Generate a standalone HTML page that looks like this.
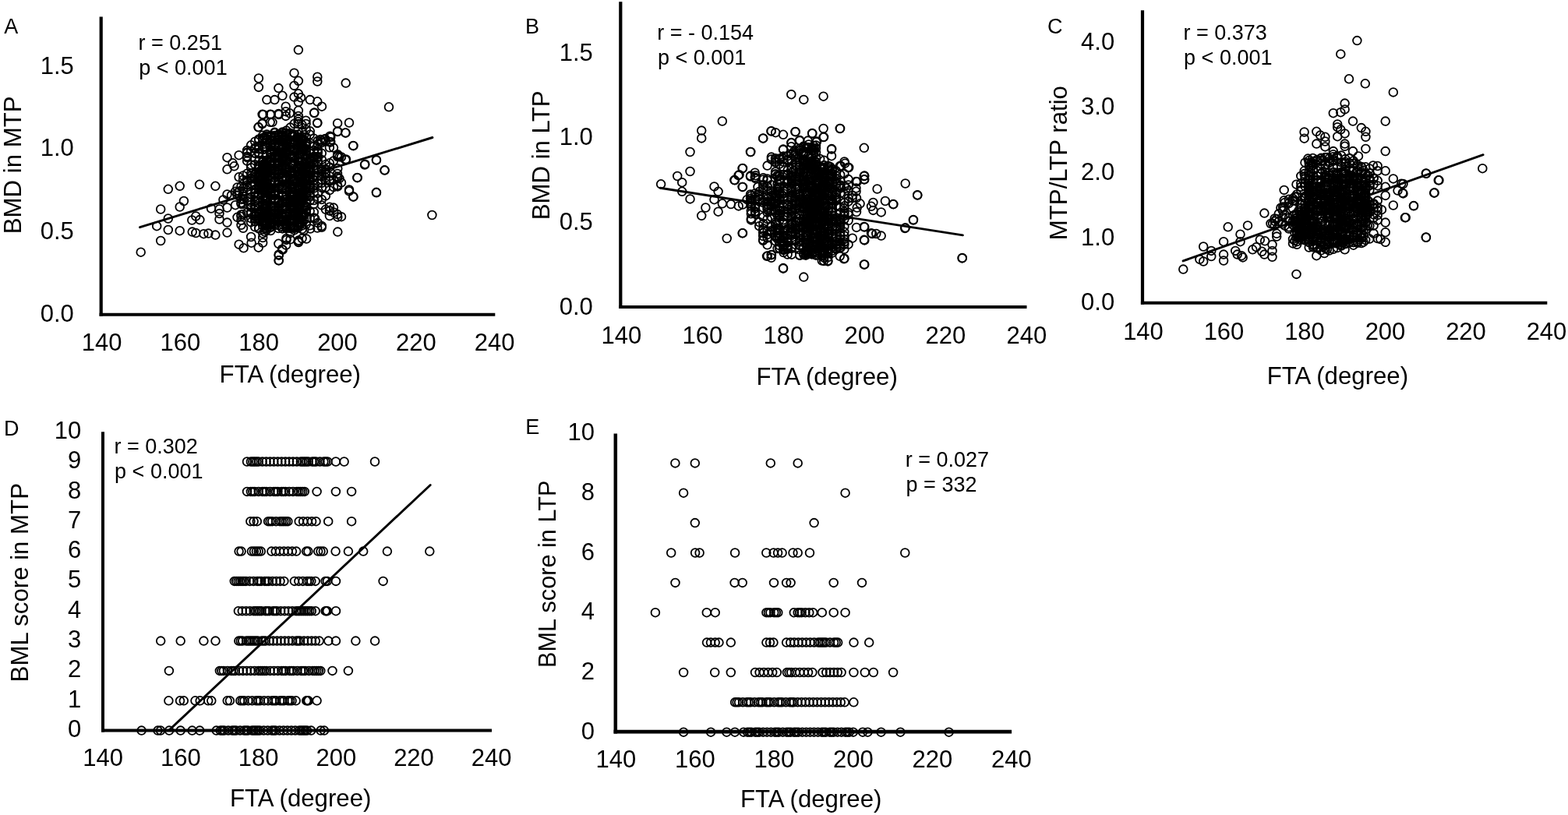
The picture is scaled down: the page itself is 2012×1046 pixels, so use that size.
<!DOCTYPE html>
<html><head><meta charset="utf-8"><title>Scatter plots: FTA vs BMD and BML scores</title>
<style>html,body{margin:0;padding:0;background:#fff}svg{display:block}</style></head>
<body><svg width="2012" height="1046" viewBox="0 0 2012 1046">
<rect width="2012" height="1046" fill="#fff"/>
<g fill="#000" font-family="Liberation Sans, Arial, Helvetica, sans-serif" font-size="31">
<text x="5.3" y="42.9" font-size="27">A</text>
<text x="94.8" y="412.8" text-anchor="end">0.0</text>
<text x="94.8" y="306.5" text-anchor="end">0.5</text>
<text x="94.8" y="200.3" text-anchor="end">1.0</text>
<text x="94.8" y="95.2" text-anchor="end">1.5</text>
<text x="130.6" y="449.8" text-anchor="middle">140</text>
<text x="231.4" y="449.8" text-anchor="middle">160</text>
<text x="332.2" y="449.8" text-anchor="middle">180</text>
<text x="433.0" y="449.8" text-anchor="middle">200</text>
<text x="533.8" y="449.8" text-anchor="middle">220</text>
<text x="634.6" y="449.8" text-anchor="middle">240</text>
<text x="281.6" y="490.8" font-size="31.2">FTA (degree)</text>
<text x="26.6" y="300.2" font-size="31.2" transform="rotate(-90 26.6 300.2)">BMD in MTP</text>
<text x="177.6" y="64.2" font-size="27">r = 0.251</text>
<text x="178.3" y="95.8" font-size="27">p &lt; 0.001</text>
<text x="673.9" y="42.9" font-size="27">B</text>
<text x="760.8" y="403.5" text-anchor="end">0.0</text>
<text x="760.8" y="295.0" text-anchor="end">0.5</text>
<text x="760.8" y="186.2" text-anchor="end">1.0</text>
<text x="760.8" y="78.2" text-anchor="end">1.5</text>
<text x="797.4" y="440.9" text-anchor="middle">140</text>
<text x="901.4" y="440.9" text-anchor="middle">160</text>
<text x="1005.4" y="440.9" text-anchor="middle">180</text>
<text x="1109.4" y="440.9" text-anchor="middle">200</text>
<text x="1213.4" y="440.9" text-anchor="middle">220</text>
<text x="1317.4" y="440.9" text-anchor="middle">240</text>
<text x="970.4" y="493.9" font-size="31.2">FTA (degree)</text>
<text x="705.1" y="282.3" font-size="31.2" transform="rotate(-90 705.1 282.3)">BMD in LTP</text>
<text x="843.2" y="51.2" font-size="27">r = - 0.154</text>
<text x="843.9" y="83.0" font-size="27">p &lt; 0.001</text>
<text x="1344.1" y="42.8" font-size="27">C</text>
<text x="1430.2" y="398.3" text-anchor="end">0.0</text>
<text x="1430.2" y="314.8" text-anchor="end">1.0</text>
<text x="1430.2" y="231.1" text-anchor="end">2.0</text>
<text x="1430.2" y="147.0" text-anchor="end">3.0</text>
<text x="1430.2" y="64.0" text-anchor="end">4.0</text>
<text x="1467.0" y="435.8" text-anchor="middle">140</text>
<text x="1570.5" y="435.8" text-anchor="middle">160</text>
<text x="1674.0" y="435.8" text-anchor="middle">180</text>
<text x="1777.5" y="435.8" text-anchor="middle">200</text>
<text x="1881.0" y="435.8" text-anchor="middle">220</text>
<text x="1984.5" y="435.8" text-anchor="middle">240</text>
<text x="1625.7" y="493.2" font-size="31.2">FTA (degree)</text>
<text x="1368.8" y="308.2" font-size="31.2" transform="rotate(-90 1368.8 308.2)">MTP/LTP ratio</text>
<text x="1518.4" y="51.2" font-size="27">r = 0.373</text>
<text x="1519.1" y="83.0" font-size="27">p &lt; 0.001</text>
<text x="4.9" y="559.4" font-size="27">D</text>
<text x="104.3" y="945.8" text-anchor="end">0</text>
<text x="104.3" y="907.5" text-anchor="end">1</text>
<text x="104.3" y="869.2" text-anchor="end">2</text>
<text x="104.3" y="830.9" text-anchor="end">3</text>
<text x="104.3" y="792.6" text-anchor="end">4</text>
<text x="104.3" y="754.3" text-anchor="end">5</text>
<text x="104.3" y="716.1" text-anchor="end">6</text>
<text x="104.3" y="677.8" text-anchor="end">7</text>
<text x="104.3" y="639.5" text-anchor="end">8</text>
<text x="104.3" y="601.2" text-anchor="end">9</text>
<text x="104.3" y="562.9" text-anchor="end">10</text>
<text x="132.2" y="983.3" text-anchor="middle">140</text>
<text x="231.9" y="983.3" text-anchor="middle">160</text>
<text x="331.6" y="983.3" text-anchor="middle">180</text>
<text x="431.3" y="983.3" text-anchor="middle">200</text>
<text x="531.0" y="983.3" text-anchor="middle">220</text>
<text x="630.7" y="983.3" text-anchor="middle">240</text>
<text x="295.0" y="1034.6" font-size="31.2">FTA (degree)</text>
<text x="35.8" y="875.4" font-size="31.2" transform="rotate(-90 35.8 875.4)">BML score in MTP</text>
<text x="146.4" y="582.4" font-size="27">r = 0.302</text>
<text x="147.1" y="614.4" font-size="27">p &lt; 0.001</text>
<text x="674.2" y="557.0" font-size="27">E</text>
<text x="763.0" y="948.6" text-anchor="end">0</text>
<text x="763.0" y="871.9" text-anchor="end">2</text>
<text x="763.0" y="795.3" text-anchor="end">4</text>
<text x="763.0" y="718.6" text-anchor="end">6</text>
<text x="763.0" y="642.0" text-anchor="end">8</text>
<text x="763.0" y="565.3" text-anchor="end">10</text>
<text x="790.3" y="985.2" text-anchor="middle">140</text>
<text x="891.8" y="985.2" text-anchor="middle">160</text>
<text x="993.3" y="985.2" text-anchor="middle">180</text>
<text x="1094.8" y="985.2" text-anchor="middle">200</text>
<text x="1196.3" y="985.2" text-anchor="middle">220</text>
<text x="1297.8" y="985.2" text-anchor="middle">240</text>
<text x="950.0" y="1036.2" font-size="31.2">FTA (degree)</text>
<text x="712.7" y="857.0" font-size="30.7" transform="rotate(-90 712.7 857.0)">BML score in LTP</text>
<text x="1161.8" y="598.6" font-size="27">r = 0.027</text>
<text x="1162.6" y="630.6" font-size="27">p = 332</text>
</g>
<g stroke="#000" fill="none" stroke-linecap="butt">
<path d="M129.7 21.6 V405.8" stroke-width="4.2"/>
<path d="M127.6 403.8 H635.3" stroke-width="4.0"/>
<path d="M796.3 2.3 V396.1" stroke-width="4.2"/>
<path d="M794.1999999999999 394.1 H1317.5" stroke-width="4.0"/>
<path d="M1466.0 13.2 V390.7" stroke-width="4.2"/>
<path d="M1463.9 388.7 H1985.3" stroke-width="4.0"/>
<path d="M132.0 554.3 V939.6" stroke-width="4.0"/>
<path d="M130.0 937.5 H631.0" stroke-width="4.2"/>
<path d="M789.8 556.4 V941.4" stroke-width="4.5"/>
<path d="M787.55 939.1 H1298.1" stroke-width="4.6"/>
</g>
<g stroke="#000" fill="none" stroke-width="1.8">
<circle cx="322.1" cy="259.5" r="5.35"/>
<circle cx="327.2" cy="222.8" r="5.35"/>
<circle cx="327.2" cy="224.3" r="5.35"/>
<circle cx="327.2" cy="227.5" r="5.35"/>
<circle cx="327.2" cy="230.1" r="5.35"/>
<circle cx="327.2" cy="237.4" r="5.35"/>
<circle cx="327.2" cy="243.0" r="5.35"/>
<circle cx="327.2" cy="247.7" r="5.35"/>
<circle cx="327.2" cy="252.1" r="5.35"/>
<circle cx="327.2" cy="257.4" r="5.35"/>
<circle cx="327.2" cy="259.4" r="5.35"/>
<circle cx="327.2" cy="262.9" r="5.35"/>
<circle cx="327.2" cy="265.1" r="5.35"/>
<circle cx="327.2" cy="274.8" r="5.35"/>
<circle cx="327.2" cy="276.6" r="5.35"/>
<circle cx="327.2" cy="284.0" r="5.35"/>
<circle cx="332.2" cy="213.6" r="5.35"/>
<circle cx="332.2" cy="216.9" r="5.35"/>
<circle cx="332.2" cy="224.8" r="5.35"/>
<circle cx="332.2" cy="226.4" r="5.35"/>
<circle cx="332.2" cy="228.1" r="5.35"/>
<circle cx="332.2" cy="238.3" r="5.35"/>
<circle cx="332.2" cy="242.2" r="5.35"/>
<circle cx="332.2" cy="244.1" r="5.35"/>
<circle cx="332.2" cy="260.8" r="5.35"/>
<circle cx="332.2" cy="272.6" r="5.35"/>
<circle cx="332.2" cy="274.5" r="5.35"/>
<circle cx="332.2" cy="277.9" r="5.35"/>
<circle cx="332.2" cy="279.9" r="5.35"/>
<circle cx="332.2" cy="282.7" r="5.35"/>
<circle cx="337.2" cy="211.8" r="5.35"/>
<circle cx="337.2" cy="213.5" r="5.35"/>
<circle cx="337.2" cy="215.7" r="5.35"/>
<circle cx="337.2" cy="223.1" r="5.35"/>
<circle cx="337.2" cy="226.4" r="5.35"/>
<circle cx="337.2" cy="229.8" r="5.35"/>
<circle cx="337.2" cy="234.5" r="5.35"/>
<circle cx="337.2" cy="238.2" r="5.35"/>
<circle cx="337.2" cy="241.4" r="5.35"/>
<circle cx="337.2" cy="243.0" r="5.35"/>
<circle cx="337.2" cy="249.1" r="5.35"/>
<circle cx="337.2" cy="262.6" r="5.35"/>
<circle cx="337.2" cy="277.2" r="5.35"/>
<circle cx="337.2" cy="282.5" r="5.35"/>
<circle cx="337.2" cy="285.5" r="5.35"/>
<circle cx="339.8" cy="210.7" r="5.35"/>
<circle cx="339.8" cy="216.1" r="5.35"/>
<circle cx="339.8" cy="218.0" r="5.35"/>
<circle cx="339.8" cy="220.4" r="5.35"/>
<circle cx="339.8" cy="223.5" r="5.35"/>
<circle cx="339.8" cy="227.5" r="5.35"/>
<circle cx="339.8" cy="234.8" r="5.35"/>
<circle cx="339.8" cy="238.8" r="5.35"/>
<circle cx="339.8" cy="240.4" r="5.35"/>
<circle cx="339.8" cy="247.9" r="5.35"/>
<circle cx="339.8" cy="251.4" r="5.35"/>
<circle cx="339.8" cy="255.4" r="5.35"/>
<circle cx="339.8" cy="257.8" r="5.35"/>
<circle cx="339.8" cy="261.3" r="5.35"/>
<circle cx="339.8" cy="264.5" r="5.35"/>
<circle cx="339.8" cy="271.2" r="5.35"/>
<circle cx="339.8" cy="273.0" r="5.35"/>
<circle cx="339.8" cy="277.3" r="5.35"/>
<circle cx="339.8" cy="279.5" r="5.35"/>
<circle cx="339.8" cy="285.2" r="5.35"/>
<circle cx="339.8" cy="286.8" r="5.35"/>
<circle cx="342.3" cy="209.4" r="5.35"/>
<circle cx="342.3" cy="211.1" r="5.35"/>
<circle cx="342.3" cy="214.7" r="5.35"/>
<circle cx="342.3" cy="217.0" r="5.35"/>
<circle cx="342.3" cy="219.7" r="5.35"/>
<circle cx="342.3" cy="223.5" r="5.35"/>
<circle cx="342.3" cy="236.1" r="5.35"/>
<circle cx="342.3" cy="239.9" r="5.35"/>
<circle cx="342.3" cy="252.3" r="5.35"/>
<circle cx="342.3" cy="254.5" r="5.35"/>
<circle cx="342.3" cy="265.0" r="5.35"/>
<circle cx="342.3" cy="268.1" r="5.35"/>
<circle cx="342.3" cy="270.3" r="5.35"/>
<circle cx="342.3" cy="276.7" r="5.35"/>
<circle cx="342.3" cy="286.7" r="5.35"/>
<circle cx="342.3" cy="288.2" r="5.35"/>
<circle cx="347.3" cy="192.1" r="5.35"/>
<circle cx="347.3" cy="194.6" r="5.35"/>
<circle cx="347.3" cy="196.1" r="5.35"/>
<circle cx="347.3" cy="197.8" r="5.35"/>
<circle cx="347.3" cy="202.7" r="5.35"/>
<circle cx="347.3" cy="218.6" r="5.35"/>
<circle cx="347.3" cy="242.8" r="5.35"/>
<circle cx="347.3" cy="246.8" r="5.35"/>
<circle cx="347.3" cy="248.4" r="5.35"/>
<circle cx="347.3" cy="251.2" r="5.35"/>
<circle cx="347.3" cy="258.1" r="5.35"/>
<circle cx="347.3" cy="265.9" r="5.35"/>
<circle cx="347.3" cy="271.0" r="5.35"/>
<circle cx="347.3" cy="273.4" r="5.35"/>
<circle cx="347.3" cy="277.5" r="5.35"/>
<circle cx="347.3" cy="281.3" r="5.35"/>
<circle cx="347.3" cy="286.2" r="5.35"/>
<circle cx="347.3" cy="288.8" r="5.35"/>
<circle cx="352.4" cy="174.1" r="5.35"/>
<circle cx="352.4" cy="176.8" r="5.35"/>
<circle cx="352.4" cy="185.5" r="5.35"/>
<circle cx="352.4" cy="188.1" r="5.35"/>
<circle cx="352.4" cy="199.7" r="5.35"/>
<circle cx="352.4" cy="203.8" r="5.35"/>
<circle cx="352.4" cy="209.4" r="5.35"/>
<circle cx="352.4" cy="215.2" r="5.35"/>
<circle cx="352.4" cy="217.5" r="5.35"/>
<circle cx="352.4" cy="220.2" r="5.35"/>
<circle cx="352.4" cy="222.7" r="5.35"/>
<circle cx="352.4" cy="228.3" r="5.35"/>
<circle cx="352.4" cy="233.9" r="5.35"/>
<circle cx="352.4" cy="235.9" r="5.35"/>
<circle cx="352.4" cy="245.0" r="5.35"/>
<circle cx="352.4" cy="248.4" r="5.35"/>
<circle cx="352.4" cy="250.9" r="5.35"/>
<circle cx="352.4" cy="254.4" r="5.35"/>
<circle cx="352.4" cy="269.5" r="5.35"/>
<circle cx="352.4" cy="273.9" r="5.35"/>
<circle cx="352.4" cy="278.8" r="5.35"/>
<circle cx="352.4" cy="289.1" r="5.35"/>
<circle cx="357.4" cy="174.1" r="5.35"/>
<circle cx="357.4" cy="178.7" r="5.35"/>
<circle cx="357.4" cy="188.3" r="5.35"/>
<circle cx="357.4" cy="195.2" r="5.35"/>
<circle cx="357.4" cy="199.7" r="5.35"/>
<circle cx="357.4" cy="202.7" r="5.35"/>
<circle cx="357.4" cy="205.8" r="5.35"/>
<circle cx="357.4" cy="212.0" r="5.35"/>
<circle cx="357.4" cy="216.4" r="5.35"/>
<circle cx="357.4" cy="218.0" r="5.35"/>
<circle cx="357.4" cy="223.8" r="5.35"/>
<circle cx="357.4" cy="233.5" r="5.35"/>
<circle cx="357.4" cy="240.6" r="5.35"/>
<circle cx="357.4" cy="250.1" r="5.35"/>
<circle cx="357.4" cy="260.0" r="5.35"/>
<circle cx="357.4" cy="264.2" r="5.35"/>
<circle cx="357.4" cy="271.1" r="5.35"/>
<circle cx="357.4" cy="274.3" r="5.35"/>
<circle cx="357.4" cy="276.2" r="5.35"/>
<circle cx="357.4" cy="279.2" r="5.35"/>
<circle cx="357.4" cy="282.0" r="5.35"/>
<circle cx="357.4" cy="293.0" r="5.35"/>
<circle cx="362.4" cy="174.0" r="5.35"/>
<circle cx="362.4" cy="175.9" r="5.35"/>
<circle cx="362.4" cy="180.1" r="5.35"/>
<circle cx="362.4" cy="185.8" r="5.35"/>
<circle cx="362.4" cy="189.1" r="5.35"/>
<circle cx="362.4" cy="191.6" r="5.35"/>
<circle cx="362.4" cy="194.9" r="5.35"/>
<circle cx="362.4" cy="197.8" r="5.35"/>
<circle cx="362.4" cy="203.3" r="5.35"/>
<circle cx="362.4" cy="205.3" r="5.35"/>
<circle cx="362.4" cy="207.2" r="5.35"/>
<circle cx="362.4" cy="210.0" r="5.35"/>
<circle cx="362.4" cy="215.6" r="5.35"/>
<circle cx="362.4" cy="222.1" r="5.35"/>
<circle cx="362.4" cy="227.4" r="5.35"/>
<circle cx="362.4" cy="238.5" r="5.35"/>
<circle cx="362.4" cy="241.6" r="5.35"/>
<circle cx="362.4" cy="243.2" r="5.35"/>
<circle cx="362.4" cy="247.0" r="5.35"/>
<circle cx="362.4" cy="250.6" r="5.35"/>
<circle cx="362.4" cy="252.7" r="5.35"/>
<circle cx="362.4" cy="258.1" r="5.35"/>
<circle cx="362.4" cy="261.1" r="5.35"/>
<circle cx="362.4" cy="263.5" r="5.35"/>
<circle cx="362.4" cy="266.4" r="5.35"/>
<circle cx="362.4" cy="278.0" r="5.35"/>
<circle cx="362.4" cy="279.5" r="5.35"/>
<circle cx="362.4" cy="282.6" r="5.35"/>
<circle cx="362.4" cy="285.2" r="5.35"/>
<circle cx="362.4" cy="287.5" r="5.35"/>
<circle cx="362.4" cy="291.0" r="5.35"/>
<circle cx="362.4" cy="293.4" r="5.35"/>
<circle cx="367.5" cy="173.6" r="5.35"/>
<circle cx="367.5" cy="175.8" r="5.35"/>
<circle cx="367.5" cy="179.4" r="5.35"/>
<circle cx="367.5" cy="184.2" r="5.35"/>
<circle cx="367.5" cy="192.2" r="5.35"/>
<circle cx="367.5" cy="194.7" r="5.35"/>
<circle cx="367.5" cy="198.3" r="5.35"/>
<circle cx="367.5" cy="206.6" r="5.35"/>
<circle cx="367.5" cy="214.3" r="5.35"/>
<circle cx="367.5" cy="216.7" r="5.35"/>
<circle cx="367.5" cy="220.9" r="5.35"/>
<circle cx="367.5" cy="227.5" r="5.35"/>
<circle cx="367.5" cy="230.7" r="5.35"/>
<circle cx="367.5" cy="236.1" r="5.35"/>
<circle cx="367.5" cy="241.4" r="5.35"/>
<circle cx="367.5" cy="255.5" r="5.35"/>
<circle cx="367.5" cy="259.8" r="5.35"/>
<circle cx="367.5" cy="265.3" r="5.35"/>
<circle cx="367.5" cy="268.3" r="5.35"/>
<circle cx="367.5" cy="274.5" r="5.35"/>
<circle cx="367.5" cy="277.3" r="5.35"/>
<circle cx="367.5" cy="281.2" r="5.35"/>
<circle cx="367.5" cy="284.3" r="5.35"/>
<circle cx="367.5" cy="287.1" r="5.35"/>
<circle cx="367.5" cy="289.1" r="5.35"/>
<circle cx="367.5" cy="291.5" r="5.35"/>
<circle cx="372.5" cy="172.3" r="5.35"/>
<circle cx="372.5" cy="179.5" r="5.35"/>
<circle cx="372.5" cy="182.1" r="5.35"/>
<circle cx="372.5" cy="193.3" r="5.35"/>
<circle cx="372.5" cy="198.0" r="5.35"/>
<circle cx="372.5" cy="201.2" r="5.35"/>
<circle cx="372.5" cy="209.9" r="5.35"/>
<circle cx="372.5" cy="219.4" r="5.35"/>
<circle cx="372.5" cy="222.2" r="5.35"/>
<circle cx="372.5" cy="224.2" r="5.35"/>
<circle cx="372.5" cy="229.3" r="5.35"/>
<circle cx="372.5" cy="237.2" r="5.35"/>
<circle cx="372.5" cy="242.0" r="5.35"/>
<circle cx="372.5" cy="248.9" r="5.35"/>
<circle cx="372.5" cy="252.3" r="5.35"/>
<circle cx="372.5" cy="257.1" r="5.35"/>
<circle cx="372.5" cy="259.7" r="5.35"/>
<circle cx="372.5" cy="263.0" r="5.35"/>
<circle cx="372.5" cy="266.2" r="5.35"/>
<circle cx="372.5" cy="269.4" r="5.35"/>
<circle cx="372.5" cy="272.7" r="5.35"/>
<circle cx="372.5" cy="279.9" r="5.35"/>
<circle cx="372.5" cy="282.1" r="5.35"/>
<circle cx="372.5" cy="284.4" r="5.35"/>
<circle cx="372.5" cy="286.9" r="5.35"/>
<circle cx="375.0" cy="173.9" r="5.35"/>
<circle cx="375.0" cy="175.6" r="5.35"/>
<circle cx="375.0" cy="183.4" r="5.35"/>
<circle cx="375.0" cy="192.2" r="5.35"/>
<circle cx="375.0" cy="199.7" r="5.35"/>
<circle cx="375.0" cy="202.8" r="5.35"/>
<circle cx="375.0" cy="208.9" r="5.35"/>
<circle cx="375.0" cy="211.7" r="5.35"/>
<circle cx="375.0" cy="213.7" r="5.35"/>
<circle cx="375.0" cy="222.2" r="5.35"/>
<circle cx="375.0" cy="230.0" r="5.35"/>
<circle cx="375.0" cy="232.3" r="5.35"/>
<circle cx="375.0" cy="241.2" r="5.35"/>
<circle cx="375.0" cy="242.8" r="5.35"/>
<circle cx="375.0" cy="245.6" r="5.35"/>
<circle cx="375.0" cy="247.1" r="5.35"/>
<circle cx="375.0" cy="249.3" r="5.35"/>
<circle cx="375.0" cy="251.4" r="5.35"/>
<circle cx="375.0" cy="257.3" r="5.35"/>
<circle cx="375.0" cy="260.1" r="5.35"/>
<circle cx="375.0" cy="262.3" r="5.35"/>
<circle cx="375.0" cy="264.5" r="5.35"/>
<circle cx="375.0" cy="267.3" r="5.35"/>
<circle cx="375.0" cy="275.7" r="5.35"/>
<circle cx="375.0" cy="280.5" r="5.35"/>
<circle cx="375.0" cy="282.4" r="5.35"/>
<circle cx="375.0" cy="287.9" r="5.35"/>
<circle cx="375.0" cy="292.1" r="5.35"/>
<circle cx="377.6" cy="175.0" r="5.35"/>
<circle cx="377.6" cy="182.1" r="5.35"/>
<circle cx="377.6" cy="186.1" r="5.35"/>
<circle cx="377.6" cy="191.1" r="5.35"/>
<circle cx="377.6" cy="194.8" r="5.35"/>
<circle cx="377.6" cy="199.9" r="5.35"/>
<circle cx="377.6" cy="203.1" r="5.35"/>
<circle cx="377.6" cy="206.5" r="5.35"/>
<circle cx="377.6" cy="210.5" r="5.35"/>
<circle cx="377.6" cy="216.4" r="5.35"/>
<circle cx="377.6" cy="219.0" r="5.35"/>
<circle cx="377.6" cy="229.6" r="5.35"/>
<circle cx="377.6" cy="233.5" r="5.35"/>
<circle cx="377.6" cy="241.7" r="5.35"/>
<circle cx="377.6" cy="247.3" r="5.35"/>
<circle cx="377.6" cy="259.8" r="5.35"/>
<circle cx="377.6" cy="265.3" r="5.35"/>
<circle cx="377.6" cy="268.8" r="5.35"/>
<circle cx="377.6" cy="272.1" r="5.35"/>
<circle cx="377.6" cy="276.9" r="5.35"/>
<circle cx="377.6" cy="283.3" r="5.35"/>
<circle cx="377.6" cy="291.2" r="5.35"/>
<circle cx="377.6" cy="293.1" r="5.35"/>
<circle cx="382.6" cy="175.7" r="5.35"/>
<circle cx="382.6" cy="177.4" r="5.35"/>
<circle cx="382.6" cy="178.9" r="5.35"/>
<circle cx="382.6" cy="181.4" r="5.35"/>
<circle cx="382.6" cy="183.3" r="5.35"/>
<circle cx="382.6" cy="188.9" r="5.35"/>
<circle cx="382.6" cy="193.7" r="5.35"/>
<circle cx="382.6" cy="207.0" r="5.35"/>
<circle cx="382.6" cy="219.8" r="5.35"/>
<circle cx="382.6" cy="226.2" r="5.35"/>
<circle cx="382.6" cy="238.1" r="5.35"/>
<circle cx="382.6" cy="239.7" r="5.35"/>
<circle cx="382.6" cy="242.1" r="5.35"/>
<circle cx="382.6" cy="252.7" r="5.35"/>
<circle cx="382.6" cy="256.5" r="5.35"/>
<circle cx="382.6" cy="258.8" r="5.35"/>
<circle cx="382.6" cy="265.3" r="5.35"/>
<circle cx="382.6" cy="268.7" r="5.35"/>
<circle cx="382.6" cy="272.9" r="5.35"/>
<circle cx="382.6" cy="275.7" r="5.35"/>
<circle cx="382.6" cy="278.2" r="5.35"/>
<circle cx="382.6" cy="280.0" r="5.35"/>
<circle cx="382.6" cy="284.8" r="5.35"/>
<circle cx="385.1" cy="178.1" r="5.35"/>
<circle cx="385.1" cy="184.7" r="5.35"/>
<circle cx="385.1" cy="195.7" r="5.35"/>
<circle cx="385.1" cy="198.7" r="5.35"/>
<circle cx="385.1" cy="201.5" r="5.35"/>
<circle cx="385.1" cy="212.0" r="5.35"/>
<circle cx="385.1" cy="216.7" r="5.35"/>
<circle cx="385.1" cy="222.0" r="5.35"/>
<circle cx="385.1" cy="223.6" r="5.35"/>
<circle cx="385.1" cy="226.0" r="5.35"/>
<circle cx="385.1" cy="229.8" r="5.35"/>
<circle cx="385.1" cy="235.9" r="5.35"/>
<circle cx="385.1" cy="243.5" r="5.35"/>
<circle cx="385.1" cy="250.0" r="5.35"/>
<circle cx="385.1" cy="252.9" r="5.35"/>
<circle cx="385.1" cy="256.1" r="5.35"/>
<circle cx="385.1" cy="264.5" r="5.35"/>
<circle cx="385.1" cy="282.0" r="5.35"/>
<circle cx="385.1" cy="285.8" r="5.35"/>
<circle cx="385.1" cy="288.1" r="5.35"/>
<circle cx="387.6" cy="177.8" r="5.35"/>
<circle cx="387.6" cy="180.3" r="5.35"/>
<circle cx="387.6" cy="183.5" r="5.35"/>
<circle cx="387.6" cy="188.3" r="5.35"/>
<circle cx="387.6" cy="190.3" r="5.35"/>
<circle cx="387.6" cy="194.5" r="5.35"/>
<circle cx="387.6" cy="206.6" r="5.35"/>
<circle cx="387.6" cy="212.9" r="5.35"/>
<circle cx="387.6" cy="215.4" r="5.35"/>
<circle cx="387.6" cy="218.8" r="5.35"/>
<circle cx="387.6" cy="220.7" r="5.35"/>
<circle cx="387.6" cy="226.9" r="5.35"/>
<circle cx="387.6" cy="231.9" r="5.35"/>
<circle cx="387.6" cy="234.0" r="5.35"/>
<circle cx="387.6" cy="238.3" r="5.35"/>
<circle cx="387.6" cy="243.0" r="5.35"/>
<circle cx="387.6" cy="247.5" r="5.35"/>
<circle cx="387.6" cy="250.7" r="5.35"/>
<circle cx="387.6" cy="253.5" r="5.35"/>
<circle cx="387.6" cy="256.5" r="5.35"/>
<circle cx="387.6" cy="279.1" r="5.35"/>
<circle cx="387.6" cy="282.0" r="5.35"/>
<circle cx="387.6" cy="285.9" r="5.35"/>
<circle cx="387.6" cy="289.6" r="5.35"/>
<circle cx="392.7" cy="184.7" r="5.35"/>
<circle cx="392.7" cy="187.6" r="5.35"/>
<circle cx="392.7" cy="190.7" r="5.35"/>
<circle cx="392.7" cy="193.7" r="5.35"/>
<circle cx="392.7" cy="204.9" r="5.35"/>
<circle cx="392.7" cy="207.7" r="5.35"/>
<circle cx="392.7" cy="210.6" r="5.35"/>
<circle cx="392.7" cy="215.8" r="5.35"/>
<circle cx="392.7" cy="219.1" r="5.35"/>
<circle cx="392.7" cy="223.1" r="5.35"/>
<circle cx="392.7" cy="228.3" r="5.35"/>
<circle cx="392.7" cy="230.0" r="5.35"/>
<circle cx="392.7" cy="235.4" r="5.35"/>
<circle cx="392.7" cy="237.3" r="5.35"/>
<circle cx="392.7" cy="239.8" r="5.35"/>
<circle cx="392.7" cy="247.1" r="5.35"/>
<circle cx="392.7" cy="264.6" r="5.35"/>
<circle cx="392.7" cy="270.0" r="5.35"/>
<circle cx="397.7" cy="196.8" r="5.35"/>
<circle cx="397.7" cy="204.8" r="5.35"/>
<circle cx="397.7" cy="207.2" r="5.35"/>
<circle cx="397.7" cy="209.5" r="5.35"/>
<circle cx="397.7" cy="214.5" r="5.35"/>
<circle cx="397.7" cy="219.6" r="5.35"/>
<circle cx="397.7" cy="224.2" r="5.35"/>
<circle cx="397.7" cy="228.0" r="5.35"/>
<circle cx="397.7" cy="240.7" r="5.35"/>
<circle cx="397.7" cy="244.3" r="5.35"/>
<circle cx="402.8" cy="209.7" r="5.35"/>
<circle cx="402.8" cy="212.8" r="5.35"/>
<circle cx="402.8" cy="218.7" r="5.35"/>
<circle cx="402.8" cy="225.0" r="5.35"/>
<circle cx="402.8" cy="227.5" r="5.35"/>
<circle cx="402.8" cy="231.6" r="5.35"/>
<circle cx="402.8" cy="237.6" r="5.35"/>
<circle cx="402.8" cy="241.6" r="5.35"/>
<circle cx="312.0" cy="225.5" r="5.35"/>
<circle cx="312.0" cy="242.1" r="5.35"/>
<circle cx="312.0" cy="245.3" r="5.35"/>
<circle cx="312.0" cy="248.9" r="5.35"/>
<circle cx="312.0" cy="251.6" r="5.35"/>
<circle cx="312.0" cy="255.2" r="5.35"/>
<circle cx="317.1" cy="193.0" r="5.35"/>
<circle cx="317.1" cy="196.4" r="5.35"/>
<circle cx="317.1" cy="200.7" r="5.35"/>
<circle cx="317.1" cy="206.7" r="5.35"/>
<circle cx="317.1" cy="222.7" r="5.35"/>
<circle cx="317.1" cy="231.7" r="5.35"/>
<circle cx="317.1" cy="233.3" r="5.35"/>
<circle cx="317.1" cy="237.4" r="5.35"/>
<circle cx="317.1" cy="240.2" r="5.35"/>
<circle cx="317.1" cy="258.1" r="5.35"/>
<circle cx="317.1" cy="272.9" r="5.35"/>
<circle cx="322.1" cy="186.3" r="5.35"/>
<circle cx="322.1" cy="211.6" r="5.35"/>
<circle cx="322.1" cy="225.8" r="5.35"/>
<circle cx="322.1" cy="229.6" r="5.35"/>
<circle cx="322.1" cy="246.3" r="5.35"/>
<circle cx="322.1" cy="253.2" r="5.35"/>
<circle cx="322.1" cy="265.9" r="5.35"/>
<circle cx="322.1" cy="274.1" r="5.35"/>
<circle cx="322.1" cy="280.0" r="5.35"/>
<circle cx="322.1" cy="285.2" r="5.35"/>
<circle cx="327.2" cy="181.7" r="5.35"/>
<circle cx="327.2" cy="196.9" r="5.35"/>
<circle cx="327.2" cy="211.2" r="5.35"/>
<circle cx="327.2" cy="246.7" r="5.35"/>
<circle cx="327.2" cy="257.6" r="5.35"/>
<circle cx="327.2" cy="265.5" r="5.35"/>
<circle cx="327.2" cy="278.1" r="5.35"/>
<circle cx="327.2" cy="280.7" r="5.35"/>
<circle cx="327.2" cy="291.3" r="5.35"/>
<circle cx="332.2" cy="180.0" r="5.35"/>
<circle cx="332.2" cy="187.4" r="5.35"/>
<circle cx="332.2" cy="191.2" r="5.35"/>
<circle cx="332.2" cy="197.6" r="5.35"/>
<circle cx="332.2" cy="206.6" r="5.35"/>
<circle cx="332.2" cy="212.1" r="5.35"/>
<circle cx="332.2" cy="214.7" r="5.35"/>
<circle cx="332.2" cy="221.6" r="5.35"/>
<circle cx="332.2" cy="225.3" r="5.35"/>
<circle cx="332.2" cy="228.9" r="5.35"/>
<circle cx="332.2" cy="232.2" r="5.35"/>
<circle cx="332.2" cy="237.3" r="5.35"/>
<circle cx="332.2" cy="239.4" r="5.35"/>
<circle cx="332.2" cy="249.3" r="5.35"/>
<circle cx="332.2" cy="275.4" r="5.35"/>
<circle cx="332.2" cy="280.9" r="5.35"/>
<circle cx="332.2" cy="292.5" r="5.35"/>
<circle cx="337.2" cy="177.4" r="5.35"/>
<circle cx="337.2" cy="192.0" r="5.35"/>
<circle cx="337.2" cy="208.1" r="5.35"/>
<circle cx="337.2" cy="217.7" r="5.35"/>
<circle cx="337.2" cy="220.6" r="5.35"/>
<circle cx="337.2" cy="226.4" r="5.35"/>
<circle cx="337.2" cy="244.1" r="5.35"/>
<circle cx="337.2" cy="263.0" r="5.35"/>
<circle cx="337.2" cy="277.5" r="5.35"/>
<circle cx="337.2" cy="280.8" r="5.35"/>
<circle cx="339.8" cy="177.0" r="5.35"/>
<circle cx="339.8" cy="188.5" r="5.35"/>
<circle cx="339.8" cy="191.2" r="5.35"/>
<circle cx="339.8" cy="221.1" r="5.35"/>
<circle cx="339.8" cy="230.0" r="5.35"/>
<circle cx="339.8" cy="241.8" r="5.35"/>
<circle cx="339.8" cy="245.2" r="5.35"/>
<circle cx="339.8" cy="254.4" r="5.35"/>
<circle cx="339.8" cy="262.8" r="5.35"/>
<circle cx="339.8" cy="271.5" r="5.35"/>
<circle cx="339.8" cy="276.6" r="5.35"/>
<circle cx="339.8" cy="288.5" r="5.35"/>
<circle cx="339.8" cy="293.3" r="5.35"/>
<circle cx="339.8" cy="297.6" r="5.35"/>
<circle cx="342.3" cy="174.6" r="5.35"/>
<circle cx="342.3" cy="178.1" r="5.35"/>
<circle cx="342.3" cy="180.2" r="5.35"/>
<circle cx="342.3" cy="189.9" r="5.35"/>
<circle cx="342.3" cy="197.9" r="5.35"/>
<circle cx="342.3" cy="205.7" r="5.35"/>
<circle cx="342.3" cy="207.5" r="5.35"/>
<circle cx="342.3" cy="213.7" r="5.35"/>
<circle cx="342.3" cy="218.5" r="5.35"/>
<circle cx="342.3" cy="220.8" r="5.35"/>
<circle cx="342.3" cy="222.3" r="5.35"/>
<circle cx="342.3" cy="273.2" r="5.35"/>
<circle cx="342.3" cy="275.7" r="5.35"/>
<circle cx="342.3" cy="280.1" r="5.35"/>
<circle cx="342.3" cy="284.1" r="5.35"/>
<circle cx="342.3" cy="292.9" r="5.35"/>
<circle cx="342.3" cy="295.0" r="5.35"/>
<circle cx="347.3" cy="174.8" r="5.35"/>
<circle cx="347.3" cy="176.3" r="5.35"/>
<circle cx="347.3" cy="181.1" r="5.35"/>
<circle cx="347.3" cy="188.1" r="5.35"/>
<circle cx="347.3" cy="217.6" r="5.35"/>
<circle cx="347.3" cy="224.9" r="5.35"/>
<circle cx="347.3" cy="231.5" r="5.35"/>
<circle cx="347.3" cy="241.9" r="5.35"/>
<circle cx="347.3" cy="246.2" r="5.35"/>
<circle cx="347.3" cy="247.9" r="5.35"/>
<circle cx="347.3" cy="255.0" r="5.35"/>
<circle cx="347.3" cy="275.8" r="5.35"/>
<circle cx="347.3" cy="288.0" r="5.35"/>
<circle cx="347.3" cy="291.9" r="5.35"/>
<circle cx="352.4" cy="170.8" r="5.35"/>
<circle cx="352.4" cy="179.4" r="5.35"/>
<circle cx="352.4" cy="184.4" r="5.35"/>
<circle cx="352.4" cy="188.2" r="5.35"/>
<circle cx="352.4" cy="192.4" r="5.35"/>
<circle cx="352.4" cy="195.7" r="5.35"/>
<circle cx="352.4" cy="200.7" r="5.35"/>
<circle cx="352.4" cy="202.5" r="5.35"/>
<circle cx="352.4" cy="208.0" r="5.35"/>
<circle cx="352.4" cy="210.3" r="5.35"/>
<circle cx="352.4" cy="223.1" r="5.35"/>
<circle cx="352.4" cy="231.9" r="5.35"/>
<circle cx="352.4" cy="233.5" r="5.35"/>
<circle cx="352.4" cy="246.9" r="5.35"/>
<circle cx="352.4" cy="250.0" r="5.35"/>
<circle cx="352.4" cy="256.8" r="5.35"/>
<circle cx="352.4" cy="264.8" r="5.35"/>
<circle cx="352.4" cy="269.5" r="5.35"/>
<circle cx="352.4" cy="273.7" r="5.35"/>
<circle cx="352.4" cy="279.8" r="5.35"/>
<circle cx="352.4" cy="282.5" r="5.35"/>
<circle cx="357.4" cy="172.6" r="5.35"/>
<circle cx="357.4" cy="176.1" r="5.35"/>
<circle cx="357.4" cy="180.5" r="5.35"/>
<circle cx="357.4" cy="185.9" r="5.35"/>
<circle cx="357.4" cy="187.7" r="5.35"/>
<circle cx="357.4" cy="190.3" r="5.35"/>
<circle cx="357.4" cy="195.4" r="5.35"/>
<circle cx="357.4" cy="201.5" r="5.35"/>
<circle cx="357.4" cy="219.8" r="5.35"/>
<circle cx="357.4" cy="258.0" r="5.35"/>
<circle cx="357.4" cy="259.8" r="5.35"/>
<circle cx="357.4" cy="267.5" r="5.35"/>
<circle cx="357.4" cy="270.1" r="5.35"/>
<circle cx="357.4" cy="284.6" r="5.35"/>
<circle cx="357.4" cy="289.2" r="5.35"/>
<circle cx="362.4" cy="169.4" r="5.35"/>
<circle cx="362.4" cy="170.9" r="5.35"/>
<circle cx="362.4" cy="174.7" r="5.35"/>
<circle cx="362.4" cy="192.4" r="5.35"/>
<circle cx="362.4" cy="195.2" r="5.35"/>
<circle cx="362.4" cy="201.9" r="5.35"/>
<circle cx="362.4" cy="207.1" r="5.35"/>
<circle cx="362.4" cy="212.0" r="5.35"/>
<circle cx="362.4" cy="226.5" r="5.35"/>
<circle cx="362.4" cy="229.9" r="5.35"/>
<circle cx="362.4" cy="241.5" r="5.35"/>
<circle cx="362.4" cy="251.8" r="5.35"/>
<circle cx="362.4" cy="275.2" r="5.35"/>
<circle cx="362.4" cy="282.6" r="5.35"/>
<circle cx="367.5" cy="170.7" r="5.35"/>
<circle cx="367.5" cy="180.0" r="5.35"/>
<circle cx="367.5" cy="196.1" r="5.35"/>
<circle cx="367.5" cy="215.8" r="5.35"/>
<circle cx="367.5" cy="218.3" r="5.35"/>
<circle cx="367.5" cy="221.0" r="5.35"/>
<circle cx="367.5" cy="228.6" r="5.35"/>
<circle cx="367.5" cy="243.5" r="5.35"/>
<circle cx="367.5" cy="251.1" r="5.35"/>
<circle cx="367.5" cy="255.4" r="5.35"/>
<circle cx="367.5" cy="283.1" r="5.35"/>
<circle cx="367.5" cy="287.4" r="5.35"/>
<circle cx="367.5" cy="289.6" r="5.35"/>
<circle cx="367.5" cy="291.6" r="5.35"/>
<circle cx="367.5" cy="293.3" r="5.35"/>
<circle cx="372.5" cy="171.0" r="5.35"/>
<circle cx="372.5" cy="188.6" r="5.35"/>
<circle cx="372.5" cy="253.3" r="5.35"/>
<circle cx="372.5" cy="268.0" r="5.35"/>
<circle cx="372.5" cy="273.9" r="5.35"/>
<circle cx="372.5" cy="283.2" r="5.35"/>
<circle cx="372.5" cy="299.0" r="5.35"/>
<circle cx="377.6" cy="172.6" r="5.35"/>
<circle cx="377.6" cy="175.0" r="5.35"/>
<circle cx="377.6" cy="179.5" r="5.35"/>
<circle cx="377.6" cy="225.4" r="5.35"/>
<circle cx="377.6" cy="232.0" r="5.35"/>
<circle cx="377.6" cy="236.0" r="5.35"/>
<circle cx="377.6" cy="249.8" r="5.35"/>
<circle cx="377.6" cy="256.1" r="5.35"/>
<circle cx="377.6" cy="257.6" r="5.35"/>
<circle cx="377.6" cy="259.4" r="5.35"/>
<circle cx="377.6" cy="263.3" r="5.35"/>
<circle cx="377.6" cy="268.0" r="5.35"/>
<circle cx="377.6" cy="291.6" r="5.35"/>
<circle cx="377.6" cy="295.4" r="5.35"/>
<circle cx="382.6" cy="172.6" r="5.35"/>
<circle cx="382.6" cy="214.1" r="5.35"/>
<circle cx="382.6" cy="227.1" r="5.35"/>
<circle cx="382.6" cy="233.9" r="5.35"/>
<circle cx="382.6" cy="237.8" r="5.35"/>
<circle cx="382.6" cy="244.2" r="5.35"/>
<circle cx="382.6" cy="264.3" r="5.35"/>
<circle cx="382.6" cy="272.0" r="5.35"/>
<circle cx="382.6" cy="275.2" r="5.35"/>
<circle cx="382.6" cy="280.5" r="5.35"/>
<circle cx="382.6" cy="287.1" r="5.35"/>
<circle cx="382.6" cy="290.3" r="5.35"/>
<circle cx="387.6" cy="175.6" r="5.35"/>
<circle cx="387.6" cy="178.7" r="5.35"/>
<circle cx="387.6" cy="181.1" r="5.35"/>
<circle cx="387.6" cy="189.7" r="5.35"/>
<circle cx="387.6" cy="194.1" r="5.35"/>
<circle cx="387.6" cy="212.9" r="5.35"/>
<circle cx="387.6" cy="219.9" r="5.35"/>
<circle cx="387.6" cy="227.3" r="5.35"/>
<circle cx="387.6" cy="243.2" r="5.35"/>
<circle cx="387.6" cy="246.6" r="5.35"/>
<circle cx="387.6" cy="259.1" r="5.35"/>
<circle cx="387.6" cy="269.0" r="5.35"/>
<circle cx="387.6" cy="274.9" r="5.35"/>
<circle cx="390.2" cy="173.2" r="5.35"/>
<circle cx="390.2" cy="190.6" r="5.35"/>
<circle cx="390.2" cy="193.3" r="5.35"/>
<circle cx="390.2" cy="209.5" r="5.35"/>
<circle cx="390.2" cy="212.3" r="5.35"/>
<circle cx="390.2" cy="214.3" r="5.35"/>
<circle cx="390.2" cy="221.3" r="5.35"/>
<circle cx="390.2" cy="243.6" r="5.35"/>
<circle cx="390.2" cy="247.5" r="5.35"/>
<circle cx="390.2" cy="254.4" r="5.35"/>
<circle cx="390.2" cy="263.3" r="5.35"/>
<circle cx="390.2" cy="267.1" r="5.35"/>
<circle cx="390.2" cy="274.6" r="5.35"/>
<circle cx="390.2" cy="276.2" r="5.35"/>
<circle cx="390.2" cy="282.5" r="5.35"/>
<circle cx="390.2" cy="295.4" r="5.35"/>
<circle cx="392.7" cy="175.9" r="5.35"/>
<circle cx="392.7" cy="187.0" r="5.35"/>
<circle cx="392.7" cy="193.0" r="5.35"/>
<circle cx="392.7" cy="214.1" r="5.35"/>
<circle cx="392.7" cy="226.4" r="5.35"/>
<circle cx="392.7" cy="228.8" r="5.35"/>
<circle cx="392.7" cy="249.9" r="5.35"/>
<circle cx="392.7" cy="272.9" r="5.35"/>
<circle cx="392.7" cy="288.0" r="5.35"/>
<circle cx="397.7" cy="183.6" r="5.35"/>
<circle cx="397.7" cy="193.9" r="5.35"/>
<circle cx="397.7" cy="202.6" r="5.35"/>
<circle cx="397.7" cy="206.4" r="5.35"/>
<circle cx="397.7" cy="209.1" r="5.35"/>
<circle cx="397.7" cy="220.9" r="5.35"/>
<circle cx="397.7" cy="229.7" r="5.35"/>
<circle cx="397.7" cy="231.7" r="5.35"/>
<circle cx="397.7" cy="241.4" r="5.35"/>
<circle cx="397.7" cy="250.4" r="5.35"/>
<circle cx="397.7" cy="257.6" r="5.35"/>
<circle cx="397.7" cy="271.1" r="5.35"/>
<circle cx="397.7" cy="289.3" r="5.35"/>
<circle cx="402.8" cy="187.8" r="5.35"/>
<circle cx="402.8" cy="196.0" r="5.35"/>
<circle cx="402.8" cy="201.8" r="5.35"/>
<circle cx="402.8" cy="224.9" r="5.35"/>
<circle cx="402.8" cy="231.1" r="5.35"/>
<circle cx="402.8" cy="257.0" r="5.35"/>
<circle cx="402.8" cy="261.8" r="5.35"/>
<circle cx="402.8" cy="272.2" r="5.35"/>
<circle cx="407.8" cy="192.0" r="5.35"/>
<circle cx="407.8" cy="194.2" r="5.35"/>
<circle cx="407.8" cy="200.9" r="5.35"/>
<circle cx="407.8" cy="206.7" r="5.35"/>
<circle cx="407.8" cy="221.6" r="5.35"/>
<circle cx="407.8" cy="235.4" r="5.35"/>
<circle cx="412.8" cy="196.8" r="5.35"/>
<circle cx="412.8" cy="204.9" r="5.35"/>
<circle cx="412.8" cy="217.5" r="5.35"/>
<circle cx="412.8" cy="219.7" r="5.35"/>
<circle cx="412.8" cy="223.1" r="5.35"/>
<circle cx="412.8" cy="225.9" r="5.35"/>
<circle cx="412.8" cy="230.5" r="5.35"/>
<circle cx="412.8" cy="234.9" r="5.35"/>
<circle cx="417.9" cy="223.7" r="5.35"/>
<circle cx="417.9" cy="228.0" r="5.35"/>
<circle cx="417.9" cy="231.3" r="5.35"/>
<circle cx="296.9" cy="250.6" r="5.35"/>
<circle cx="302.0" cy="245.8" r="5.35"/>
<circle cx="302.0" cy="263.2" r="5.35"/>
<circle cx="304.5" cy="240.4" r="5.35"/>
<circle cx="304.5" cy="247.7" r="5.35"/>
<circle cx="304.5" cy="250.7" r="5.35"/>
<circle cx="304.5" cy="278.8" r="5.35"/>
<circle cx="307.0" cy="245.5" r="5.35"/>
<circle cx="309.5" cy="239.2" r="5.35"/>
<circle cx="309.5" cy="256.0" r="5.35"/>
<circle cx="309.5" cy="260.2" r="5.35"/>
<circle cx="309.5" cy="261.9" r="5.35"/>
<circle cx="309.5" cy="275.5" r="5.35"/>
<circle cx="309.5" cy="277.9" r="5.35"/>
<circle cx="309.5" cy="282.8" r="5.35"/>
<circle cx="309.5" cy="288.8" r="5.35"/>
<circle cx="312.0" cy="230.7" r="5.35"/>
<circle cx="312.0" cy="261.8" r="5.35"/>
<circle cx="312.0" cy="275.0" r="5.35"/>
<circle cx="312.0" cy="292.8" r="5.35"/>
<circle cx="317.1" cy="195.4" r="5.35"/>
<circle cx="317.1" cy="202.2" r="5.35"/>
<circle cx="322.1" cy="194.1" r="5.35"/>
<circle cx="322.1" cy="215.2" r="5.35"/>
<circle cx="322.1" cy="222.8" r="5.35"/>
<circle cx="322.1" cy="228.5" r="5.35"/>
<circle cx="322.1" cy="235.4" r="5.35"/>
<circle cx="322.1" cy="238.1" r="5.35"/>
<circle cx="322.1" cy="262.9" r="5.35"/>
<circle cx="322.1" cy="272.5" r="5.35"/>
<circle cx="322.1" cy="304.0" r="5.35"/>
<circle cx="327.2" cy="189.7" r="5.35"/>
<circle cx="327.2" cy="191.2" r="5.35"/>
<circle cx="327.2" cy="196.4" r="5.35"/>
<circle cx="327.2" cy="236.5" r="5.35"/>
<circle cx="327.2" cy="248.2" r="5.35"/>
<circle cx="332.2" cy="178.4" r="5.35"/>
<circle cx="332.2" cy="195.8" r="5.35"/>
<circle cx="332.2" cy="221.4" r="5.35"/>
<circle cx="332.2" cy="227.9" r="5.35"/>
<circle cx="332.2" cy="230.9" r="5.35"/>
<circle cx="332.2" cy="238.9" r="5.35"/>
<circle cx="332.2" cy="293.6" r="5.35"/>
<circle cx="337.2" cy="173.8" r="5.35"/>
<circle cx="337.2" cy="177.0" r="5.35"/>
<circle cx="337.2" cy="179.5" r="5.35"/>
<circle cx="337.2" cy="206.5" r="5.35"/>
<circle cx="337.2" cy="211.1" r="5.35"/>
<circle cx="337.2" cy="225.7" r="5.35"/>
<circle cx="337.2" cy="236.7" r="5.35"/>
<circle cx="337.2" cy="241.6" r="5.35"/>
<circle cx="337.2" cy="264.1" r="5.35"/>
<circle cx="337.2" cy="267.9" r="5.35"/>
<circle cx="337.2" cy="285.9" r="5.35"/>
<circle cx="337.2" cy="289.4" r="5.35"/>
<circle cx="337.2" cy="299.6" r="5.35"/>
<circle cx="337.2" cy="305.0" r="5.35"/>
<circle cx="337.2" cy="311.5" r="5.35"/>
<circle cx="339.8" cy="177.5" r="5.35"/>
<circle cx="339.8" cy="184.8" r="5.35"/>
<circle cx="339.8" cy="220.9" r="5.35"/>
<circle cx="339.8" cy="226.2" r="5.35"/>
<circle cx="339.8" cy="235.7" r="5.35"/>
<circle cx="339.8" cy="268.0" r="5.35"/>
<circle cx="339.8" cy="285.9" r="5.35"/>
<circle cx="339.8" cy="289.1" r="5.35"/>
<circle cx="342.3" cy="172.6" r="5.35"/>
<circle cx="342.3" cy="197.8" r="5.35"/>
<circle cx="342.3" cy="205.7" r="5.35"/>
<circle cx="342.3" cy="212.8" r="5.35"/>
<circle cx="342.3" cy="215.5" r="5.35"/>
<circle cx="342.3" cy="218.5" r="5.35"/>
<circle cx="342.3" cy="234.0" r="5.35"/>
<circle cx="342.3" cy="239.9" r="5.35"/>
<circle cx="342.3" cy="256.2" r="5.35"/>
<circle cx="342.3" cy="265.1" r="5.35"/>
<circle cx="342.3" cy="276.3" r="5.35"/>
<circle cx="347.3" cy="174.0" r="5.35"/>
<circle cx="347.3" cy="207.7" r="5.35"/>
<circle cx="347.3" cy="212.4" r="5.35"/>
<circle cx="347.3" cy="216.6" r="5.35"/>
<circle cx="347.3" cy="256.3" r="5.35"/>
<circle cx="347.3" cy="285.1" r="5.35"/>
<circle cx="347.3" cy="291.2" r="5.35"/>
<circle cx="347.3" cy="296.0" r="5.35"/>
<circle cx="352.4" cy="169.8" r="5.35"/>
<circle cx="352.4" cy="219.3" r="5.35"/>
<circle cx="352.4" cy="255.0" r="5.35"/>
<circle cx="352.4" cy="271.3" r="5.35"/>
<circle cx="352.4" cy="281.6" r="5.35"/>
<circle cx="352.4" cy="284.8" r="5.35"/>
<circle cx="352.4" cy="286.9" r="5.35"/>
<circle cx="357.4" cy="172.7" r="5.35"/>
<circle cx="357.4" cy="179.0" r="5.35"/>
<circle cx="357.4" cy="208.3" r="5.35"/>
<circle cx="357.4" cy="224.3" r="5.35"/>
<circle cx="357.4" cy="231.3" r="5.35"/>
<circle cx="357.4" cy="235.9" r="5.35"/>
<circle cx="357.4" cy="257.8" r="5.35"/>
<circle cx="357.4" cy="260.5" r="5.35"/>
<circle cx="357.4" cy="266.1" r="5.35"/>
<circle cx="357.4" cy="280.7" r="5.35"/>
<circle cx="357.4" cy="312.8" r="5.35"/>
<circle cx="362.4" cy="173.3" r="5.35"/>
<circle cx="362.4" cy="178.5" r="5.35"/>
<circle cx="362.4" cy="180.2" r="5.35"/>
<circle cx="362.4" cy="186.7" r="5.35"/>
<circle cx="362.4" cy="197.7" r="5.35"/>
<circle cx="362.4" cy="200.2" r="5.35"/>
<circle cx="362.4" cy="204.8" r="5.35"/>
<circle cx="362.4" cy="213.6" r="5.35"/>
<circle cx="362.4" cy="228.7" r="5.35"/>
<circle cx="362.4" cy="232.5" r="5.35"/>
<circle cx="362.4" cy="241.2" r="5.35"/>
<circle cx="362.4" cy="278.1" r="5.35"/>
<circle cx="367.5" cy="167.6" r="5.35"/>
<circle cx="367.5" cy="183.2" r="5.35"/>
<circle cx="367.5" cy="187.1" r="5.35"/>
<circle cx="367.5" cy="189.2" r="5.35"/>
<circle cx="367.5" cy="191.0" r="5.35"/>
<circle cx="367.5" cy="231.0" r="5.35"/>
<circle cx="367.5" cy="251.9" r="5.35"/>
<circle cx="367.5" cy="306.0" r="5.35"/>
<circle cx="367.5" cy="307.9" r="5.35"/>
<circle cx="372.5" cy="163.6" r="5.35"/>
<circle cx="372.5" cy="171.3" r="5.35"/>
<circle cx="372.5" cy="290.4" r="5.35"/>
<circle cx="372.5" cy="293.1" r="5.35"/>
<circle cx="372.5" cy="307.3" r="5.35"/>
<circle cx="377.6" cy="158.8" r="5.35"/>
<circle cx="377.6" cy="179.8" r="5.35"/>
<circle cx="377.6" cy="206.5" r="5.35"/>
<circle cx="377.6" cy="247.4" r="5.35"/>
<circle cx="377.6" cy="255.9" r="5.35"/>
<circle cx="377.6" cy="275.9" r="5.35"/>
<circle cx="382.6" cy="156.1" r="5.35"/>
<circle cx="382.6" cy="182.6" r="5.35"/>
<circle cx="382.6" cy="215.9" r="5.35"/>
<circle cx="382.6" cy="231.0" r="5.35"/>
<circle cx="382.6" cy="248.2" r="5.35"/>
<circle cx="382.6" cy="257.4" r="5.35"/>
<circle cx="382.6" cy="272.9" r="5.35"/>
<circle cx="382.6" cy="289.4" r="5.35"/>
<circle cx="382.6" cy="292.3" r="5.35"/>
<circle cx="382.6" cy="310.1" r="5.35"/>
<circle cx="387.6" cy="160.3" r="5.35"/>
<circle cx="387.6" cy="169.7" r="5.35"/>
<circle cx="387.6" cy="192.4" r="5.35"/>
<circle cx="387.6" cy="207.8" r="5.35"/>
<circle cx="387.6" cy="218.6" r="5.35"/>
<circle cx="387.6" cy="249.3" r="5.35"/>
<circle cx="387.6" cy="252.2" r="5.35"/>
<circle cx="387.6" cy="275.9" r="5.35"/>
<circle cx="387.6" cy="277.9" r="5.35"/>
<circle cx="387.6" cy="294.1" r="5.35"/>
<circle cx="387.6" cy="306.1" r="5.35"/>
<circle cx="392.7" cy="166.5" r="5.35"/>
<circle cx="392.7" cy="183.3" r="5.35"/>
<circle cx="392.7" cy="225.3" r="5.35"/>
<circle cx="392.7" cy="231.5" r="5.35"/>
<circle cx="392.7" cy="233.2" r="5.35"/>
<circle cx="392.7" cy="240.4" r="5.35"/>
<circle cx="392.7" cy="260.1" r="5.35"/>
<circle cx="392.7" cy="265.2" r="5.35"/>
<circle cx="392.7" cy="269.7" r="5.35"/>
<circle cx="397.7" cy="172.8" r="5.35"/>
<circle cx="397.7" cy="209.8" r="5.35"/>
<circle cx="397.7" cy="217.7" r="5.35"/>
<circle cx="397.7" cy="236.7" r="5.35"/>
<circle cx="397.7" cy="241.8" r="5.35"/>
<circle cx="397.7" cy="252.3" r="5.35"/>
<circle cx="397.7" cy="280.0" r="5.35"/>
<circle cx="402.8" cy="177.7" r="5.35"/>
<circle cx="402.8" cy="193.2" r="5.35"/>
<circle cx="402.8" cy="200.8" r="5.35"/>
<circle cx="402.8" cy="204.6" r="5.35"/>
<circle cx="402.8" cy="217.1" r="5.35"/>
<circle cx="402.8" cy="247.6" r="5.35"/>
<circle cx="402.8" cy="279.4" r="5.35"/>
<circle cx="407.8" cy="180.6" r="5.35"/>
<circle cx="407.8" cy="185.0" r="5.35"/>
<circle cx="407.8" cy="196.1" r="5.35"/>
<circle cx="407.8" cy="202.7" r="5.35"/>
<circle cx="407.8" cy="208.1" r="5.35"/>
<circle cx="407.8" cy="218.2" r="5.35"/>
<circle cx="407.8" cy="235.4" r="5.35"/>
<circle cx="407.8" cy="247.8" r="5.35"/>
<circle cx="407.8" cy="255.3" r="5.35"/>
<circle cx="407.8" cy="286.1" r="5.35"/>
<circle cx="412.8" cy="181.0" r="5.35"/>
<circle cx="412.8" cy="183.0" r="5.35"/>
<circle cx="412.8" cy="217.5" r="5.35"/>
<circle cx="412.8" cy="219.7" r="5.35"/>
<circle cx="412.8" cy="240.9" r="5.35"/>
<circle cx="412.8" cy="256.0" r="5.35"/>
<circle cx="412.8" cy="263.4" r="5.35"/>
<circle cx="412.8" cy="290.0" r="5.35"/>
<circle cx="412.8" cy="291.8" r="5.35"/>
<circle cx="417.9" cy="181.3" r="5.35"/>
<circle cx="417.9" cy="211.1" r="5.35"/>
<circle cx="417.9" cy="216.9" r="5.35"/>
<circle cx="417.9" cy="220.8" r="5.35"/>
<circle cx="417.9" cy="223.1" r="5.35"/>
<circle cx="417.9" cy="240.5" r="5.35"/>
<circle cx="417.9" cy="251.4" r="5.35"/>
<circle cx="417.9" cy="268.8" r="5.35"/>
<circle cx="422.9" cy="189.3" r="5.35"/>
<circle cx="422.9" cy="209.3" r="5.35"/>
<circle cx="422.9" cy="214.4" r="5.35"/>
<circle cx="422.9" cy="226.2" r="5.35"/>
<circle cx="422.9" cy="230.8" r="5.35"/>
<circle cx="422.9" cy="232.5" r="5.35"/>
<circle cx="422.9" cy="244.2" r="5.35"/>
<circle cx="422.9" cy="265.8" r="5.35"/>
<circle cx="422.9" cy="270.4" r="5.35"/>
<circle cx="422.9" cy="277.0" r="5.35"/>
<circle cx="428.0" cy="189.6" r="5.35"/>
<circle cx="428.0" cy="206.4" r="5.35"/>
<circle cx="428.0" cy="230.5" r="5.35"/>
<circle cx="428.0" cy="240.0" r="5.35"/>
<circle cx="428.0" cy="266.6" r="5.35"/>
<circle cx="433.0" cy="201.0" r="5.35"/>
<circle cx="433.0" cy="223.0" r="5.35"/>
<circle cx="433.0" cy="226.8" r="5.35"/>
<circle cx="433.0" cy="237.9" r="5.35"/>
<circle cx="433.0" cy="275.1" r="5.35"/>
<circle cx="435.5" cy="201.3" r="5.35"/>
<circle cx="435.5" cy="229.1" r="5.35"/>
<circle cx="438.0" cy="201.5" r="5.35"/>
<circle cx="438.0" cy="234.3" r="5.35"/>
<circle cx="438.0" cy="278.2" r="5.35"/>
<circle cx="382.9" cy="64.1" r="5.35"/>
<circle cx="331.9" cy="100.5" r="5.35"/>
<circle cx="331.9" cy="111.9" r="5.35"/>
<circle cx="377.5" cy="93.7" r="5.35"/>
<circle cx="382.9" cy="103.8" r="5.35"/>
<circle cx="377.5" cy="109.9" r="5.35"/>
<circle cx="407.3" cy="98.7" r="5.35"/>
<circle cx="407.3" cy="104.5" r="5.35"/>
<circle cx="443.7" cy="106.6" r="5.35"/>
<circle cx="357.4" cy="113.1" r="5.35"/>
<circle cx="362.4" cy="122.8" r="5.35"/>
<circle cx="342.4" cy="128.1" r="5.35"/>
<circle cx="352.4" cy="128.1" r="5.35"/>
<circle cx="377.5" cy="124.6" r="5.35"/>
<circle cx="382.9" cy="120.3" r="5.35"/>
<circle cx="386.1" cy="125.3" r="5.35"/>
<circle cx="382.9" cy="131.0" r="5.35"/>
<circle cx="397.8" cy="128.1" r="5.35"/>
<circle cx="407.3" cy="130.3" r="5.35"/>
<circle cx="413.0" cy="136.7" r="5.35"/>
<circle cx="366.7" cy="136.7" r="5.35"/>
<circle cx="382.9" cy="141.8" r="5.35"/>
<circle cx="403.3" cy="144.6" r="5.35"/>
<circle cx="336.6" cy="146.8" r="5.35"/>
<circle cx="346.7" cy="146.8" r="5.35"/>
<circle cx="357.4" cy="146.1" r="5.35"/>
<circle cx="366.7" cy="143.2" r="5.35"/>
<circle cx="371.8" cy="145.3" r="5.35"/>
<circle cx="366.7" cy="148.9" r="5.35"/>
<circle cx="382.9" cy="148.9" r="5.35"/>
<circle cx="382.9" cy="153.2" r="5.35"/>
<circle cx="382.9" cy="159.0" r="5.35"/>
<circle cx="392.5" cy="154.7" r="5.35"/>
<circle cx="392.5" cy="159.0" r="5.35"/>
<circle cx="407.3" cy="157.5" r="5.35"/>
<circle cx="433.1" cy="158.2" r="5.35"/>
<circle cx="448.0" cy="157.5" r="5.35"/>
<circle cx="331.6" cy="163.3" r="5.35"/>
<circle cx="336.6" cy="159.0" r="5.35"/>
<circle cx="346.7" cy="156.8" r="5.35"/>
<circle cx="349.5" cy="156.8" r="5.35"/>
<circle cx="433.1" cy="169.0" r="5.35"/>
<circle cx="443.4" cy="170.4" r="5.35"/>
<circle cx="397.8" cy="168.3" r="5.35"/>
<circle cx="453.2" cy="186.9" r="5.35"/>
<circle cx="423.4" cy="174.7" r="5.35"/>
<circle cx="423.4" cy="182.6" r="5.35"/>
<circle cx="416.2" cy="179.0" r="5.35"/>
<circle cx="499.0" cy="137.3" r="5.35"/>
<circle cx="433.2" cy="199.4" r="5.35"/>
<circle cx="444.0" cy="204.4" r="5.35"/>
<circle cx="468.0" cy="211.5" r="5.35"/>
<circle cx="483.0" cy="205.6" r="5.35"/>
<circle cx="493.6" cy="218.6" r="5.35"/>
<circle cx="458.6" cy="228.2" r="5.35"/>
<circle cx="448.0" cy="245.3" r="5.35"/>
<circle cx="453.3" cy="252.6" r="5.35"/>
<circle cx="483.0" cy="247.3" r="5.35"/>
<circle cx="554.4" cy="276.0" r="5.35"/>
<circle cx="180.7" cy="323.7" r="5.35"/>
<circle cx="206.2" cy="309.0" r="5.35"/>
<circle cx="201.2" cy="290.2" r="5.35"/>
<circle cx="215.8" cy="295.0" r="5.35"/>
<circle cx="230.7" cy="296.2" r="5.35"/>
<circle cx="246.7" cy="297.6" r="5.35"/>
<circle cx="251.3" cy="299.0" r="5.35"/>
<circle cx="261.4" cy="300.2" r="5.35"/>
<circle cx="267.4" cy="299.6" r="5.35"/>
<circle cx="276.4" cy="301.6" r="5.35"/>
<circle cx="291.5" cy="298.6" r="5.35"/>
<circle cx="215.8" cy="280.5" r="5.35"/>
<circle cx="246.3" cy="282.5" r="5.35"/>
<circle cx="251.3" cy="277.5" r="5.35"/>
<circle cx="256.4" cy="282.1" r="5.35"/>
<circle cx="206.2" cy="268.5" r="5.35"/>
<circle cx="230.7" cy="265.5" r="5.35"/>
<circle cx="235.9" cy="258.0" r="5.35"/>
<circle cx="215.8" cy="242.8" r="5.35"/>
<circle cx="230.7" cy="238.8" r="5.35"/>
<circle cx="256.0" cy="236.8" r="5.35"/>
<circle cx="276.4" cy="238.8" r="5.35"/>
<circle cx="271.0" cy="267.5" r="5.35"/>
<circle cx="281.5" cy="268.5" r="5.35"/>
<circle cx="281.5" cy="274.1" r="5.35"/>
<circle cx="281.5" cy="281.5" r="5.35"/>
<circle cx="291.5" cy="285.6" r="5.35"/>
<circle cx="291.5" cy="266.5" r="5.35"/>
<circle cx="286.5" cy="256.4" r="5.35"/>
<circle cx="291.5" cy="249.4" r="5.35"/>
<circle cx="291.5" cy="202.2" r="5.35"/>
<circle cx="291.5" cy="217.3" r="5.35"/>
<circle cx="298.5" cy="209.3" r="5.35"/>
<circle cx="300.5" cy="213.3" r="5.35"/>
<circle cx="306.6" cy="199.2" r="5.35"/>
<circle cx="306.6" cy="227.3" r="5.35"/>
<circle cx="306.6" cy="313.7" r="5.35"/>
<circle cx="312.6" cy="318.3" r="5.35"/>
<circle cx="331.7" cy="317.7" r="5.35"/>
<circle cx="322.6" cy="311.7" r="5.35"/>
<circle cx="357.8" cy="334.3" r="5.35"/>
<circle cx="357.8" cy="327.7" r="5.35"/>
<circle cx="362.8" cy="320.7" r="5.35"/>
<circle cx="337.7" cy="147.0" r="5.35"/>
<circle cx="347.7" cy="147.0" r="5.35"/>
<circle cx="357.8" cy="147.0" r="5.35"/>
<circle cx="331.7" cy="163.1" r="5.35"/>
<circle cx="336.7" cy="158.1" r="5.35"/>
<circle cx="403.2" cy="145.0" r="5.35"/>
<circle cx="407.2" cy="158.1" r="5.35"/>
<circle cx="433.3" cy="168.5" r="5.35"/>
<circle cx="443.4" cy="170.5" r="5.35"/>
<circle cx="453.4" cy="187.2" r="5.35"/>
<circle cx="424.3" cy="176.1" r="5.35"/>
<circle cx="424.3" cy="182.2" r="5.35"/>
<circle cx="417.3" cy="178.1" r="5.35"/>
<circle cx="411.2" cy="179.1" r="5.35"/>
<circle cx="433.3" cy="198.2" r="5.35"/>
<circle cx="443.4" cy="205.2" r="5.35"/>
<circle cx="468.4" cy="210.7" r="5.35"/>
<circle cx="482.9" cy="205.2" r="5.35"/>
<circle cx="493.5" cy="218.3" r="5.35"/>
<circle cx="458.4" cy="227.9" r="5.35"/>
<circle cx="433.3" cy="228.3" r="5.35"/>
<circle cx="433.3" cy="239.4" r="5.35"/>
<circle cx="433.3" cy="216.3" r="5.35"/>
<circle cx="448.0" cy="243.4" r="5.35"/>
<circle cx="453.4" cy="252.4" r="5.35"/>
<circle cx="482.9" cy="246.8" r="5.35"/>
<circle cx="433.3" cy="278.5" r="5.35"/>
<circle cx="433.3" cy="297.6" r="5.35"/>
<circle cx="423.3" cy="270.5" r="5.35"/>
<circle cx="428.3" cy="272.5" r="5.35"/>
<circle cx="407.2" cy="292.6" r="5.35"/>
<circle cx="398.2" cy="293.6" r="5.35"/>
<circle cx="393.2" cy="306.6" r="5.35"/>
<circle cx="383.1" cy="308.6" r="5.35"/>
<circle cx="383.1" cy="311.0" r="5.35"/>
<circle cx="367.1" cy="314.7" r="5.35"/>
<circle cx="362.0" cy="319.7" r="5.35"/>
<circle cx="357.6" cy="326.7" r="5.35"/>
<circle cx="357.6" cy="334.3" r="5.35"/>
<circle cx="404.2" cy="280.5" r="5.35"/>
<circle cx="995.0" cy="224.0" r="5.35"/>
<circle cx="995.0" cy="248.6" r="5.35"/>
<circle cx="995.0" cy="250.8" r="5.35"/>
<circle cx="995.0" cy="252.8" r="5.35"/>
<circle cx="995.0" cy="258.0" r="5.35"/>
<circle cx="995.0" cy="261.0" r="5.35"/>
<circle cx="995.0" cy="270.2" r="5.35"/>
<circle cx="995.0" cy="272.6" r="5.35"/>
<circle cx="995.0" cy="285.3" r="5.35"/>
<circle cx="995.0" cy="288.2" r="5.35"/>
<circle cx="995.0" cy="292.9" r="5.35"/>
<circle cx="995.0" cy="303.8" r="5.35"/>
<circle cx="995.0" cy="309.3" r="5.35"/>
<circle cx="997.6" cy="225.2" r="5.35"/>
<circle cx="997.6" cy="226.9" r="5.35"/>
<circle cx="997.6" cy="235.9" r="5.35"/>
<circle cx="997.6" cy="240.5" r="5.35"/>
<circle cx="997.6" cy="243.3" r="5.35"/>
<circle cx="997.6" cy="245.5" r="5.35"/>
<circle cx="997.6" cy="253.7" r="5.35"/>
<circle cx="997.6" cy="258.2" r="5.35"/>
<circle cx="997.6" cy="269.5" r="5.35"/>
<circle cx="997.6" cy="276.2" r="5.35"/>
<circle cx="997.6" cy="289.0" r="5.35"/>
<circle cx="997.6" cy="293.5" r="5.35"/>
<circle cx="997.6" cy="299.2" r="5.35"/>
<circle cx="997.6" cy="304.0" r="5.35"/>
<circle cx="997.6" cy="306.5" r="5.35"/>
<circle cx="997.6" cy="319.0" r="5.35"/>
<circle cx="1000.2" cy="225.7" r="5.35"/>
<circle cx="1000.2" cy="230.9" r="5.35"/>
<circle cx="1000.2" cy="232.9" r="5.35"/>
<circle cx="1000.2" cy="240.5" r="5.35"/>
<circle cx="1000.2" cy="245.8" r="5.35"/>
<circle cx="1000.2" cy="248.1" r="5.35"/>
<circle cx="1000.2" cy="249.7" r="5.35"/>
<circle cx="1000.2" cy="253.9" r="5.35"/>
<circle cx="1000.2" cy="255.5" r="5.35"/>
<circle cx="1000.2" cy="266.1" r="5.35"/>
<circle cx="1000.2" cy="270.1" r="5.35"/>
<circle cx="1000.2" cy="274.1" r="5.35"/>
<circle cx="1000.2" cy="277.4" r="5.35"/>
<circle cx="1000.2" cy="282.7" r="5.35"/>
<circle cx="1000.2" cy="292.9" r="5.35"/>
<circle cx="1000.2" cy="295.7" r="5.35"/>
<circle cx="1000.2" cy="298.8" r="5.35"/>
<circle cx="1000.2" cy="303.4" r="5.35"/>
<circle cx="1000.2" cy="306.1" r="5.35"/>
<circle cx="1000.2" cy="310.8" r="5.35"/>
<circle cx="1000.2" cy="315.0" r="5.35"/>
<circle cx="1000.2" cy="318.5" r="5.35"/>
<circle cx="1005.4" cy="224.2" r="5.35"/>
<circle cx="1005.4" cy="245.4" r="5.35"/>
<circle cx="1005.4" cy="248.5" r="5.35"/>
<circle cx="1005.4" cy="251.9" r="5.35"/>
<circle cx="1005.4" cy="255.3" r="5.35"/>
<circle cx="1005.4" cy="266.0" r="5.35"/>
<circle cx="1005.4" cy="278.2" r="5.35"/>
<circle cx="1005.4" cy="282.2" r="5.35"/>
<circle cx="1005.4" cy="285.5" r="5.35"/>
<circle cx="1005.4" cy="287.3" r="5.35"/>
<circle cx="1005.4" cy="296.7" r="5.35"/>
<circle cx="1005.4" cy="298.9" r="5.35"/>
<circle cx="1005.4" cy="303.2" r="5.35"/>
<circle cx="1005.4" cy="306.2" r="5.35"/>
<circle cx="1005.4" cy="309.1" r="5.35"/>
<circle cx="1005.4" cy="312.1" r="5.35"/>
<circle cx="1005.4" cy="314.3" r="5.35"/>
<circle cx="1005.4" cy="316.0" r="5.35"/>
<circle cx="1005.4" cy="320.2" r="5.35"/>
<circle cx="1010.6" cy="224.4" r="5.35"/>
<circle cx="1010.6" cy="230.0" r="5.35"/>
<circle cx="1010.6" cy="231.7" r="5.35"/>
<circle cx="1010.6" cy="235.0" r="5.35"/>
<circle cx="1010.6" cy="242.7" r="5.35"/>
<circle cx="1010.6" cy="253.1" r="5.35"/>
<circle cx="1010.6" cy="256.7" r="5.35"/>
<circle cx="1010.6" cy="264.8" r="5.35"/>
<circle cx="1010.6" cy="268.7" r="5.35"/>
<circle cx="1010.6" cy="272.8" r="5.35"/>
<circle cx="1010.6" cy="277.4" r="5.35"/>
<circle cx="1010.6" cy="295.5" r="5.35"/>
<circle cx="1010.6" cy="301.8" r="5.35"/>
<circle cx="1010.6" cy="305.5" r="5.35"/>
<circle cx="1010.6" cy="311.5" r="5.35"/>
<circle cx="1010.6" cy="316.6" r="5.35"/>
<circle cx="1010.6" cy="319.7" r="5.35"/>
<circle cx="1010.6" cy="326.5" r="5.35"/>
<circle cx="1015.8" cy="225.6" r="5.35"/>
<circle cx="1015.8" cy="227.2" r="5.35"/>
<circle cx="1015.8" cy="231.1" r="5.35"/>
<circle cx="1015.8" cy="236.2" r="5.35"/>
<circle cx="1015.8" cy="239.1" r="5.35"/>
<circle cx="1015.8" cy="241.3" r="5.35"/>
<circle cx="1015.8" cy="246.9" r="5.35"/>
<circle cx="1015.8" cy="250.4" r="5.35"/>
<circle cx="1015.8" cy="253.0" r="5.35"/>
<circle cx="1015.8" cy="254.6" r="5.35"/>
<circle cx="1015.8" cy="268.1" r="5.35"/>
<circle cx="1015.8" cy="271.1" r="5.35"/>
<circle cx="1015.8" cy="273.1" r="5.35"/>
<circle cx="1015.8" cy="275.4" r="5.35"/>
<circle cx="1015.8" cy="277.9" r="5.35"/>
<circle cx="1015.8" cy="286.5" r="5.35"/>
<circle cx="1015.8" cy="288.7" r="5.35"/>
<circle cx="1015.8" cy="291.3" r="5.35"/>
<circle cx="1015.8" cy="293.2" r="5.35"/>
<circle cx="1015.8" cy="296.9" r="5.35"/>
<circle cx="1015.8" cy="299.2" r="5.35"/>
<circle cx="1015.8" cy="302.2" r="5.35"/>
<circle cx="1015.8" cy="308.3" r="5.35"/>
<circle cx="1015.8" cy="318.9" r="5.35"/>
<circle cx="1015.8" cy="326.7" r="5.35"/>
<circle cx="1021.0" cy="225.5" r="5.35"/>
<circle cx="1021.0" cy="227.1" r="5.35"/>
<circle cx="1021.0" cy="229.4" r="5.35"/>
<circle cx="1021.0" cy="233.3" r="5.35"/>
<circle cx="1021.0" cy="236.4" r="5.35"/>
<circle cx="1021.0" cy="242.8" r="5.35"/>
<circle cx="1021.0" cy="248.7" r="5.35"/>
<circle cx="1021.0" cy="252.4" r="5.35"/>
<circle cx="1021.0" cy="254.9" r="5.35"/>
<circle cx="1021.0" cy="257.3" r="5.35"/>
<circle cx="1021.0" cy="259.9" r="5.35"/>
<circle cx="1021.0" cy="261.7" r="5.35"/>
<circle cx="1021.0" cy="267.0" r="5.35"/>
<circle cx="1021.0" cy="269.1" r="5.35"/>
<circle cx="1021.0" cy="278.3" r="5.35"/>
<circle cx="1021.0" cy="283.4" r="5.35"/>
<circle cx="1021.0" cy="285.1" r="5.35"/>
<circle cx="1021.0" cy="289.1" r="5.35"/>
<circle cx="1021.0" cy="293.8" r="5.35"/>
<circle cx="1021.0" cy="295.4" r="5.35"/>
<circle cx="1021.0" cy="299.3" r="5.35"/>
<circle cx="1021.0" cy="300.9" r="5.35"/>
<circle cx="1021.0" cy="307.5" r="5.35"/>
<circle cx="1021.0" cy="309.0" r="5.35"/>
<circle cx="1021.0" cy="314.0" r="5.35"/>
<circle cx="1026.2" cy="222.7" r="5.35"/>
<circle cx="1026.2" cy="226.9" r="5.35"/>
<circle cx="1026.2" cy="228.9" r="5.35"/>
<circle cx="1026.2" cy="231.9" r="5.35"/>
<circle cx="1026.2" cy="240.4" r="5.35"/>
<circle cx="1026.2" cy="247.8" r="5.35"/>
<circle cx="1026.2" cy="249.3" r="5.35"/>
<circle cx="1026.2" cy="252.5" r="5.35"/>
<circle cx="1026.2" cy="257.6" r="5.35"/>
<circle cx="1026.2" cy="259.8" r="5.35"/>
<circle cx="1026.2" cy="267.0" r="5.35"/>
<circle cx="1026.2" cy="276.3" r="5.35"/>
<circle cx="1026.2" cy="280.6" r="5.35"/>
<circle cx="1026.2" cy="283.7" r="5.35"/>
<circle cx="1026.2" cy="291.8" r="5.35"/>
<circle cx="1026.2" cy="295.8" r="5.35"/>
<circle cx="1026.2" cy="298.0" r="5.35"/>
<circle cx="1026.2" cy="300.6" r="5.35"/>
<circle cx="1026.2" cy="302.8" r="5.35"/>
<circle cx="1026.2" cy="310.6" r="5.35"/>
<circle cx="1026.2" cy="314.6" r="5.35"/>
<circle cx="1026.2" cy="320.3" r="5.35"/>
<circle cx="1026.2" cy="327.8" r="5.35"/>
<circle cx="1031.4" cy="207.7" r="5.35"/>
<circle cx="1031.4" cy="216.5" r="5.35"/>
<circle cx="1031.4" cy="223.0" r="5.35"/>
<circle cx="1031.4" cy="226.2" r="5.35"/>
<circle cx="1031.4" cy="231.4" r="5.35"/>
<circle cx="1031.4" cy="233.7" r="5.35"/>
<circle cx="1031.4" cy="235.8" r="5.35"/>
<circle cx="1031.4" cy="237.5" r="5.35"/>
<circle cx="1031.4" cy="240.7" r="5.35"/>
<circle cx="1031.4" cy="243.1" r="5.35"/>
<circle cx="1031.4" cy="247.2" r="5.35"/>
<circle cx="1031.4" cy="260.9" r="5.35"/>
<circle cx="1031.4" cy="262.9" r="5.35"/>
<circle cx="1031.4" cy="267.3" r="5.35"/>
<circle cx="1031.4" cy="275.8" r="5.35"/>
<circle cx="1031.4" cy="280.5" r="5.35"/>
<circle cx="1031.4" cy="284.6" r="5.35"/>
<circle cx="1031.4" cy="291.2" r="5.35"/>
<circle cx="1031.4" cy="292.8" r="5.35"/>
<circle cx="1031.4" cy="304.7" r="5.35"/>
<circle cx="1031.4" cy="310.3" r="5.35"/>
<circle cx="1031.4" cy="317.5" r="5.35"/>
<circle cx="1031.4" cy="325.1" r="5.35"/>
<circle cx="1031.4" cy="327.0" r="5.35"/>
<circle cx="1034.0" cy="207.3" r="5.35"/>
<circle cx="1034.0" cy="211.3" r="5.35"/>
<circle cx="1034.0" cy="222.5" r="5.35"/>
<circle cx="1034.0" cy="232.4" r="5.35"/>
<circle cx="1034.0" cy="235.8" r="5.35"/>
<circle cx="1034.0" cy="240.7" r="5.35"/>
<circle cx="1034.0" cy="246.9" r="5.35"/>
<circle cx="1034.0" cy="249.8" r="5.35"/>
<circle cx="1034.0" cy="263.6" r="5.35"/>
<circle cx="1034.0" cy="275.1" r="5.35"/>
<circle cx="1034.0" cy="281.1" r="5.35"/>
<circle cx="1034.0" cy="290.8" r="5.35"/>
<circle cx="1034.0" cy="297.9" r="5.35"/>
<circle cx="1034.0" cy="303.1" r="5.35"/>
<circle cx="1034.0" cy="306.0" r="5.35"/>
<circle cx="1034.0" cy="308.6" r="5.35"/>
<circle cx="1034.0" cy="311.1" r="5.35"/>
<circle cx="1034.0" cy="312.8" r="5.35"/>
<circle cx="1034.0" cy="323.4" r="5.35"/>
<circle cx="1034.0" cy="326.1" r="5.35"/>
<circle cx="1034.0" cy="327.7" r="5.35"/>
<circle cx="1036.6" cy="207.8" r="5.35"/>
<circle cx="1036.6" cy="210.7" r="5.35"/>
<circle cx="1036.6" cy="212.9" r="5.35"/>
<circle cx="1036.6" cy="216.6" r="5.35"/>
<circle cx="1036.6" cy="220.0" r="5.35"/>
<circle cx="1036.6" cy="223.0" r="5.35"/>
<circle cx="1036.6" cy="230.4" r="5.35"/>
<circle cx="1036.6" cy="233.2" r="5.35"/>
<circle cx="1036.6" cy="237.4" r="5.35"/>
<circle cx="1036.6" cy="246.3" r="5.35"/>
<circle cx="1036.6" cy="259.0" r="5.35"/>
<circle cx="1036.6" cy="262.1" r="5.35"/>
<circle cx="1036.6" cy="263.8" r="5.35"/>
<circle cx="1036.6" cy="275.8" r="5.35"/>
<circle cx="1036.6" cy="279.8" r="5.35"/>
<circle cx="1036.6" cy="282.2" r="5.35"/>
<circle cx="1036.6" cy="284.1" r="5.35"/>
<circle cx="1036.6" cy="286.6" r="5.35"/>
<circle cx="1036.6" cy="289.4" r="5.35"/>
<circle cx="1036.6" cy="291.4" r="5.35"/>
<circle cx="1036.6" cy="293.1" r="5.35"/>
<circle cx="1036.6" cy="312.8" r="5.35"/>
<circle cx="1036.6" cy="320.3" r="5.35"/>
<circle cx="1036.6" cy="322.2" r="5.35"/>
<circle cx="1036.6" cy="326.0" r="5.35"/>
<circle cx="1039.2" cy="207.9" r="5.35"/>
<circle cx="1039.2" cy="209.6" r="5.35"/>
<circle cx="1039.2" cy="212.6" r="5.35"/>
<circle cx="1039.2" cy="215.8" r="5.35"/>
<circle cx="1039.2" cy="225.9" r="5.35"/>
<circle cx="1039.2" cy="230.4" r="5.35"/>
<circle cx="1039.2" cy="234.1" r="5.35"/>
<circle cx="1039.2" cy="239.1" r="5.35"/>
<circle cx="1039.2" cy="240.7" r="5.35"/>
<circle cx="1039.2" cy="246.3" r="5.35"/>
<circle cx="1039.2" cy="253.6" r="5.35"/>
<circle cx="1039.2" cy="259.0" r="5.35"/>
<circle cx="1039.2" cy="262.0" r="5.35"/>
<circle cx="1039.2" cy="264.7" r="5.35"/>
<circle cx="1039.2" cy="266.2" r="5.35"/>
<circle cx="1039.2" cy="268.0" r="5.35"/>
<circle cx="1039.2" cy="270.1" r="5.35"/>
<circle cx="1039.2" cy="273.7" r="5.35"/>
<circle cx="1039.2" cy="280.5" r="5.35"/>
<circle cx="1039.2" cy="282.9" r="5.35"/>
<circle cx="1039.2" cy="286.6" r="5.35"/>
<circle cx="1039.2" cy="291.6" r="5.35"/>
<circle cx="1039.2" cy="296.6" r="5.35"/>
<circle cx="1039.2" cy="298.2" r="5.35"/>
<circle cx="1039.2" cy="308.6" r="5.35"/>
<circle cx="1039.2" cy="313.1" r="5.35"/>
<circle cx="1039.2" cy="315.9" r="5.35"/>
<circle cx="1039.2" cy="318.4" r="5.35"/>
<circle cx="1039.2" cy="323.9" r="5.35"/>
<circle cx="1041.8" cy="207.7" r="5.35"/>
<circle cx="1041.8" cy="212.0" r="5.35"/>
<circle cx="1041.8" cy="214.2" r="5.35"/>
<circle cx="1041.8" cy="217.5" r="5.35"/>
<circle cx="1041.8" cy="227.8" r="5.35"/>
<circle cx="1041.8" cy="232.1" r="5.35"/>
<circle cx="1041.8" cy="239.7" r="5.35"/>
<circle cx="1041.8" cy="242.2" r="5.35"/>
<circle cx="1041.8" cy="250.9" r="5.35"/>
<circle cx="1041.8" cy="257.7" r="5.35"/>
<circle cx="1041.8" cy="260.1" r="5.35"/>
<circle cx="1041.8" cy="264.2" r="5.35"/>
<circle cx="1041.8" cy="269.7" r="5.35"/>
<circle cx="1041.8" cy="274.2" r="5.35"/>
<circle cx="1041.8" cy="278.9" r="5.35"/>
<circle cx="1041.8" cy="281.4" r="5.35"/>
<circle cx="1041.8" cy="285.7" r="5.35"/>
<circle cx="1041.8" cy="288.8" r="5.35"/>
<circle cx="1041.8" cy="295.9" r="5.35"/>
<circle cx="1041.8" cy="299.0" r="5.35"/>
<circle cx="1041.8" cy="314.1" r="5.35"/>
<circle cx="1041.8" cy="318.6" r="5.35"/>
<circle cx="1041.8" cy="321.0" r="5.35"/>
<circle cx="1041.8" cy="324.4" r="5.35"/>
<circle cx="1041.8" cy="326.4" r="5.35"/>
<circle cx="1047.0" cy="208.1" r="5.35"/>
<circle cx="1047.0" cy="210.8" r="5.35"/>
<circle cx="1047.0" cy="217.6" r="5.35"/>
<circle cx="1047.0" cy="219.6" r="5.35"/>
<circle cx="1047.0" cy="225.1" r="5.35"/>
<circle cx="1047.0" cy="230.9" r="5.35"/>
<circle cx="1047.0" cy="233.4" r="5.35"/>
<circle cx="1047.0" cy="235.4" r="5.35"/>
<circle cx="1047.0" cy="238.5" r="5.35"/>
<circle cx="1047.0" cy="243.7" r="5.35"/>
<circle cx="1047.0" cy="246.2" r="5.35"/>
<circle cx="1047.0" cy="247.8" r="5.35"/>
<circle cx="1047.0" cy="251.3" r="5.35"/>
<circle cx="1047.0" cy="258.6" r="5.35"/>
<circle cx="1047.0" cy="260.7" r="5.35"/>
<circle cx="1047.0" cy="272.1" r="5.35"/>
<circle cx="1047.0" cy="276.1" r="5.35"/>
<circle cx="1047.0" cy="278.2" r="5.35"/>
<circle cx="1047.0" cy="280.0" r="5.35"/>
<circle cx="1047.0" cy="283.2" r="5.35"/>
<circle cx="1047.0" cy="286.9" r="5.35"/>
<circle cx="1047.0" cy="289.1" r="5.35"/>
<circle cx="1047.0" cy="290.9" r="5.35"/>
<circle cx="1047.0" cy="294.8" r="5.35"/>
<circle cx="1047.0" cy="297.4" r="5.35"/>
<circle cx="1047.0" cy="300.9" r="5.35"/>
<circle cx="1047.0" cy="304.5" r="5.35"/>
<circle cx="1047.0" cy="310.2" r="5.35"/>
<circle cx="1047.0" cy="314.7" r="5.35"/>
<circle cx="1047.0" cy="317.1" r="5.35"/>
<circle cx="1047.0" cy="319.3" r="5.35"/>
<circle cx="1047.0" cy="327.7" r="5.35"/>
<circle cx="1049.6" cy="221.9" r="5.35"/>
<circle cx="1049.6" cy="223.7" r="5.35"/>
<circle cx="1049.6" cy="231.3" r="5.35"/>
<circle cx="1049.6" cy="235.6" r="5.35"/>
<circle cx="1049.6" cy="246.1" r="5.35"/>
<circle cx="1049.6" cy="251.0" r="5.35"/>
<circle cx="1049.6" cy="253.9" r="5.35"/>
<circle cx="1049.6" cy="257.4" r="5.35"/>
<circle cx="1049.6" cy="263.5" r="5.35"/>
<circle cx="1049.6" cy="265.9" r="5.35"/>
<circle cx="1049.6" cy="273.1" r="5.35"/>
<circle cx="1049.6" cy="276.5" r="5.35"/>
<circle cx="1049.6" cy="278.1" r="5.35"/>
<circle cx="1049.6" cy="281.1" r="5.35"/>
<circle cx="1049.6" cy="285.5" r="5.35"/>
<circle cx="1049.6" cy="287.5" r="5.35"/>
<circle cx="1049.6" cy="297.3" r="5.35"/>
<circle cx="1049.6" cy="307.9" r="5.35"/>
<circle cx="1049.6" cy="311.9" r="5.35"/>
<circle cx="1049.6" cy="321.6" r="5.35"/>
<circle cx="1049.6" cy="327.2" r="5.35"/>
<circle cx="1052.2" cy="225.7" r="5.35"/>
<circle cx="1052.2" cy="236.0" r="5.35"/>
<circle cx="1052.2" cy="239.6" r="5.35"/>
<circle cx="1052.2" cy="242.8" r="5.35"/>
<circle cx="1052.2" cy="244.6" r="5.35"/>
<circle cx="1052.2" cy="249.4" r="5.35"/>
<circle cx="1052.2" cy="257.7" r="5.35"/>
<circle cx="1052.2" cy="260.9" r="5.35"/>
<circle cx="1052.2" cy="263.6" r="5.35"/>
<circle cx="1052.2" cy="268.4" r="5.35"/>
<circle cx="1052.2" cy="275.5" r="5.35"/>
<circle cx="1052.2" cy="277.6" r="5.35"/>
<circle cx="1052.2" cy="280.3" r="5.35"/>
<circle cx="1052.2" cy="285.4" r="5.35"/>
<circle cx="1052.2" cy="287.0" r="5.35"/>
<circle cx="1052.2" cy="294.5" r="5.35"/>
<circle cx="1052.2" cy="297.3" r="5.35"/>
<circle cx="1052.2" cy="305.0" r="5.35"/>
<circle cx="1052.2" cy="308.7" r="5.35"/>
<circle cx="1052.2" cy="310.8" r="5.35"/>
<circle cx="1052.2" cy="312.4" r="5.35"/>
<circle cx="1052.2" cy="314.3" r="5.35"/>
<circle cx="1052.2" cy="316.8" r="5.35"/>
<circle cx="1052.2" cy="323.3" r="5.35"/>
<circle cx="1054.8" cy="225.1" r="5.35"/>
<circle cx="1054.8" cy="227.9" r="5.35"/>
<circle cx="1054.8" cy="233.2" r="5.35"/>
<circle cx="1054.8" cy="239.3" r="5.35"/>
<circle cx="1054.8" cy="242.4" r="5.35"/>
<circle cx="1054.8" cy="244.2" r="5.35"/>
<circle cx="1054.8" cy="247.9" r="5.35"/>
<circle cx="1054.8" cy="250.3" r="5.35"/>
<circle cx="1054.8" cy="252.5" r="5.35"/>
<circle cx="1054.8" cy="255.8" r="5.35"/>
<circle cx="1054.8" cy="257.6" r="5.35"/>
<circle cx="1054.8" cy="267.0" r="5.35"/>
<circle cx="1054.8" cy="269.7" r="5.35"/>
<circle cx="1054.8" cy="279.2" r="5.35"/>
<circle cx="1054.8" cy="285.4" r="5.35"/>
<circle cx="1054.8" cy="286.9" r="5.35"/>
<circle cx="1054.8" cy="296.4" r="5.35"/>
<circle cx="1054.8" cy="303.7" r="5.35"/>
<circle cx="1054.8" cy="307.9" r="5.35"/>
<circle cx="1054.8" cy="316.9" r="5.35"/>
<circle cx="1054.8" cy="320.7" r="5.35"/>
<circle cx="1054.8" cy="322.3" r="5.35"/>
<circle cx="1054.8" cy="324.3" r="5.35"/>
<circle cx="1054.8" cy="327.1" r="5.35"/>
<circle cx="1057.4" cy="224.2" r="5.35"/>
<circle cx="1057.4" cy="227.2" r="5.35"/>
<circle cx="1057.4" cy="229.1" r="5.35"/>
<circle cx="1057.4" cy="231.5" r="5.35"/>
<circle cx="1057.4" cy="234.6" r="5.35"/>
<circle cx="1057.4" cy="237.9" r="5.35"/>
<circle cx="1057.4" cy="240.0" r="5.35"/>
<circle cx="1057.4" cy="245.2" r="5.35"/>
<circle cx="1057.4" cy="247.7" r="5.35"/>
<circle cx="1057.4" cy="256.9" r="5.35"/>
<circle cx="1057.4" cy="260.7" r="5.35"/>
<circle cx="1057.4" cy="264.2" r="5.35"/>
<circle cx="1057.4" cy="270.8" r="5.35"/>
<circle cx="1057.4" cy="273.8" r="5.35"/>
<circle cx="1057.4" cy="276.3" r="5.35"/>
<circle cx="1057.4" cy="278.3" r="5.35"/>
<circle cx="1057.4" cy="281.0" r="5.35"/>
<circle cx="1057.4" cy="283.4" r="5.35"/>
<circle cx="1057.4" cy="289.6" r="5.35"/>
<circle cx="1057.4" cy="292.6" r="5.35"/>
<circle cx="1057.4" cy="298.4" r="5.35"/>
<circle cx="1057.4" cy="301.0" r="5.35"/>
<circle cx="1057.4" cy="302.8" r="5.35"/>
<circle cx="1057.4" cy="305.6" r="5.35"/>
<circle cx="1057.4" cy="308.8" r="5.35"/>
<circle cx="1057.4" cy="318.7" r="5.35"/>
<circle cx="1057.4" cy="321.0" r="5.35"/>
<circle cx="1057.4" cy="323.3" r="5.35"/>
<circle cx="1057.4" cy="325.4" r="5.35"/>
<circle cx="1062.6" cy="232.2" r="5.35"/>
<circle cx="1062.6" cy="234.6" r="5.35"/>
<circle cx="1062.6" cy="236.3" r="5.35"/>
<circle cx="1062.6" cy="240.1" r="5.35"/>
<circle cx="1062.6" cy="244.7" r="5.35"/>
<circle cx="1062.6" cy="246.6" r="5.35"/>
<circle cx="1062.6" cy="250.0" r="5.35"/>
<circle cx="1062.6" cy="256.7" r="5.35"/>
<circle cx="1062.6" cy="258.2" r="5.35"/>
<circle cx="1062.6" cy="264.1" r="5.35"/>
<circle cx="1062.6" cy="269.6" r="5.35"/>
<circle cx="1062.6" cy="276.5" r="5.35"/>
<circle cx="1062.6" cy="280.4" r="5.35"/>
<circle cx="1062.6" cy="284.1" r="5.35"/>
<circle cx="1062.6" cy="288.1" r="5.35"/>
<circle cx="1062.6" cy="290.1" r="5.35"/>
<circle cx="1062.6" cy="294.2" r="5.35"/>
<circle cx="1062.6" cy="296.6" r="5.35"/>
<circle cx="1062.6" cy="299.5" r="5.35"/>
<circle cx="1062.6" cy="301.1" r="5.35"/>
<circle cx="1062.6" cy="303.2" r="5.35"/>
<circle cx="1062.6" cy="304.9" r="5.35"/>
<circle cx="1062.6" cy="309.2" r="5.35"/>
<circle cx="1062.6" cy="311.6" r="5.35"/>
<circle cx="1062.6" cy="315.9" r="5.35"/>
<circle cx="1062.6" cy="319.9" r="5.35"/>
<circle cx="1062.6" cy="322.3" r="5.35"/>
<circle cx="1062.6" cy="324.3" r="5.35"/>
<circle cx="1067.8" cy="247.6" r="5.35"/>
<circle cx="1067.8" cy="251.5" r="5.35"/>
<circle cx="1067.8" cy="256.1" r="5.35"/>
<circle cx="1067.8" cy="257.7" r="5.35"/>
<circle cx="1067.8" cy="260.4" r="5.35"/>
<circle cx="1067.8" cy="267.6" r="5.35"/>
<circle cx="1067.8" cy="270.7" r="5.35"/>
<circle cx="1067.8" cy="272.6" r="5.35"/>
<circle cx="1067.8" cy="276.0" r="5.35"/>
<circle cx="1067.8" cy="283.8" r="5.35"/>
<circle cx="1067.8" cy="285.7" r="5.35"/>
<circle cx="1067.8" cy="287.6" r="5.35"/>
<circle cx="1067.8" cy="291.5" r="5.35"/>
<circle cx="1067.8" cy="300.2" r="5.35"/>
<circle cx="1067.8" cy="303.5" r="5.35"/>
<circle cx="1067.8" cy="305.9" r="5.35"/>
<circle cx="1067.8" cy="312.6" r="5.35"/>
<circle cx="1067.8" cy="314.4" r="5.35"/>
<circle cx="1067.8" cy="317.1" r="5.35"/>
<circle cx="1067.8" cy="321.8" r="5.35"/>
<circle cx="1073.0" cy="247.4" r="5.35"/>
<circle cx="1073.0" cy="250.0" r="5.35"/>
<circle cx="1073.0" cy="253.1" r="5.35"/>
<circle cx="1073.0" cy="255.0" r="5.35"/>
<circle cx="1073.0" cy="257.6" r="5.35"/>
<circle cx="1073.0" cy="264.2" r="5.35"/>
<circle cx="1073.0" cy="279.2" r="5.35"/>
<circle cx="1073.0" cy="281.8" r="5.35"/>
<circle cx="1073.0" cy="283.6" r="5.35"/>
<circle cx="1073.0" cy="289.8" r="5.35"/>
<circle cx="1073.0" cy="303.1" r="5.35"/>
<circle cx="1073.0" cy="310.2" r="5.35"/>
<circle cx="1073.0" cy="313.5" r="5.35"/>
<circle cx="1073.0" cy="319.8" r="5.35"/>
<circle cx="1078.2" cy="248.2" r="5.35"/>
<circle cx="1078.2" cy="273.7" r="5.35"/>
<circle cx="1078.2" cy="280.5" r="5.35"/>
<circle cx="1078.2" cy="283.0" r="5.35"/>
<circle cx="1078.2" cy="286.4" r="5.35"/>
<circle cx="1078.2" cy="288.3" r="5.35"/>
<circle cx="1078.2" cy="291.4" r="5.35"/>
<circle cx="1078.2" cy="298.8" r="5.35"/>
<circle cx="1078.2" cy="302.7" r="5.35"/>
<circle cx="1078.2" cy="306.8" r="5.35"/>
<circle cx="1078.2" cy="313.6" r="5.35"/>
<circle cx="1078.2" cy="315.4" r="5.35"/>
<circle cx="1078.2" cy="318.4" r="5.35"/>
<circle cx="1083.4" cy="249.0" r="5.35"/>
<circle cx="1083.4" cy="260.1" r="5.35"/>
<circle cx="1083.4" cy="267.3" r="5.35"/>
<circle cx="1083.4" cy="271.6" r="5.35"/>
<circle cx="1083.4" cy="277.1" r="5.35"/>
<circle cx="1083.4" cy="281.3" r="5.35"/>
<circle cx="1083.4" cy="297.8" r="5.35"/>
<circle cx="1083.4" cy="302.5" r="5.35"/>
<circle cx="1083.4" cy="307.1" r="5.35"/>
<circle cx="1083.4" cy="310.4" r="5.35"/>
<circle cx="1083.4" cy="313.8" r="5.35"/>
<circle cx="1088.6" cy="313.7" r="5.35"/>
<circle cx="958.6" cy="256.2" r="5.35"/>
<circle cx="963.8" cy="251.3" r="5.35"/>
<circle cx="963.8" cy="258.8" r="5.35"/>
<circle cx="963.8" cy="261.4" r="5.35"/>
<circle cx="963.8" cy="264.6" r="5.35"/>
<circle cx="963.8" cy="270.9" r="5.35"/>
<circle cx="963.8" cy="274.3" r="5.35"/>
<circle cx="963.8" cy="280.7" r="5.35"/>
<circle cx="963.8" cy="282.4" r="5.35"/>
<circle cx="969.0" cy="248.2" r="5.35"/>
<circle cx="969.0" cy="255.5" r="5.35"/>
<circle cx="969.0" cy="267.6" r="5.35"/>
<circle cx="969.0" cy="272.6" r="5.35"/>
<circle cx="969.0" cy="274.6" r="5.35"/>
<circle cx="974.2" cy="246.1" r="5.35"/>
<circle cx="974.2" cy="255.4" r="5.35"/>
<circle cx="974.2" cy="285.1" r="5.35"/>
<circle cx="974.2" cy="290.2" r="5.35"/>
<circle cx="979.4" cy="243.2" r="5.35"/>
<circle cx="979.4" cy="253.4" r="5.35"/>
<circle cx="979.4" cy="257.9" r="5.35"/>
<circle cx="979.4" cy="260.1" r="5.35"/>
<circle cx="979.4" cy="266.7" r="5.35"/>
<circle cx="979.4" cy="278.4" r="5.35"/>
<circle cx="979.4" cy="287.0" r="5.35"/>
<circle cx="979.4" cy="293.3" r="5.35"/>
<circle cx="984.6" cy="239.2" r="5.35"/>
<circle cx="984.6" cy="243.8" r="5.35"/>
<circle cx="984.6" cy="258.9" r="5.35"/>
<circle cx="984.6" cy="262.1" r="5.35"/>
<circle cx="984.6" cy="264.6" r="5.35"/>
<circle cx="984.6" cy="266.9" r="5.35"/>
<circle cx="984.6" cy="268.7" r="5.35"/>
<circle cx="984.6" cy="272.8" r="5.35"/>
<circle cx="984.6" cy="281.1" r="5.35"/>
<circle cx="984.6" cy="296.4" r="5.35"/>
<circle cx="984.6" cy="301.1" r="5.35"/>
<circle cx="989.8" cy="237.3" r="5.35"/>
<circle cx="989.8" cy="250.8" r="5.35"/>
<circle cx="989.8" cy="258.7" r="5.35"/>
<circle cx="989.8" cy="262.5" r="5.35"/>
<circle cx="989.8" cy="264.9" r="5.35"/>
<circle cx="989.8" cy="278.7" r="5.35"/>
<circle cx="989.8" cy="290.0" r="5.35"/>
<circle cx="989.8" cy="204.5" r="5.35"/>
<circle cx="995.0" cy="205.3" r="5.35"/>
<circle cx="995.0" cy="207.5" r="5.35"/>
<circle cx="995.0" cy="220.4" r="5.35"/>
<circle cx="995.0" cy="223.2" r="5.35"/>
<circle cx="1000.2" cy="204.4" r="5.35"/>
<circle cx="1000.2" cy="210.6" r="5.35"/>
<circle cx="1005.4" cy="200.6" r="5.35"/>
<circle cx="1005.4" cy="207.9" r="5.35"/>
<circle cx="1010.6" cy="200.3" r="5.35"/>
<circle cx="1010.6" cy="204.7" r="5.35"/>
<circle cx="1015.8" cy="197.7" r="5.35"/>
<circle cx="1015.8" cy="214.0" r="5.35"/>
<circle cx="1015.8" cy="216.9" r="5.35"/>
<circle cx="1015.8" cy="221.6" r="5.35"/>
<circle cx="1018.4" cy="194.9" r="5.35"/>
<circle cx="1018.4" cy="200.0" r="5.35"/>
<circle cx="1018.4" cy="219.5" r="5.35"/>
<circle cx="1021.0" cy="194.3" r="5.35"/>
<circle cx="1021.0" cy="196.4" r="5.35"/>
<circle cx="1021.0" cy="198.7" r="5.35"/>
<circle cx="1021.0" cy="209.0" r="5.35"/>
<circle cx="1026.2" cy="191.0" r="5.35"/>
<circle cx="1026.2" cy="208.2" r="5.35"/>
<circle cx="1026.2" cy="212.2" r="5.35"/>
<circle cx="1031.4" cy="187.4" r="5.35"/>
<circle cx="1031.4" cy="194.3" r="5.35"/>
<circle cx="1031.4" cy="197.2" r="5.35"/>
<circle cx="1031.4" cy="199.9" r="5.35"/>
<circle cx="1031.4" cy="206.6" r="5.35"/>
<circle cx="1031.4" cy="217.0" r="5.35"/>
<circle cx="1036.6" cy="189.0" r="5.35"/>
<circle cx="1041.8" cy="189.1" r="5.35"/>
<circle cx="1041.8" cy="192.9" r="5.35"/>
<circle cx="1041.8" cy="202.3" r="5.35"/>
<circle cx="1041.8" cy="206.2" r="5.35"/>
<circle cx="1041.8" cy="216.0" r="5.35"/>
<circle cx="1047.0" cy="190.2" r="5.35"/>
<circle cx="1047.0" cy="195.8" r="5.35"/>
<circle cx="1047.0" cy="202.4" r="5.35"/>
<circle cx="1047.0" cy="218.1" r="5.35"/>
<circle cx="1047.0" cy="221.9" r="5.35"/>
<circle cx="1052.2" cy="203.9" r="5.35"/>
<circle cx="1052.2" cy="222.0" r="5.35"/>
<circle cx="1057.4" cy="205.8" r="5.35"/>
<circle cx="1057.4" cy="212.1" r="5.35"/>
<circle cx="1057.4" cy="216.6" r="5.35"/>
<circle cx="1057.4" cy="222.9" r="5.35"/>
<circle cx="1062.6" cy="213.0" r="5.35"/>
<circle cx="1062.6" cy="224.5" r="5.35"/>
<circle cx="1062.6" cy="239.3" r="5.35"/>
<circle cx="1065.2" cy="213.9" r="5.35"/>
<circle cx="1065.2" cy="219.6" r="5.35"/>
<circle cx="1065.2" cy="225.2" r="5.35"/>
<circle cx="1065.2" cy="228.7" r="5.35"/>
<circle cx="1065.2" cy="233.0" r="5.35"/>
<circle cx="1065.2" cy="237.3" r="5.35"/>
<circle cx="1065.2" cy="242.1" r="5.35"/>
<circle cx="1067.8" cy="217.6" r="5.35"/>
<circle cx="1067.8" cy="219.3" r="5.35"/>
<circle cx="1067.8" cy="223.2" r="5.35"/>
<circle cx="1067.8" cy="231.0" r="5.35"/>
<circle cx="1067.8" cy="241.9" r="5.35"/>
<circle cx="1073.0" cy="225.6" r="5.35"/>
<circle cx="1073.0" cy="229.6" r="5.35"/>
<circle cx="1073.0" cy="235.0" r="5.35"/>
<circle cx="1078.2" cy="231.8" r="5.35"/>
<circle cx="1078.2" cy="237.4" r="5.35"/>
<circle cx="1078.2" cy="239.0" r="5.35"/>
<circle cx="1083.4" cy="239.0" r="5.35"/>
<circle cx="1086.0" cy="241.5" r="5.35"/>
<circle cx="963.8" cy="256.4" r="5.35"/>
<circle cx="963.8" cy="261.8" r="5.35"/>
<circle cx="969.0" cy="252.7" r="5.35"/>
<circle cx="969.0" cy="265.5" r="5.35"/>
<circle cx="969.0" cy="271.3" r="5.35"/>
<circle cx="974.2" cy="249.3" r="5.35"/>
<circle cx="974.2" cy="251.9" r="5.35"/>
<circle cx="979.4" cy="228.3" r="5.35"/>
<circle cx="979.4" cy="230.5" r="5.35"/>
<circle cx="984.6" cy="212.6" r="5.35"/>
<circle cx="984.6" cy="229.4" r="5.35"/>
<circle cx="984.6" cy="231.5" r="5.35"/>
<circle cx="984.6" cy="239.3" r="5.35"/>
<circle cx="984.6" cy="251.9" r="5.35"/>
<circle cx="984.6" cy="255.3" r="5.35"/>
<circle cx="984.6" cy="305.4" r="5.35"/>
<circle cx="984.6" cy="314.3" r="5.35"/>
<circle cx="989.8" cy="201.6" r="5.35"/>
<circle cx="989.8" cy="245.2" r="5.35"/>
<circle cx="989.8" cy="256.4" r="5.35"/>
<circle cx="989.8" cy="270.7" r="5.35"/>
<circle cx="989.8" cy="278.9" r="5.35"/>
<circle cx="989.8" cy="291.1" r="5.35"/>
<circle cx="989.8" cy="295.9" r="5.35"/>
<circle cx="989.8" cy="298.0" r="5.35"/>
<circle cx="995.0" cy="203.2" r="5.35"/>
<circle cx="995.0" cy="208.5" r="5.35"/>
<circle cx="995.0" cy="265.4" r="5.35"/>
<circle cx="995.0" cy="302.8" r="5.35"/>
<circle cx="1000.2" cy="203.5" r="5.35"/>
<circle cx="1000.2" cy="225.9" r="5.35"/>
<circle cx="1000.2" cy="229.5" r="5.35"/>
<circle cx="1000.2" cy="241.3" r="5.35"/>
<circle cx="1000.2" cy="270.9" r="5.35"/>
<circle cx="1000.2" cy="276.0" r="5.35"/>
<circle cx="1000.2" cy="318.6" r="5.35"/>
<circle cx="1005.4" cy="203.6" r="5.35"/>
<circle cx="1005.4" cy="214.7" r="5.35"/>
<circle cx="1005.4" cy="224.0" r="5.35"/>
<circle cx="1005.4" cy="309.7" r="5.35"/>
<circle cx="1005.4" cy="319.1" r="5.35"/>
<circle cx="1005.4" cy="321.0" r="5.35"/>
<circle cx="1005.4" cy="324.1" r="5.35"/>
<circle cx="1010.6" cy="206.4" r="5.35"/>
<circle cx="1010.6" cy="218.7" r="5.35"/>
<circle cx="1010.6" cy="233.0" r="5.35"/>
<circle cx="1010.6" cy="256.6" r="5.35"/>
<circle cx="1010.6" cy="262.1" r="5.35"/>
<circle cx="1010.6" cy="278.6" r="5.35"/>
<circle cx="1010.6" cy="293.2" r="5.35"/>
<circle cx="1010.6" cy="310.2" r="5.35"/>
<circle cx="1010.6" cy="314.9" r="5.35"/>
<circle cx="1010.6" cy="319.4" r="5.35"/>
<circle cx="1015.8" cy="205.5" r="5.35"/>
<circle cx="1015.8" cy="221.5" r="5.35"/>
<circle cx="1015.8" cy="228.9" r="5.35"/>
<circle cx="1015.8" cy="232.1" r="5.35"/>
<circle cx="1015.8" cy="234.7" r="5.35"/>
<circle cx="1015.8" cy="263.1" r="5.35"/>
<circle cx="1015.8" cy="288.6" r="5.35"/>
<circle cx="1015.8" cy="297.6" r="5.35"/>
<circle cx="1015.8" cy="317.5" r="5.35"/>
<circle cx="1021.0" cy="201.8" r="5.35"/>
<circle cx="1021.0" cy="211.7" r="5.35"/>
<circle cx="1021.0" cy="285.5" r="5.35"/>
<circle cx="1026.2" cy="193.1" r="5.35"/>
<circle cx="1026.2" cy="205.4" r="5.35"/>
<circle cx="1026.2" cy="214.4" r="5.35"/>
<circle cx="1026.2" cy="220.4" r="5.35"/>
<circle cx="1026.2" cy="255.4" r="5.35"/>
<circle cx="1026.2" cy="259.7" r="5.35"/>
<circle cx="1026.2" cy="262.3" r="5.35"/>
<circle cx="1026.2" cy="290.0" r="5.35"/>
<circle cx="1026.2" cy="315.3" r="5.35"/>
<circle cx="1026.2" cy="327.4" r="5.35"/>
<circle cx="1031.4" cy="188.1" r="5.35"/>
<circle cx="1031.4" cy="195.0" r="5.35"/>
<circle cx="1031.4" cy="205.2" r="5.35"/>
<circle cx="1031.4" cy="209.7" r="5.35"/>
<circle cx="1031.4" cy="212.4" r="5.35"/>
<circle cx="1031.4" cy="220.5" r="5.35"/>
<circle cx="1031.4" cy="258.7" r="5.35"/>
<circle cx="1031.4" cy="325.8" r="5.35"/>
<circle cx="1034.0" cy="189.8" r="5.35"/>
<circle cx="1034.0" cy="196.0" r="5.35"/>
<circle cx="1034.0" cy="248.5" r="5.35"/>
<circle cx="1034.0" cy="262.0" r="5.35"/>
<circle cx="1034.0" cy="284.3" r="5.35"/>
<circle cx="1034.0" cy="286.3" r="5.35"/>
<circle cx="1034.0" cy="291.6" r="5.35"/>
<circle cx="1034.0" cy="322.3" r="5.35"/>
<circle cx="1036.6" cy="190.8" r="5.35"/>
<circle cx="1036.6" cy="201.2" r="5.35"/>
<circle cx="1036.6" cy="216.6" r="5.35"/>
<circle cx="1036.6" cy="248.4" r="5.35"/>
<circle cx="1036.6" cy="255.8" r="5.35"/>
<circle cx="1036.6" cy="269.5" r="5.35"/>
<circle cx="1036.6" cy="276.2" r="5.35"/>
<circle cx="1036.6" cy="301.1" r="5.35"/>
<circle cx="1036.6" cy="302.7" r="5.35"/>
<circle cx="1036.6" cy="322.7" r="5.35"/>
<circle cx="1041.8" cy="190.7" r="5.35"/>
<circle cx="1041.8" cy="208.8" r="5.35"/>
<circle cx="1041.8" cy="240.8" r="5.35"/>
<circle cx="1041.8" cy="256.3" r="5.35"/>
<circle cx="1041.8" cy="262.6" r="5.35"/>
<circle cx="1041.8" cy="272.4" r="5.35"/>
<circle cx="1041.8" cy="324.9" r="5.35"/>
<circle cx="1044.4" cy="187.1" r="5.35"/>
<circle cx="1044.4" cy="190.2" r="5.35"/>
<circle cx="1044.4" cy="193.2" r="5.35"/>
<circle cx="1044.4" cy="195.2" r="5.35"/>
<circle cx="1044.4" cy="206.1" r="5.35"/>
<circle cx="1044.4" cy="210.1" r="5.35"/>
<circle cx="1044.4" cy="243.9" r="5.35"/>
<circle cx="1044.4" cy="262.4" r="5.35"/>
<circle cx="1044.4" cy="266.1" r="5.35"/>
<circle cx="1044.4" cy="280.0" r="5.35"/>
<circle cx="1044.4" cy="287.7" r="5.35"/>
<circle cx="1044.4" cy="300.1" r="5.35"/>
<circle cx="1044.4" cy="305.6" r="5.35"/>
<circle cx="1044.4" cy="310.0" r="5.35"/>
<circle cx="1044.4" cy="314.8" r="5.35"/>
<circle cx="1044.4" cy="323.8" r="5.35"/>
<circle cx="1047.0" cy="186.4" r="5.35"/>
<circle cx="1047.0" cy="207.7" r="5.35"/>
<circle cx="1047.0" cy="242.4" r="5.35"/>
<circle cx="1047.0" cy="267.7" r="5.35"/>
<circle cx="1047.0" cy="294.2" r="5.35"/>
<circle cx="1047.0" cy="295.8" r="5.35"/>
<circle cx="1047.0" cy="307.3" r="5.35"/>
<circle cx="1047.0" cy="309.8" r="5.35"/>
<circle cx="1052.2" cy="214.8" r="5.35"/>
<circle cx="1052.2" cy="220.9" r="5.35"/>
<circle cx="1052.2" cy="241.5" r="5.35"/>
<circle cx="1052.2" cy="249.0" r="5.35"/>
<circle cx="1052.2" cy="251.2" r="5.35"/>
<circle cx="1052.2" cy="260.6" r="5.35"/>
<circle cx="1052.2" cy="268.0" r="5.35"/>
<circle cx="1052.2" cy="306.5" r="5.35"/>
<circle cx="1052.2" cy="313.6" r="5.35"/>
<circle cx="1052.2" cy="326.3" r="5.35"/>
<circle cx="1054.8" cy="217.4" r="5.35"/>
<circle cx="1054.8" cy="220.6" r="5.35"/>
<circle cx="1054.8" cy="236.8" r="5.35"/>
<circle cx="1054.8" cy="249.6" r="5.35"/>
<circle cx="1054.8" cy="272.4" r="5.35"/>
<circle cx="1054.8" cy="328.5" r="5.35"/>
<circle cx="1057.4" cy="214.8" r="5.35"/>
<circle cx="1057.4" cy="229.5" r="5.35"/>
<circle cx="1057.4" cy="232.0" r="5.35"/>
<circle cx="1057.4" cy="260.5" r="5.35"/>
<circle cx="1057.4" cy="322.3" r="5.35"/>
<circle cx="1057.4" cy="330.8" r="5.35"/>
<circle cx="1062.6" cy="213.0" r="5.35"/>
<circle cx="1062.6" cy="215.8" r="5.35"/>
<circle cx="1062.6" cy="218.5" r="5.35"/>
<circle cx="1062.6" cy="247.0" r="5.35"/>
<circle cx="1062.6" cy="271.3" r="5.35"/>
<circle cx="1062.6" cy="282.3" r="5.35"/>
<circle cx="1062.6" cy="299.3" r="5.35"/>
<circle cx="1062.6" cy="301.2" r="5.35"/>
<circle cx="1062.6" cy="319.2" r="5.35"/>
<circle cx="1062.6" cy="330.1" r="5.35"/>
<circle cx="1067.8" cy="217.0" r="5.35"/>
<circle cx="1067.8" cy="222.6" r="5.35"/>
<circle cx="1067.8" cy="224.9" r="5.35"/>
<circle cx="1067.8" cy="235.5" r="5.35"/>
<circle cx="1067.8" cy="241.5" r="5.35"/>
<circle cx="1067.8" cy="262.5" r="5.35"/>
<circle cx="1067.8" cy="291.2" r="5.35"/>
<circle cx="1067.8" cy="313.3" r="5.35"/>
<circle cx="1067.8" cy="324.5" r="5.35"/>
<circle cx="1073.0" cy="219.3" r="5.35"/>
<circle cx="1073.0" cy="236.8" r="5.35"/>
<circle cx="1073.0" cy="291.1" r="5.35"/>
<circle cx="1073.0" cy="294.0" r="5.35"/>
<circle cx="1073.0" cy="306.0" r="5.35"/>
<circle cx="1073.0" cy="318.3" r="5.35"/>
<circle cx="1078.2" cy="224.2" r="5.35"/>
<circle cx="1078.2" cy="241.5" r="5.35"/>
<circle cx="1078.2" cy="265.7" r="5.35"/>
<circle cx="1078.2" cy="284.9" r="5.35"/>
<circle cx="1078.2" cy="317.7" r="5.35"/>
<circle cx="1083.4" cy="223.1" r="5.35"/>
<circle cx="1083.4" cy="264.4" r="5.35"/>
<circle cx="1083.4" cy="273.7" r="5.35"/>
<circle cx="1083.4" cy="290.5" r="5.35"/>
<circle cx="1083.4" cy="319.8" r="5.35"/>
<circle cx="1088.6" cy="230.1" r="5.35"/>
<circle cx="1088.6" cy="237.5" r="5.35"/>
<circle cx="1088.6" cy="245.0" r="5.35"/>
<circle cx="1088.6" cy="254.5" r="5.35"/>
<circle cx="1088.6" cy="258.5" r="5.35"/>
<circle cx="1088.6" cy="272.9" r="5.35"/>
<circle cx="1088.6" cy="275.7" r="5.35"/>
<circle cx="1088.6" cy="283.0" r="5.35"/>
<circle cx="1093.8" cy="250.9" r="5.35"/>
<circle cx="1093.8" cy="254.2" r="5.35"/>
<circle cx="1093.8" cy="305.7" r="5.35"/>
<circle cx="1099.0" cy="254.2" r="5.35"/>
<circle cx="1099.0" cy="272.1" r="5.35"/>
<circle cx="1099.0" cy="291.9" r="5.35"/>
<circle cx="1015.3" cy="121.2" r="5.35"/>
<circle cx="1031.3" cy="127.9" r="5.35"/>
<circle cx="1056.6" cy="123.7" r="5.35"/>
<circle cx="926.8" cy="155.5" r="5.35"/>
<circle cx="900.2" cy="167.6" r="5.35"/>
<circle cx="900.2" cy="177.4" r="5.35"/>
<circle cx="885.5" cy="195.0" r="5.35"/>
<circle cx="885.5" cy="220.0" r="5.35"/>
<circle cx="869.2" cy="226.0" r="5.35"/>
<circle cx="875.2" cy="234.2" r="5.35"/>
<circle cx="848.1" cy="236.3" r="5.35"/>
<circle cx="875.2" cy="245.8" r="5.35"/>
<circle cx="885.5" cy="255.4" r="5.35"/>
<circle cx="916.5" cy="239.4" r="5.35"/>
<circle cx="921.6" cy="245.8" r="5.35"/>
<circle cx="916.5" cy="256.2" r="5.35"/>
<circle cx="926.8" cy="261.3" r="5.35"/>
<circle cx="937.9" cy="262.1" r="5.35"/>
<circle cx="905.4" cy="266.5" r="5.35"/>
<circle cx="900.2" cy="276.8" r="5.35"/>
<circle cx="921.6" cy="271.7" r="5.35"/>
<circle cx="932.7" cy="306.0" r="5.35"/>
<circle cx="952.6" cy="299.3" r="5.35"/>
<circle cx="962.9" cy="195.0" r="5.35"/>
<circle cx="979.2" cy="177.4" r="5.35"/>
<circle cx="989.5" cy="168.4" r="5.35"/>
<circle cx="995.2" cy="170.2" r="5.35"/>
<circle cx="1005.0" cy="172.8" r="5.35"/>
<circle cx="1020.5" cy="169.2" r="5.35"/>
<circle cx="1042.2" cy="171.0" r="5.35"/>
<circle cx="1056.6" cy="165.0" r="5.35"/>
<circle cx="1056.6" cy="176.1" r="5.35"/>
<circle cx="1077.8" cy="165.0" r="5.35"/>
<circle cx="1108.8" cy="189.8" r="5.35"/>
<circle cx="1067.0" cy="191.6" r="5.35"/>
<circle cx="1067.0" cy="200.2" r="5.35"/>
<circle cx="1005.0" cy="191.6" r="5.35"/>
<circle cx="1015.3" cy="183.1" r="5.35"/>
<circle cx="1015.3" cy="188.3" r="5.35"/>
<circle cx="1026.2" cy="180.0" r="5.35"/>
<circle cx="1047.3" cy="182.1" r="5.35"/>
<circle cx="952.6" cy="216.2" r="5.35"/>
<circle cx="947.5" cy="225.2" r="5.35"/>
<circle cx="942.3" cy="231.1" r="5.35"/>
<circle cx="952.6" cy="239.9" r="5.35"/>
<circle cx="962.9" cy="226.5" r="5.35"/>
<circle cx="969.4" cy="225.2" r="5.35"/>
<circle cx="969.4" cy="229.1" r="5.35"/>
<circle cx="1161.7" cy="235.5" r="5.35"/>
<circle cx="1177.2" cy="250.2" r="5.35"/>
<circle cx="1125.6" cy="242.5" r="5.35"/>
<circle cx="1135.9" cy="258.0" r="5.35"/>
<circle cx="1146.2" cy="262.1" r="5.35"/>
<circle cx="1120.4" cy="260.0" r="5.35"/>
<circle cx="1120.4" cy="269.9" r="5.35"/>
<circle cx="1130.7" cy="272.4" r="5.35"/>
<circle cx="1172.0" cy="282.0" r="5.35"/>
<circle cx="1161.7" cy="292.3" r="5.35"/>
<circle cx="1119.1" cy="300.0" r="5.35"/>
<circle cx="1124.3" cy="300.0" r="5.35"/>
<circle cx="1130.7" cy="302.6" r="5.35"/>
<circle cx="1108.8" cy="291.0" r="5.35"/>
<circle cx="1108.8" cy="307.8" r="5.35"/>
<circle cx="1108.8" cy="339.5" r="5.35"/>
<circle cx="1234.8" cy="331.0" r="5.35"/>
<circle cx="1005.0" cy="344.7" r="5.35"/>
<circle cx="1031.3" cy="355.6" r="5.35"/>
<circle cx="984.9" cy="328.4" r="5.35"/>
<circle cx="990.0" cy="327.2" r="5.35"/>
<circle cx="979.2" cy="298.8" r="5.35"/>
<circle cx="979.2" cy="307.8" r="5.35"/>
<circle cx="1057.2" cy="334.9" r="5.35"/>
<circle cx="1062.3" cy="335.4" r="5.35"/>
<circle cx="1083.0" cy="332.3" r="5.35"/>
<circle cx="1108.8" cy="226.0" r="5.35"/>
<circle cx="1108.8" cy="230.4" r="5.35"/>
<circle cx="1098.5" cy="232.9" r="5.35"/>
<circle cx="1098.5" cy="241.5" r="5.35"/>
<circle cx="1098.5" cy="245.8" r="5.35"/>
<circle cx="1088.1" cy="214.9" r="5.35"/>
<circle cx="1084.3" cy="209.7" r="5.35"/>
<circle cx="1079.1" cy="213.1" r="5.35"/>
<circle cx="1103.6" cy="261.3" r="5.35"/>
<circle cx="1099.7" cy="266.5" r="5.35"/>
<circle cx="989.7" cy="168.2" r="5.35"/>
<circle cx="1020.7" cy="169.1" r="5.35"/>
<circle cx="1042.3" cy="171.4" r="5.35"/>
<circle cx="1057.1" cy="175.8" r="5.35"/>
<circle cx="1078.1" cy="164.9" r="5.35"/>
<circle cx="979.2" cy="177.7" r="5.35"/>
<circle cx="963.3" cy="195.0" r="5.35"/>
<circle cx="1005.0" cy="192.1" r="5.35"/>
<circle cx="1015.6" cy="183.5" r="5.35"/>
<circle cx="1026.1" cy="180.6" r="5.35"/>
<circle cx="1048.1" cy="181.6" r="5.35"/>
<circle cx="1067.2" cy="191.1" r="5.35"/>
<circle cx="1036.6" cy="180.6" r="5.35"/>
<circle cx="1037.6" cy="185.4" r="5.35"/>
<circle cx="953.0" cy="216.0" r="5.35"/>
<circle cx="948.6" cy="224.2" r="5.35"/>
<circle cx="942.9" cy="231.3" r="5.35"/>
<circle cx="953.0" cy="239.9" r="5.35"/>
<circle cx="963.0" cy="225.6" r="5.35"/>
<circle cx="968.7" cy="221.7" r="5.35"/>
<circle cx="968.7" cy="227.5" r="5.35"/>
<circle cx="972.5" cy="239.9" r="5.35"/>
<circle cx="979.2" cy="237.0" r="5.35"/>
<circle cx="979.2" cy="240.9" r="5.35"/>
<circle cx="947.7" cy="264.4" r="5.35"/>
<circle cx="953.0" cy="262.5" r="5.35"/>
<circle cx="963.0" cy="249.5" r="5.35"/>
<circle cx="963.0" cy="254.8" r="5.35"/>
<circle cx="953.0" cy="299.2" r="5.35"/>
<circle cx="979.2" cy="295.4" r="5.35"/>
<circle cx="979.2" cy="303.0" r="5.35"/>
<circle cx="979.2" cy="308.8" r="5.35"/>
<circle cx="984.0" cy="328.8" r="5.35"/>
<circle cx="989.7" cy="326.9" r="5.35"/>
<circle cx="989.7" cy="330.8" r="5.35"/>
<circle cx="1005.0" cy="344.1" r="5.35"/>
<circle cx="1109.3" cy="339.4" r="5.35"/>
<circle cx="1083.5" cy="207.4" r="5.35"/>
<circle cx="1089.2" cy="215.0" r="5.35"/>
<circle cx="1077.7" cy="213.1" r="5.35"/>
<circle cx="1099.7" cy="233.2" r="5.35"/>
<circle cx="1109.3" cy="225.6" r="5.35"/>
<circle cx="1109.3" cy="230.3" r="5.35"/>
<circle cx="1118.0" cy="264.8" r="5.35"/>
<circle cx="1109.3" cy="291.5" r="5.35"/>
<circle cx="1109.3" cy="308.4" r="5.35"/>
<circle cx="1118.0" cy="299.2" r="5.35"/>
<circle cx="1083.5" cy="331.7" r="5.35"/>
<circle cx="1077.7" cy="328.8" r="5.35"/>
<circle cx="1062.4" cy="334.6" r="5.35"/>
<circle cx="1054.8" cy="334.6" r="5.35"/>
<circle cx="1177.3" cy="250.6" r="5.35"/>
<circle cx="1146.3" cy="262.2" r="5.35"/>
<circle cx="1171.9" cy="282.5" r="5.35"/>
<circle cx="1161.2" cy="293.0" r="5.35"/>
<circle cx="1234.6" cy="331.4" r="5.35"/>
<circle cx="1664.1" cy="279.3" r="5.35"/>
<circle cx="1664.1" cy="288.9" r="5.35"/>
<circle cx="1664.1" cy="292.8" r="5.35"/>
<circle cx="1664.1" cy="298.8" r="5.35"/>
<circle cx="1664.1" cy="300.6" r="5.35"/>
<circle cx="1664.1" cy="304.6" r="5.35"/>
<circle cx="1666.7" cy="269.8" r="5.35"/>
<circle cx="1666.7" cy="281.4" r="5.35"/>
<circle cx="1666.7" cy="290.4" r="5.35"/>
<circle cx="1666.7" cy="293.5" r="5.35"/>
<circle cx="1666.7" cy="295.0" r="5.35"/>
<circle cx="1666.7" cy="301.4" r="5.35"/>
<circle cx="1666.7" cy="303.4" r="5.35"/>
<circle cx="1666.7" cy="304.9" r="5.35"/>
<circle cx="1669.3" cy="262.7" r="5.35"/>
<circle cx="1669.3" cy="274.9" r="5.35"/>
<circle cx="1669.3" cy="277.2" r="5.35"/>
<circle cx="1669.3" cy="279.0" r="5.35"/>
<circle cx="1669.3" cy="280.9" r="5.35"/>
<circle cx="1669.3" cy="295.7" r="5.35"/>
<circle cx="1669.3" cy="297.7" r="5.35"/>
<circle cx="1669.3" cy="299.8" r="5.35"/>
<circle cx="1669.3" cy="301.3" r="5.35"/>
<circle cx="1669.3" cy="303.0" r="5.35"/>
<circle cx="1669.3" cy="304.7" r="5.35"/>
<circle cx="1669.3" cy="307.7" r="5.35"/>
<circle cx="1674.5" cy="251.8" r="5.35"/>
<circle cx="1674.5" cy="254.0" r="5.35"/>
<circle cx="1674.5" cy="261.3" r="5.35"/>
<circle cx="1674.5" cy="267.5" r="5.35"/>
<circle cx="1674.5" cy="272.0" r="5.35"/>
<circle cx="1674.5" cy="276.5" r="5.35"/>
<circle cx="1674.5" cy="283.1" r="5.35"/>
<circle cx="1674.5" cy="287.7" r="5.35"/>
<circle cx="1674.5" cy="290.1" r="5.35"/>
<circle cx="1674.5" cy="293.0" r="5.35"/>
<circle cx="1674.5" cy="295.5" r="5.35"/>
<circle cx="1674.5" cy="298.8" r="5.35"/>
<circle cx="1679.7" cy="235.2" r="5.35"/>
<circle cx="1679.7" cy="238.9" r="5.35"/>
<circle cx="1679.7" cy="246.3" r="5.35"/>
<circle cx="1679.7" cy="249.9" r="5.35"/>
<circle cx="1679.7" cy="255.6" r="5.35"/>
<circle cx="1679.7" cy="257.4" r="5.35"/>
<circle cx="1679.7" cy="259.2" r="5.35"/>
<circle cx="1679.7" cy="264.4" r="5.35"/>
<circle cx="1679.7" cy="266.1" r="5.35"/>
<circle cx="1679.7" cy="268.9" r="5.35"/>
<circle cx="1679.7" cy="272.1" r="5.35"/>
<circle cx="1679.7" cy="274.3" r="5.35"/>
<circle cx="1679.7" cy="276.0" r="5.35"/>
<circle cx="1679.7" cy="277.5" r="5.35"/>
<circle cx="1679.7" cy="289.6" r="5.35"/>
<circle cx="1679.7" cy="295.2" r="5.35"/>
<circle cx="1679.7" cy="307.3" r="5.35"/>
<circle cx="1679.7" cy="311.2" r="5.35"/>
<circle cx="1684.9" cy="233.6" r="5.35"/>
<circle cx="1684.9" cy="237.7" r="5.35"/>
<circle cx="1684.9" cy="241.7" r="5.35"/>
<circle cx="1684.9" cy="244.1" r="5.35"/>
<circle cx="1684.9" cy="247.3" r="5.35"/>
<circle cx="1684.9" cy="253.3" r="5.35"/>
<circle cx="1684.9" cy="255.5" r="5.35"/>
<circle cx="1684.9" cy="263.7" r="5.35"/>
<circle cx="1684.9" cy="267.6" r="5.35"/>
<circle cx="1684.9" cy="272.4" r="5.35"/>
<circle cx="1684.9" cy="279.9" r="5.35"/>
<circle cx="1684.9" cy="285.1" r="5.35"/>
<circle cx="1684.9" cy="287.1" r="5.35"/>
<circle cx="1684.9" cy="289.6" r="5.35"/>
<circle cx="1684.9" cy="291.1" r="5.35"/>
<circle cx="1684.9" cy="292.7" r="5.35"/>
<circle cx="1684.9" cy="304.8" r="5.35"/>
<circle cx="1684.9" cy="309.4" r="5.35"/>
<circle cx="1690.0" cy="231.5" r="5.35"/>
<circle cx="1690.0" cy="245.0" r="5.35"/>
<circle cx="1690.0" cy="255.5" r="5.35"/>
<circle cx="1690.0" cy="259.1" r="5.35"/>
<circle cx="1690.0" cy="260.9" r="5.35"/>
<circle cx="1690.0" cy="263.7" r="5.35"/>
<circle cx="1690.0" cy="265.9" r="5.35"/>
<circle cx="1690.0" cy="269.0" r="5.35"/>
<circle cx="1690.0" cy="270.8" r="5.35"/>
<circle cx="1690.0" cy="276.6" r="5.35"/>
<circle cx="1690.0" cy="291.7" r="5.35"/>
<circle cx="1690.0" cy="294.1" r="5.35"/>
<circle cx="1690.0" cy="300.9" r="5.35"/>
<circle cx="1690.0" cy="305.5" r="5.35"/>
<circle cx="1690.0" cy="309.3" r="5.35"/>
<circle cx="1695.2" cy="230.9" r="5.35"/>
<circle cx="1695.2" cy="232.5" r="5.35"/>
<circle cx="1695.2" cy="245.8" r="5.35"/>
<circle cx="1695.2" cy="248.0" r="5.35"/>
<circle cx="1695.2" cy="249.5" r="5.35"/>
<circle cx="1695.2" cy="258.4" r="5.35"/>
<circle cx="1695.2" cy="264.4" r="5.35"/>
<circle cx="1695.2" cy="269.8" r="5.35"/>
<circle cx="1695.2" cy="276.4" r="5.35"/>
<circle cx="1695.2" cy="279.6" r="5.35"/>
<circle cx="1695.2" cy="281.5" r="5.35"/>
<circle cx="1695.2" cy="284.4" r="5.35"/>
<circle cx="1695.2" cy="296.6" r="5.35"/>
<circle cx="1695.2" cy="312.1" r="5.35"/>
<circle cx="1700.4" cy="228.8" r="5.35"/>
<circle cx="1700.4" cy="238.5" r="5.35"/>
<circle cx="1700.4" cy="240.0" r="5.35"/>
<circle cx="1700.4" cy="247.7" r="5.35"/>
<circle cx="1700.4" cy="250.2" r="5.35"/>
<circle cx="1700.4" cy="254.5" r="5.35"/>
<circle cx="1700.4" cy="256.5" r="5.35"/>
<circle cx="1700.4" cy="258.3" r="5.35"/>
<circle cx="1700.4" cy="267.3" r="5.35"/>
<circle cx="1700.4" cy="271.3" r="5.35"/>
<circle cx="1700.4" cy="285.3" r="5.35"/>
<circle cx="1700.4" cy="293.8" r="5.35"/>
<circle cx="1700.4" cy="300.1" r="5.35"/>
<circle cx="1700.4" cy="301.9" r="5.35"/>
<circle cx="1700.4" cy="306.5" r="5.35"/>
<circle cx="1705.6" cy="228.1" r="5.35"/>
<circle cx="1705.6" cy="230.3" r="5.35"/>
<circle cx="1705.6" cy="247.3" r="5.35"/>
<circle cx="1705.6" cy="262.0" r="5.35"/>
<circle cx="1705.6" cy="264.5" r="5.35"/>
<circle cx="1705.6" cy="267.3" r="5.35"/>
<circle cx="1705.6" cy="273.2" r="5.35"/>
<circle cx="1705.6" cy="277.2" r="5.35"/>
<circle cx="1705.6" cy="279.4" r="5.35"/>
<circle cx="1705.6" cy="295.5" r="5.35"/>
<circle cx="1705.6" cy="300.4" r="5.35"/>
<circle cx="1705.6" cy="303.5" r="5.35"/>
<circle cx="1705.6" cy="305.0" r="5.35"/>
<circle cx="1705.6" cy="309.0" r="5.35"/>
<circle cx="1710.8" cy="228.2" r="5.35"/>
<circle cx="1710.8" cy="234.2" r="5.35"/>
<circle cx="1710.8" cy="244.5" r="5.35"/>
<circle cx="1710.8" cy="247.7" r="5.35"/>
<circle cx="1710.8" cy="251.4" r="5.35"/>
<circle cx="1710.8" cy="256.5" r="5.35"/>
<circle cx="1710.8" cy="260.5" r="5.35"/>
<circle cx="1710.8" cy="262.5" r="5.35"/>
<circle cx="1710.8" cy="265.1" r="5.35"/>
<circle cx="1710.8" cy="267.4" r="5.35"/>
<circle cx="1710.8" cy="269.7" r="5.35"/>
<circle cx="1710.8" cy="271.5" r="5.35"/>
<circle cx="1710.8" cy="274.8" r="5.35"/>
<circle cx="1710.8" cy="277.1" r="5.35"/>
<circle cx="1710.8" cy="285.2" r="5.35"/>
<circle cx="1710.8" cy="288.1" r="5.35"/>
<circle cx="1710.8" cy="301.1" r="5.35"/>
<circle cx="1710.8" cy="308.5" r="5.35"/>
<circle cx="1710.8" cy="311.1" r="5.35"/>
<circle cx="1713.3" cy="229.0" r="5.35"/>
<circle cx="1713.3" cy="232.7" r="5.35"/>
<circle cx="1713.3" cy="236.9" r="5.35"/>
<circle cx="1713.3" cy="238.9" r="5.35"/>
<circle cx="1713.3" cy="243.0" r="5.35"/>
<circle cx="1713.3" cy="249.5" r="5.35"/>
<circle cx="1713.3" cy="253.1" r="5.35"/>
<circle cx="1713.3" cy="255.6" r="5.35"/>
<circle cx="1713.3" cy="266.1" r="5.35"/>
<circle cx="1713.3" cy="268.8" r="5.35"/>
<circle cx="1713.3" cy="289.0" r="5.35"/>
<circle cx="1713.3" cy="294.6" r="5.35"/>
<circle cx="1713.3" cy="296.1" r="5.35"/>
<circle cx="1713.3" cy="299.7" r="5.35"/>
<circle cx="1713.3" cy="301.8" r="5.35"/>
<circle cx="1713.3" cy="308.7" r="5.35"/>
<circle cx="1713.3" cy="312.1" r="5.35"/>
<circle cx="1715.9" cy="229.4" r="5.35"/>
<circle cx="1715.9" cy="234.2" r="5.35"/>
<circle cx="1715.9" cy="238.6" r="5.35"/>
<circle cx="1715.9" cy="240.4" r="5.35"/>
<circle cx="1715.9" cy="256.0" r="5.35"/>
<circle cx="1715.9" cy="258.8" r="5.35"/>
<circle cx="1715.9" cy="262.9" r="5.35"/>
<circle cx="1715.9" cy="266.8" r="5.35"/>
<circle cx="1715.9" cy="270.5" r="5.35"/>
<circle cx="1715.9" cy="272.1" r="5.35"/>
<circle cx="1715.9" cy="281.4" r="5.35"/>
<circle cx="1715.9" cy="285.3" r="5.35"/>
<circle cx="1715.9" cy="288.5" r="5.35"/>
<circle cx="1715.9" cy="296.9" r="5.35"/>
<circle cx="1715.9" cy="305.3" r="5.35"/>
<circle cx="1715.9" cy="311.2" r="5.35"/>
<circle cx="1721.1" cy="228.3" r="5.35"/>
<circle cx="1721.1" cy="231.3" r="5.35"/>
<circle cx="1721.1" cy="236.0" r="5.35"/>
<circle cx="1721.1" cy="242.9" r="5.35"/>
<circle cx="1721.1" cy="249.1" r="5.35"/>
<circle cx="1721.1" cy="254.0" r="5.35"/>
<circle cx="1721.1" cy="258.8" r="5.35"/>
<circle cx="1721.1" cy="264.1" r="5.35"/>
<circle cx="1721.1" cy="268.6" r="5.35"/>
<circle cx="1721.1" cy="270.1" r="5.35"/>
<circle cx="1721.1" cy="274.4" r="5.35"/>
<circle cx="1721.1" cy="277.0" r="5.35"/>
<circle cx="1721.1" cy="278.8" r="5.35"/>
<circle cx="1721.1" cy="283.6" r="5.35"/>
<circle cx="1721.1" cy="291.5" r="5.35"/>
<circle cx="1721.1" cy="294.2" r="5.35"/>
<circle cx="1721.1" cy="299.6" r="5.35"/>
<circle cx="1721.1" cy="304.5" r="5.35"/>
<circle cx="1721.1" cy="310.0" r="5.35"/>
<circle cx="1726.3" cy="228.8" r="5.35"/>
<circle cx="1726.3" cy="233.6" r="5.35"/>
<circle cx="1726.3" cy="236.6" r="5.35"/>
<circle cx="1726.3" cy="240.0" r="5.35"/>
<circle cx="1726.3" cy="245.4" r="5.35"/>
<circle cx="1726.3" cy="247.6" r="5.35"/>
<circle cx="1726.3" cy="252.6" r="5.35"/>
<circle cx="1726.3" cy="263.8" r="5.35"/>
<circle cx="1726.3" cy="265.6" r="5.35"/>
<circle cx="1726.3" cy="273.8" r="5.35"/>
<circle cx="1726.3" cy="279.6" r="5.35"/>
<circle cx="1726.3" cy="282.9" r="5.35"/>
<circle cx="1726.3" cy="289.5" r="5.35"/>
<circle cx="1726.3" cy="291.3" r="5.35"/>
<circle cx="1726.3" cy="293.4" r="5.35"/>
<circle cx="1731.5" cy="229.4" r="5.35"/>
<circle cx="1731.5" cy="231.4" r="5.35"/>
<circle cx="1731.5" cy="235.0" r="5.35"/>
<circle cx="1731.5" cy="239.3" r="5.35"/>
<circle cx="1731.5" cy="256.8" r="5.35"/>
<circle cx="1731.5" cy="259.0" r="5.35"/>
<circle cx="1731.5" cy="264.1" r="5.35"/>
<circle cx="1731.5" cy="267.6" r="5.35"/>
<circle cx="1731.5" cy="272.0" r="5.35"/>
<circle cx="1731.5" cy="283.4" r="5.35"/>
<circle cx="1731.5" cy="285.3" r="5.35"/>
<circle cx="1731.5" cy="293.2" r="5.35"/>
<circle cx="1731.5" cy="299.3" r="5.35"/>
<circle cx="1731.5" cy="301.9" r="5.35"/>
<circle cx="1731.5" cy="303.8" r="5.35"/>
<circle cx="1736.7" cy="230.3" r="5.35"/>
<circle cx="1736.7" cy="232.3" r="5.35"/>
<circle cx="1736.7" cy="236.6" r="5.35"/>
<circle cx="1736.7" cy="242.0" r="5.35"/>
<circle cx="1736.7" cy="245.1" r="5.35"/>
<circle cx="1736.7" cy="248.4" r="5.35"/>
<circle cx="1736.7" cy="250.3" r="5.35"/>
<circle cx="1736.7" cy="252.3" r="5.35"/>
<circle cx="1736.7" cy="254.7" r="5.35"/>
<circle cx="1736.7" cy="261.2" r="5.35"/>
<circle cx="1736.7" cy="263.1" r="5.35"/>
<circle cx="1736.7" cy="265.4" r="5.35"/>
<circle cx="1736.7" cy="269.1" r="5.35"/>
<circle cx="1736.7" cy="271.4" r="5.35"/>
<circle cx="1736.7" cy="273.9" r="5.35"/>
<circle cx="1736.7" cy="280.0" r="5.35"/>
<circle cx="1736.7" cy="282.5" r="5.35"/>
<circle cx="1736.7" cy="286.9" r="5.35"/>
<circle cx="1736.7" cy="288.7" r="5.35"/>
<circle cx="1736.7" cy="292.7" r="5.35"/>
<circle cx="1736.7" cy="298.4" r="5.35"/>
<circle cx="1736.7" cy="302.0" r="5.35"/>
<circle cx="1736.7" cy="304.2" r="5.35"/>
<circle cx="1736.7" cy="305.8" r="5.35"/>
<circle cx="1741.8" cy="231.7" r="5.35"/>
<circle cx="1741.8" cy="235.2" r="5.35"/>
<circle cx="1741.8" cy="239.1" r="5.35"/>
<circle cx="1741.8" cy="240.9" r="5.35"/>
<circle cx="1741.8" cy="246.2" r="5.35"/>
<circle cx="1741.8" cy="258.6" r="5.35"/>
<circle cx="1741.8" cy="264.3" r="5.35"/>
<circle cx="1741.8" cy="267.9" r="5.35"/>
<circle cx="1741.8" cy="275.7" r="5.35"/>
<circle cx="1741.8" cy="287.3" r="5.35"/>
<circle cx="1741.8" cy="299.3" r="5.35"/>
<circle cx="1747.0" cy="237.5" r="5.35"/>
<circle cx="1747.0" cy="244.0" r="5.35"/>
<circle cx="1747.0" cy="246.9" r="5.35"/>
<circle cx="1747.0" cy="248.9" r="5.35"/>
<circle cx="1747.0" cy="252.7" r="5.35"/>
<circle cx="1747.0" cy="258.5" r="5.35"/>
<circle cx="1747.0" cy="261.1" r="5.35"/>
<circle cx="1747.0" cy="264.1" r="5.35"/>
<circle cx="1747.0" cy="265.9" r="5.35"/>
<circle cx="1747.0" cy="267.6" r="5.35"/>
<circle cx="1747.0" cy="270.1" r="5.35"/>
<circle cx="1747.0" cy="278.2" r="5.35"/>
<circle cx="1747.0" cy="280.0" r="5.35"/>
<circle cx="1747.0" cy="282.0" r="5.35"/>
<circle cx="1747.0" cy="285.3" r="5.35"/>
<circle cx="1747.0" cy="298.9" r="5.35"/>
<circle cx="1747.0" cy="301.2" r="5.35"/>
<circle cx="1752.2" cy="241.7" r="5.35"/>
<circle cx="1752.2" cy="243.2" r="5.35"/>
<circle cx="1752.2" cy="248.6" r="5.35"/>
<circle cx="1752.2" cy="250.3" r="5.35"/>
<circle cx="1752.2" cy="252.6" r="5.35"/>
<circle cx="1752.2" cy="254.3" r="5.35"/>
<circle cx="1752.2" cy="257.0" r="5.35"/>
<circle cx="1752.2" cy="258.8" r="5.35"/>
<circle cx="1752.2" cy="260.9" r="5.35"/>
<circle cx="1752.2" cy="263.2" r="5.35"/>
<circle cx="1752.2" cy="265.6" r="5.35"/>
<circle cx="1752.2" cy="270.6" r="5.35"/>
<circle cx="1752.2" cy="273.7" r="5.35"/>
<circle cx="1752.2" cy="276.0" r="5.35"/>
<circle cx="1752.2" cy="277.6" r="5.35"/>
<circle cx="1752.2" cy="286.1" r="5.35"/>
<circle cx="1754.8" cy="257.0" r="5.35"/>
<circle cx="1754.8" cy="262.8" r="5.35"/>
<circle cx="1754.8" cy="266.3" r="5.35"/>
<circle cx="1754.8" cy="269.2" r="5.35"/>
<circle cx="1754.8" cy="271.5" r="5.35"/>
<circle cx="1754.8" cy="275.0" r="5.35"/>
<circle cx="1653.8" cy="279.6" r="5.35"/>
<circle cx="1653.8" cy="283.7" r="5.35"/>
<circle cx="1653.8" cy="293.6" r="5.35"/>
<circle cx="1659.0" cy="257.6" r="5.35"/>
<circle cx="1659.0" cy="267.6" r="5.35"/>
<circle cx="1659.0" cy="276.8" r="5.35"/>
<circle cx="1659.0" cy="283.9" r="5.35"/>
<circle cx="1664.1" cy="249.4" r="5.35"/>
<circle cx="1664.1" cy="273.9" r="5.35"/>
<circle cx="1664.1" cy="283.5" r="5.35"/>
<circle cx="1664.1" cy="287.8" r="5.35"/>
<circle cx="1664.1" cy="292.3" r="5.35"/>
<circle cx="1664.1" cy="299.3" r="5.35"/>
<circle cx="1664.1" cy="301.2" r="5.35"/>
<circle cx="1664.1" cy="310.2" r="5.35"/>
<circle cx="1669.3" cy="244.3" r="5.35"/>
<circle cx="1669.3" cy="266.8" r="5.35"/>
<circle cx="1669.3" cy="274.8" r="5.35"/>
<circle cx="1669.3" cy="285.5" r="5.35"/>
<circle cx="1669.3" cy="288.0" r="5.35"/>
<circle cx="1669.3" cy="289.9" r="5.35"/>
<circle cx="1674.5" cy="235.0" r="5.35"/>
<circle cx="1674.5" cy="254.7" r="5.35"/>
<circle cx="1674.5" cy="267.2" r="5.35"/>
<circle cx="1674.5" cy="269.8" r="5.35"/>
<circle cx="1674.5" cy="274.4" r="5.35"/>
<circle cx="1674.5" cy="278.1" r="5.35"/>
<circle cx="1674.5" cy="282.2" r="5.35"/>
<circle cx="1674.5" cy="283.7" r="5.35"/>
<circle cx="1674.5" cy="291.2" r="5.35"/>
<circle cx="1674.5" cy="295.6" r="5.35"/>
<circle cx="1674.5" cy="301.1" r="5.35"/>
<circle cx="1674.5" cy="304.2" r="5.35"/>
<circle cx="1674.5" cy="306.7" r="5.35"/>
<circle cx="1674.5" cy="308.4" r="5.35"/>
<circle cx="1679.7" cy="229.7" r="5.35"/>
<circle cx="1679.7" cy="232.2" r="5.35"/>
<circle cx="1679.7" cy="235.0" r="5.35"/>
<circle cx="1679.7" cy="237.5" r="5.35"/>
<circle cx="1679.7" cy="242.1" r="5.35"/>
<circle cx="1679.7" cy="244.0" r="5.35"/>
<circle cx="1679.7" cy="248.1" r="5.35"/>
<circle cx="1679.7" cy="251.4" r="5.35"/>
<circle cx="1679.7" cy="254.6" r="5.35"/>
<circle cx="1679.7" cy="264.6" r="5.35"/>
<circle cx="1679.7" cy="271.0" r="5.35"/>
<circle cx="1679.7" cy="277.7" r="5.35"/>
<circle cx="1679.7" cy="282.7" r="5.35"/>
<circle cx="1679.7" cy="290.4" r="5.35"/>
<circle cx="1679.7" cy="304.2" r="5.35"/>
<circle cx="1679.7" cy="308.6" r="5.35"/>
<circle cx="1679.7" cy="310.7" r="5.35"/>
<circle cx="1679.7" cy="317.5" r="5.35"/>
<circle cx="1684.9" cy="226.0" r="5.35"/>
<circle cx="1684.9" cy="244.0" r="5.35"/>
<circle cx="1684.9" cy="245.6" r="5.35"/>
<circle cx="1684.9" cy="253.3" r="5.35"/>
<circle cx="1684.9" cy="259.5" r="5.35"/>
<circle cx="1684.9" cy="264.1" r="5.35"/>
<circle cx="1684.9" cy="283.1" r="5.35"/>
<circle cx="1684.9" cy="294.3" r="5.35"/>
<circle cx="1684.9" cy="297.3" r="5.35"/>
<circle cx="1684.9" cy="304.2" r="5.35"/>
<circle cx="1684.9" cy="313.3" r="5.35"/>
<circle cx="1684.9" cy="315.1" r="5.35"/>
<circle cx="1684.9" cy="317.3" r="5.35"/>
<circle cx="1690.0" cy="225.8" r="5.35"/>
<circle cx="1690.0" cy="231.7" r="5.35"/>
<circle cx="1690.0" cy="238.9" r="5.35"/>
<circle cx="1690.0" cy="242.8" r="5.35"/>
<circle cx="1690.0" cy="261.0" r="5.35"/>
<circle cx="1690.0" cy="288.6" r="5.35"/>
<circle cx="1690.0" cy="295.4" r="5.35"/>
<circle cx="1690.0" cy="297.1" r="5.35"/>
<circle cx="1690.0" cy="302.6" r="5.35"/>
<circle cx="1690.0" cy="317.1" r="5.35"/>
<circle cx="1695.2" cy="223.2" r="5.35"/>
<circle cx="1695.2" cy="234.6" r="5.35"/>
<circle cx="1695.2" cy="243.9" r="5.35"/>
<circle cx="1695.2" cy="248.1" r="5.35"/>
<circle cx="1695.2" cy="257.4" r="5.35"/>
<circle cx="1695.2" cy="270.4" r="5.35"/>
<circle cx="1695.2" cy="298.9" r="5.35"/>
<circle cx="1695.2" cy="314.7" r="5.35"/>
<circle cx="1700.4" cy="224.7" r="5.35"/>
<circle cx="1700.4" cy="242.5" r="5.35"/>
<circle cx="1700.4" cy="255.1" r="5.35"/>
<circle cx="1700.4" cy="263.6" r="5.35"/>
<circle cx="1700.4" cy="270.9" r="5.35"/>
<circle cx="1700.4" cy="287.6" r="5.35"/>
<circle cx="1700.4" cy="296.9" r="5.35"/>
<circle cx="1700.4" cy="308.6" r="5.35"/>
<circle cx="1700.4" cy="312.2" r="5.35"/>
<circle cx="1700.4" cy="314.5" r="5.35"/>
<circle cx="1700.4" cy="318.5" r="5.35"/>
<circle cx="1705.6" cy="221.8" r="5.35"/>
<circle cx="1705.6" cy="225.0" r="5.35"/>
<circle cx="1705.6" cy="250.4" r="5.35"/>
<circle cx="1705.6" cy="252.5" r="5.35"/>
<circle cx="1705.6" cy="274.9" r="5.35"/>
<circle cx="1705.6" cy="288.2" r="5.35"/>
<circle cx="1705.6" cy="296.6" r="5.35"/>
<circle cx="1710.8" cy="221.0" r="5.35"/>
<circle cx="1710.8" cy="244.9" r="5.35"/>
<circle cx="1710.8" cy="250.7" r="5.35"/>
<circle cx="1710.8" cy="272.1" r="5.35"/>
<circle cx="1710.8" cy="287.0" r="5.35"/>
<circle cx="1710.8" cy="289.7" r="5.35"/>
<circle cx="1710.8" cy="291.5" r="5.35"/>
<circle cx="1710.8" cy="293.2" r="5.35"/>
<circle cx="1710.8" cy="306.8" r="5.35"/>
<circle cx="1715.9" cy="221.5" r="5.35"/>
<circle cx="1715.9" cy="226.6" r="5.35"/>
<circle cx="1715.9" cy="241.0" r="5.35"/>
<circle cx="1715.9" cy="253.3" r="5.35"/>
<circle cx="1715.9" cy="270.9" r="5.35"/>
<circle cx="1715.9" cy="299.9" r="5.35"/>
<circle cx="1715.9" cy="312.7" r="5.35"/>
<circle cx="1721.1" cy="221.0" r="5.35"/>
<circle cx="1721.1" cy="238.4" r="5.35"/>
<circle cx="1721.1" cy="247.6" r="5.35"/>
<circle cx="1721.1" cy="252.3" r="5.35"/>
<circle cx="1721.1" cy="254.9" r="5.35"/>
<circle cx="1721.1" cy="259.6" r="5.35"/>
<circle cx="1721.1" cy="264.4" r="5.35"/>
<circle cx="1721.1" cy="271.4" r="5.35"/>
<circle cx="1721.1" cy="277.7" r="5.35"/>
<circle cx="1721.1" cy="281.0" r="5.35"/>
<circle cx="1721.1" cy="283.2" r="5.35"/>
<circle cx="1721.1" cy="286.5" r="5.35"/>
<circle cx="1721.1" cy="289.1" r="5.35"/>
<circle cx="1721.1" cy="291.4" r="5.35"/>
<circle cx="1721.1" cy="297.2" r="5.35"/>
<circle cx="1721.1" cy="299.8" r="5.35"/>
<circle cx="1721.1" cy="314.2" r="5.35"/>
<circle cx="1723.7" cy="222.8" r="5.35"/>
<circle cx="1723.7" cy="232.5" r="5.35"/>
<circle cx="1723.7" cy="236.1" r="5.35"/>
<circle cx="1723.7" cy="237.8" r="5.35"/>
<circle cx="1723.7" cy="240.0" r="5.35"/>
<circle cx="1723.7" cy="244.8" r="5.35"/>
<circle cx="1723.7" cy="249.9" r="5.35"/>
<circle cx="1723.7" cy="253.7" r="5.35"/>
<circle cx="1723.7" cy="258.1" r="5.35"/>
<circle cx="1723.7" cy="274.0" r="5.35"/>
<circle cx="1723.7" cy="275.5" r="5.35"/>
<circle cx="1723.7" cy="281.8" r="5.35"/>
<circle cx="1723.7" cy="287.2" r="5.35"/>
<circle cx="1723.7" cy="291.3" r="5.35"/>
<circle cx="1723.7" cy="303.1" r="5.35"/>
<circle cx="1723.7" cy="306.7" r="5.35"/>
<circle cx="1723.7" cy="308.5" r="5.35"/>
<circle cx="1723.7" cy="311.4" r="5.35"/>
<circle cx="1726.3" cy="221.9" r="5.35"/>
<circle cx="1726.3" cy="251.6" r="5.35"/>
<circle cx="1726.3" cy="261.4" r="5.35"/>
<circle cx="1726.3" cy="288.0" r="5.35"/>
<circle cx="1726.3" cy="292.7" r="5.35"/>
<circle cx="1726.3" cy="307.5" r="5.35"/>
<circle cx="1726.3" cy="309.3" r="5.35"/>
<circle cx="1726.3" cy="313.0" r="5.35"/>
<circle cx="1731.5" cy="226.1" r="5.35"/>
<circle cx="1731.5" cy="231.5" r="5.35"/>
<circle cx="1731.5" cy="249.7" r="5.35"/>
<circle cx="1731.5" cy="251.9" r="5.35"/>
<circle cx="1731.5" cy="261.2" r="5.35"/>
<circle cx="1731.5" cy="264.4" r="5.35"/>
<circle cx="1731.5" cy="267.6" r="5.35"/>
<circle cx="1731.5" cy="286.3" r="5.35"/>
<circle cx="1731.5" cy="292.3" r="5.35"/>
<circle cx="1731.5" cy="307.2" r="5.35"/>
<circle cx="1731.5" cy="311.4" r="5.35"/>
<circle cx="1736.7" cy="227.0" r="5.35"/>
<circle cx="1736.7" cy="230.6" r="5.35"/>
<circle cx="1736.7" cy="241.0" r="5.35"/>
<circle cx="1736.7" cy="266.6" r="5.35"/>
<circle cx="1736.7" cy="281.0" r="5.35"/>
<circle cx="1736.7" cy="287.2" r="5.35"/>
<circle cx="1736.7" cy="292.8" r="5.35"/>
<circle cx="1736.7" cy="295.1" r="5.35"/>
<circle cx="1736.7" cy="308.3" r="5.35"/>
<circle cx="1736.7" cy="311.2" r="5.35"/>
<circle cx="1736.7" cy="314.7" r="5.35"/>
<circle cx="1741.8" cy="227.6" r="5.35"/>
<circle cx="1741.8" cy="234.3" r="5.35"/>
<circle cx="1741.8" cy="237.3" r="5.35"/>
<circle cx="1741.8" cy="243.2" r="5.35"/>
<circle cx="1741.8" cy="256.1" r="5.35"/>
<circle cx="1741.8" cy="258.4" r="5.35"/>
<circle cx="1741.8" cy="261.1" r="5.35"/>
<circle cx="1741.8" cy="268.5" r="5.35"/>
<circle cx="1741.8" cy="288.7" r="5.35"/>
<circle cx="1741.8" cy="310.2" r="5.35"/>
<circle cx="1747.0" cy="232.1" r="5.35"/>
<circle cx="1747.0" cy="273.0" r="5.35"/>
<circle cx="1747.0" cy="292.8" r="5.35"/>
<circle cx="1747.0" cy="300.4" r="5.35"/>
<circle cx="1747.0" cy="305.8" r="5.35"/>
<circle cx="1749.6" cy="233.8" r="5.35"/>
<circle cx="1749.6" cy="276.7" r="5.35"/>
<circle cx="1749.6" cy="283.6" r="5.35"/>
<circle cx="1749.6" cy="290.8" r="5.35"/>
<circle cx="1749.6" cy="295.3" r="5.35"/>
<circle cx="1749.6" cy="303.0" r="5.35"/>
<circle cx="1749.6" cy="310.7" r="5.35"/>
<circle cx="1752.2" cy="236.4" r="5.35"/>
<circle cx="1752.2" cy="240.1" r="5.35"/>
<circle cx="1752.2" cy="243.9" r="5.35"/>
<circle cx="1752.2" cy="248.3" r="5.35"/>
<circle cx="1752.2" cy="265.5" r="5.35"/>
<circle cx="1752.2" cy="269.9" r="5.35"/>
<circle cx="1752.2" cy="285.4" r="5.35"/>
<circle cx="1752.2" cy="308.0" r="5.35"/>
<circle cx="1757.4" cy="237.7" r="5.35"/>
<circle cx="1757.4" cy="244.0" r="5.35"/>
<circle cx="1757.4" cy="259.3" r="5.35"/>
<circle cx="1757.4" cy="263.1" r="5.35"/>
<circle cx="1757.4" cy="272.0" r="5.35"/>
<circle cx="1757.4" cy="289.8" r="5.35"/>
<circle cx="1762.6" cy="261.2" r="5.35"/>
<circle cx="1762.6" cy="263.0" r="5.35"/>
<circle cx="1762.6" cy="267.5" r="5.35"/>
<circle cx="1762.6" cy="275.4" r="5.35"/>
<circle cx="1762.6" cy="279.5" r="5.35"/>
<circle cx="1669.3" cy="225.9" r="5.35"/>
<circle cx="1674.5" cy="208.7" r="5.35"/>
<circle cx="1679.7" cy="205.9" r="5.35"/>
<circle cx="1679.7" cy="208.9" r="5.35"/>
<circle cx="1679.7" cy="221.2" r="5.35"/>
<circle cx="1679.7" cy="225.2" r="5.35"/>
<circle cx="1679.7" cy="231.5" r="5.35"/>
<circle cx="1684.9" cy="207.0" r="5.35"/>
<circle cx="1684.9" cy="209.8" r="5.35"/>
<circle cx="1684.9" cy="212.3" r="5.35"/>
<circle cx="1684.9" cy="218.2" r="5.35"/>
<circle cx="1690.0" cy="205.0" r="5.35"/>
<circle cx="1695.2" cy="203.4" r="5.35"/>
<circle cx="1695.2" cy="210.0" r="5.35"/>
<circle cx="1695.2" cy="217.2" r="5.35"/>
<circle cx="1695.2" cy="222.1" r="5.35"/>
<circle cx="1700.4" cy="202.5" r="5.35"/>
<circle cx="1700.4" cy="211.4" r="5.35"/>
<circle cx="1700.4" cy="221.2" r="5.35"/>
<circle cx="1700.4" cy="227.0" r="5.35"/>
<circle cx="1705.6" cy="203.4" r="5.35"/>
<circle cx="1710.8" cy="198.2" r="5.35"/>
<circle cx="1710.8" cy="204.7" r="5.35"/>
<circle cx="1715.9" cy="200.3" r="5.35"/>
<circle cx="1715.9" cy="224.3" r="5.35"/>
<circle cx="1721.1" cy="199.6" r="5.35"/>
<circle cx="1721.1" cy="221.4" r="5.35"/>
<circle cx="1726.3" cy="204.1" r="5.35"/>
<circle cx="1726.3" cy="207.7" r="5.35"/>
<circle cx="1726.3" cy="214.0" r="5.35"/>
<circle cx="1726.3" cy="219.5" r="5.35"/>
<circle cx="1726.3" cy="226.3" r="5.35"/>
<circle cx="1731.5" cy="203.1" r="5.35"/>
<circle cx="1731.5" cy="215.7" r="5.35"/>
<circle cx="1731.5" cy="225.0" r="5.35"/>
<circle cx="1736.7" cy="206.3" r="5.35"/>
<circle cx="1736.7" cy="219.1" r="5.35"/>
<circle cx="1741.8" cy="213.3" r="5.35"/>
<circle cx="1741.8" cy="228.9" r="5.35"/>
<circle cx="1747.0" cy="214.4" r="5.35"/>
<circle cx="1747.0" cy="222.0" r="5.35"/>
<circle cx="1747.0" cy="229.3" r="5.35"/>
<circle cx="1752.2" cy="214.3" r="5.35"/>
<circle cx="1752.2" cy="222.5" r="5.35"/>
<circle cx="1752.2" cy="228.9" r="5.35"/>
<circle cx="1757.4" cy="216.5" r="5.35"/>
<circle cx="1757.4" cy="229.4" r="5.35"/>
<circle cx="1757.4" cy="231.8" r="5.35"/>
<circle cx="1762.6" cy="229.1" r="5.35"/>
<circle cx="1767.7" cy="231.8" r="5.35"/>
<circle cx="1630.5" cy="287.0" r="5.35"/>
<circle cx="1633.1" cy="286.9" r="5.35"/>
<circle cx="1635.6" cy="280.5" r="5.35"/>
<circle cx="1635.6" cy="283.9" r="5.35"/>
<circle cx="1635.6" cy="289.6" r="5.35"/>
<circle cx="1638.2" cy="280.9" r="5.35"/>
<circle cx="1638.2" cy="299.8" r="5.35"/>
<circle cx="1638.2" cy="303.6" r="5.35"/>
<circle cx="1640.8" cy="274.3" r="5.35"/>
<circle cx="1640.8" cy="284.3" r="5.35"/>
<circle cx="1643.4" cy="266.7" r="5.35"/>
<circle cx="1646.0" cy="265.6" r="5.35"/>
<circle cx="1646.0" cy="270.6" r="5.35"/>
<circle cx="1646.0" cy="278.6" r="5.35"/>
<circle cx="1646.0" cy="287.3" r="5.35"/>
<circle cx="1648.6" cy="260.0" r="5.35"/>
<circle cx="1648.6" cy="275.5" r="5.35"/>
<circle cx="1648.6" cy="289.7" r="5.35"/>
<circle cx="1653.8" cy="255.8" r="5.35"/>
<circle cx="1653.8" cy="261.0" r="5.35"/>
<circle cx="1653.8" cy="291.4" r="5.35"/>
<circle cx="1659.0" cy="254.7" r="5.35"/>
<circle cx="1659.0" cy="288.7" r="5.35"/>
<circle cx="1659.0" cy="307.0" r="5.35"/>
<circle cx="1659.0" cy="312.4" r="5.35"/>
<circle cx="1661.5" cy="252.6" r="5.35"/>
<circle cx="1661.5" cy="257.5" r="5.35"/>
<circle cx="1661.5" cy="275.4" r="5.35"/>
<circle cx="1661.5" cy="280.9" r="5.35"/>
<circle cx="1661.5" cy="283.1" r="5.35"/>
<circle cx="1661.5" cy="291.1" r="5.35"/>
<circle cx="1661.5" cy="299.1" r="5.35"/>
<circle cx="1661.5" cy="308.7" r="5.35"/>
<circle cx="1664.1" cy="252.4" r="5.35"/>
<circle cx="1664.1" cy="313.8" r="5.35"/>
<circle cx="1669.3" cy="235.3" r="5.35"/>
<circle cx="1669.3" cy="239.9" r="5.35"/>
<circle cx="1669.3" cy="257.1" r="5.35"/>
<circle cx="1669.3" cy="271.2" r="5.35"/>
<circle cx="1669.3" cy="290.7" r="5.35"/>
<circle cx="1669.3" cy="293.7" r="5.35"/>
<circle cx="1669.3" cy="298.7" r="5.35"/>
<circle cx="1674.5" cy="226.3" r="5.35"/>
<circle cx="1674.5" cy="229.4" r="5.35"/>
<circle cx="1674.5" cy="239.0" r="5.35"/>
<circle cx="1674.5" cy="279.1" r="5.35"/>
<circle cx="1674.5" cy="297.3" r="5.35"/>
<circle cx="1679.7" cy="213.3" r="5.35"/>
<circle cx="1679.7" cy="240.6" r="5.35"/>
<circle cx="1679.7" cy="251.5" r="5.35"/>
<circle cx="1679.7" cy="277.9" r="5.35"/>
<circle cx="1679.7" cy="292.6" r="5.35"/>
<circle cx="1679.7" cy="296.1" r="5.35"/>
<circle cx="1679.7" cy="299.3" r="5.35"/>
<circle cx="1682.3" cy="208.8" r="5.35"/>
<circle cx="1682.3" cy="213.8" r="5.35"/>
<circle cx="1682.3" cy="221.8" r="5.35"/>
<circle cx="1682.3" cy="243.3" r="5.35"/>
<circle cx="1682.3" cy="275.6" r="5.35"/>
<circle cx="1682.3" cy="287.4" r="5.35"/>
<circle cx="1682.3" cy="300.0" r="5.35"/>
<circle cx="1684.9" cy="209.5" r="5.35"/>
<circle cx="1684.9" cy="226.2" r="5.35"/>
<circle cx="1684.9" cy="243.9" r="5.35"/>
<circle cx="1684.9" cy="246.0" r="5.35"/>
<circle cx="1684.9" cy="249.4" r="5.35"/>
<circle cx="1684.9" cy="253.3" r="5.35"/>
<circle cx="1684.9" cy="275.5" r="5.35"/>
<circle cx="1684.9" cy="295.9" r="5.35"/>
<circle cx="1690.0" cy="206.0" r="5.35"/>
<circle cx="1690.0" cy="230.7" r="5.35"/>
<circle cx="1690.0" cy="299.5" r="5.35"/>
<circle cx="1690.0" cy="307.8" r="5.35"/>
<circle cx="1690.0" cy="309.5" r="5.35"/>
<circle cx="1690.0" cy="318.5" r="5.35"/>
<circle cx="1695.2" cy="202.8" r="5.35"/>
<circle cx="1695.2" cy="206.4" r="5.35"/>
<circle cx="1695.2" cy="240.0" r="5.35"/>
<circle cx="1695.2" cy="242.3" r="5.35"/>
<circle cx="1695.2" cy="259.0" r="5.35"/>
<circle cx="1695.2" cy="264.2" r="5.35"/>
<circle cx="1695.2" cy="269.2" r="5.35"/>
<circle cx="1695.2" cy="298.2" r="5.35"/>
<circle cx="1695.2" cy="305.4" r="5.35"/>
<circle cx="1695.2" cy="310.1" r="5.35"/>
<circle cx="1695.2" cy="321.3" r="5.35"/>
<circle cx="1697.8" cy="205.9" r="5.35"/>
<circle cx="1697.8" cy="238.8" r="5.35"/>
<circle cx="1697.8" cy="248.5" r="5.35"/>
<circle cx="1697.8" cy="261.9" r="5.35"/>
<circle cx="1697.8" cy="283.6" r="5.35"/>
<circle cx="1697.8" cy="295.0" r="5.35"/>
<circle cx="1697.8" cy="316.7" r="5.35"/>
<circle cx="1700.4" cy="201.9" r="5.35"/>
<circle cx="1700.4" cy="227.9" r="5.35"/>
<circle cx="1700.4" cy="251.2" r="5.35"/>
<circle cx="1700.4" cy="298.5" r="5.35"/>
<circle cx="1700.4" cy="318.8" r="5.35"/>
<circle cx="1703.0" cy="201.9" r="5.35"/>
<circle cx="1703.0" cy="234.1" r="5.35"/>
<circle cx="1703.0" cy="237.6" r="5.35"/>
<circle cx="1703.0" cy="248.0" r="5.35"/>
<circle cx="1703.0" cy="251.9" r="5.35"/>
<circle cx="1703.0" cy="261.1" r="5.35"/>
<circle cx="1703.0" cy="268.5" r="5.35"/>
<circle cx="1703.0" cy="278.8" r="5.35"/>
<circle cx="1703.0" cy="300.2" r="5.35"/>
<circle cx="1703.0" cy="314.2" r="5.35"/>
<circle cx="1703.0" cy="320.1" r="5.35"/>
<circle cx="1705.6" cy="206.9" r="5.35"/>
<circle cx="1705.6" cy="208.9" r="5.35"/>
<circle cx="1705.6" cy="225.7" r="5.35"/>
<circle cx="1705.6" cy="263.3" r="5.35"/>
<circle cx="1705.6" cy="269.6" r="5.35"/>
<circle cx="1705.6" cy="274.7" r="5.35"/>
<circle cx="1705.6" cy="303.1" r="5.35"/>
<circle cx="1705.6" cy="311.8" r="5.35"/>
<circle cx="1705.6" cy="321.5" r="5.35"/>
<circle cx="1710.8" cy="201.2" r="5.35"/>
<circle cx="1710.8" cy="206.5" r="5.35"/>
<circle cx="1710.8" cy="214.8" r="5.35"/>
<circle cx="1710.8" cy="235.4" r="5.35"/>
<circle cx="1710.8" cy="244.3" r="5.35"/>
<circle cx="1710.8" cy="269.4" r="5.35"/>
<circle cx="1710.8" cy="272.0" r="5.35"/>
<circle cx="1710.8" cy="278.1" r="5.35"/>
<circle cx="1710.8" cy="295.2" r="5.35"/>
<circle cx="1710.8" cy="307.2" r="5.35"/>
<circle cx="1710.8" cy="319.8" r="5.35"/>
<circle cx="1715.9" cy="200.9" r="5.35"/>
<circle cx="1715.9" cy="203.0" r="5.35"/>
<circle cx="1715.9" cy="215.0" r="5.35"/>
<circle cx="1715.9" cy="222.2" r="5.35"/>
<circle cx="1715.9" cy="233.9" r="5.35"/>
<circle cx="1715.9" cy="235.5" r="5.35"/>
<circle cx="1715.9" cy="237.0" r="5.35"/>
<circle cx="1715.9" cy="246.2" r="5.35"/>
<circle cx="1715.9" cy="270.3" r="5.35"/>
<circle cx="1715.9" cy="277.6" r="5.35"/>
<circle cx="1715.9" cy="318.0" r="5.35"/>
<circle cx="1721.1" cy="208.3" r="5.35"/>
<circle cx="1721.1" cy="214.0" r="5.35"/>
<circle cx="1721.1" cy="230.4" r="5.35"/>
<circle cx="1721.1" cy="261.9" r="5.35"/>
<circle cx="1721.1" cy="275.8" r="5.35"/>
<circle cx="1721.1" cy="283.5" r="5.35"/>
<circle cx="1721.1" cy="286.6" r="5.35"/>
<circle cx="1721.1" cy="301.8" r="5.35"/>
<circle cx="1721.1" cy="306.6" r="5.35"/>
<circle cx="1721.1" cy="315.6" r="5.35"/>
<circle cx="1726.3" cy="210.0" r="5.35"/>
<circle cx="1726.3" cy="223.3" r="5.35"/>
<circle cx="1726.3" cy="256.0" r="5.35"/>
<circle cx="1726.3" cy="263.4" r="5.35"/>
<circle cx="1726.3" cy="272.8" r="5.35"/>
<circle cx="1726.3" cy="292.4" r="5.35"/>
<circle cx="1726.3" cy="306.8" r="5.35"/>
<circle cx="1726.3" cy="312.3" r="5.35"/>
<circle cx="1731.5" cy="209.2" r="5.35"/>
<circle cx="1731.5" cy="230.3" r="5.35"/>
<circle cx="1731.5" cy="232.5" r="5.35"/>
<circle cx="1731.5" cy="283.5" r="5.35"/>
<circle cx="1731.5" cy="303.5" r="5.35"/>
<circle cx="1731.5" cy="311.2" r="5.35"/>
<circle cx="1736.7" cy="210.0" r="5.35"/>
<circle cx="1736.7" cy="216.1" r="5.35"/>
<circle cx="1736.7" cy="228.4" r="5.35"/>
<circle cx="1741.8" cy="211.4" r="5.35"/>
<circle cx="1741.8" cy="218.9" r="5.35"/>
<circle cx="1741.8" cy="221.2" r="5.35"/>
<circle cx="1741.8" cy="231.1" r="5.35"/>
<circle cx="1741.8" cy="244.9" r="5.35"/>
<circle cx="1741.8" cy="255.7" r="5.35"/>
<circle cx="1741.8" cy="259.7" r="5.35"/>
<circle cx="1741.8" cy="261.6" r="5.35"/>
<circle cx="1741.8" cy="289.0" r="5.35"/>
<circle cx="1741.8" cy="299.8" r="5.35"/>
<circle cx="1741.8" cy="311.8" r="5.35"/>
<circle cx="1744.4" cy="217.3" r="5.35"/>
<circle cx="1744.4" cy="255.8" r="5.35"/>
<circle cx="1744.4" cy="285.4" r="5.35"/>
<circle cx="1744.4" cy="307.6" r="5.35"/>
<circle cx="1747.0" cy="214.1" r="5.35"/>
<circle cx="1747.0" cy="247.0" r="5.35"/>
<circle cx="1747.0" cy="249.4" r="5.35"/>
<circle cx="1747.0" cy="264.4" r="5.35"/>
<circle cx="1747.0" cy="304.4" r="5.35"/>
<circle cx="1747.0" cy="312.1" r="5.35"/>
<circle cx="1749.6" cy="218.6" r="5.35"/>
<circle cx="1749.6" cy="266.3" r="5.35"/>
<circle cx="1749.6" cy="286.3" r="5.35"/>
<circle cx="1752.2" cy="222.9" r="5.35"/>
<circle cx="1752.2" cy="234.0" r="5.35"/>
<circle cx="1752.2" cy="243.7" r="5.35"/>
<circle cx="1752.2" cy="272.3" r="5.35"/>
<circle cx="1752.2" cy="295.1" r="5.35"/>
<circle cx="1754.8" cy="224.8" r="5.35"/>
<circle cx="1754.8" cy="264.8" r="5.35"/>
<circle cx="1754.8" cy="275.2" r="5.35"/>
<circle cx="1754.8" cy="289.7" r="5.35"/>
<circle cx="1757.4" cy="222.5" r="5.35"/>
<circle cx="1757.4" cy="238.1" r="5.35"/>
<circle cx="1757.4" cy="272.4" r="5.35"/>
<circle cx="1757.4" cy="306.6" r="5.35"/>
<circle cx="1762.6" cy="228.4" r="5.35"/>
<circle cx="1762.6" cy="236.6" r="5.35"/>
<circle cx="1762.6" cy="289.4" r="5.35"/>
<circle cx="1762.6" cy="299.6" r="5.35"/>
<circle cx="1767.7" cy="238.4" r="5.35"/>
<circle cx="1767.7" cy="257.6" r="5.35"/>
<circle cx="1767.7" cy="265.8" r="5.35"/>
<circle cx="1767.7" cy="270.6" r="5.35"/>
<circle cx="1767.7" cy="276.2" r="5.35"/>
<circle cx="1767.7" cy="282.5" r="5.35"/>
<circle cx="1772.9" cy="269.2" r="5.35"/>
<circle cx="1741.4" cy="52.1" r="5.35"/>
<circle cx="1720.3" cy="69.4" r="5.35"/>
<circle cx="1731.0" cy="101.3" r="5.35"/>
<circle cx="1751.8" cy="107.3" r="5.35"/>
<circle cx="1787.8" cy="118.4" r="5.35"/>
<circle cx="1725.6" cy="132.6" r="5.35"/>
<circle cx="1725.6" cy="140.4" r="5.35"/>
<circle cx="1720.3" cy="144.2" r="5.35"/>
<circle cx="1710.8" cy="145.2" r="5.35"/>
<circle cx="1736.0" cy="155.6" r="5.35"/>
<circle cx="1777.7" cy="155.6" r="5.35"/>
<circle cx="1716.2" cy="159.4" r="5.35"/>
<circle cx="1716.2" cy="163.2" r="5.35"/>
<circle cx="1720.3" cy="166.3" r="5.35"/>
<circle cx="1746.8" cy="164.1" r="5.35"/>
<circle cx="1752.4" cy="168.8" r="5.35"/>
<circle cx="1752.4" cy="175.8" r="5.35"/>
<circle cx="1752.4" cy="190.9" r="5.35"/>
<circle cx="1725.6" cy="171.4" r="5.35"/>
<circle cx="1716.2" cy="175.2" r="5.35"/>
<circle cx="1725.6" cy="184.6" r="5.35"/>
<circle cx="1725.6" cy="187.8" r="5.35"/>
<circle cx="1673.6" cy="169.5" r="5.35"/>
<circle cx="1673.6" cy="177.7" r="5.35"/>
<circle cx="1689.3" cy="168.8" r="5.35"/>
<circle cx="1694.1" cy="173.6" r="5.35"/>
<circle cx="1700.4" cy="175.8" r="5.35"/>
<circle cx="1700.4" cy="181.5" r="5.35"/>
<circle cx="1689.3" cy="184.6" r="5.35"/>
<circle cx="1700.4" cy="188.4" r="5.35"/>
<circle cx="1777.7" cy="194.1" r="5.35"/>
<circle cx="1736.0" cy="194.1" r="5.35"/>
<circle cx="1743.0" cy="200.4" r="5.35"/>
<circle cx="1710.8" cy="194.1" r="5.35"/>
<circle cx="1678.3" cy="203.6" r="5.35"/>
<circle cx="1684.6" cy="202.9" r="5.35"/>
<circle cx="1673.6" cy="219.3" r="5.35"/>
<circle cx="1673.6" cy="223.1" r="5.35"/>
<circle cx="1777.7" cy="219.3" r="5.35"/>
<circle cx="1767.6" cy="219.3" r="5.35"/>
<circle cx="1761.9" cy="212.4" r="5.35"/>
<circle cx="1787.8" cy="229.4" r="5.35"/>
<circle cx="1798.2" cy="235.7" r="5.35"/>
<circle cx="1829.8" cy="222.5" r="5.35"/>
<circle cx="1846.5" cy="231.3" r="5.35"/>
<circle cx="1902.3" cy="216.2" r="5.35"/>
<circle cx="1840.2" cy="247.7" r="5.35"/>
<circle cx="1793.5" cy="244.6" r="5.35"/>
<circle cx="1799.8" cy="247.7" r="5.35"/>
<circle cx="1777.7" cy="250.9" r="5.35"/>
<circle cx="1777.7" cy="239.8" r="5.35"/>
<circle cx="1787.8" cy="263.5" r="5.35"/>
<circle cx="1814.0" cy="264.1" r="5.35"/>
<circle cx="1802.9" cy="279.3" r="5.35"/>
<circle cx="1777.7" cy="285.6" r="5.35"/>
<circle cx="1777.7" cy="298.2" r="5.35"/>
<circle cx="1777.7" cy="310.8" r="5.35"/>
<circle cx="1829.8" cy="304.5" r="5.35"/>
<circle cx="1767.6" cy="306.1" r="5.35"/>
<circle cx="1771.4" cy="307.1" r="5.35"/>
<circle cx="1647.7" cy="243.9" r="5.35"/>
<circle cx="1647.7" cy="257.2" r="5.35"/>
<circle cx="1647.7" cy="266.0" r="5.35"/>
<circle cx="1663.5" cy="236.7" r="5.35"/>
<circle cx="1622.4" cy="273.6" r="5.35"/>
<circle cx="1601.0" cy="289.4" r="5.35"/>
<circle cx="1575.7" cy="291.3" r="5.35"/>
<circle cx="1591.5" cy="300.7" r="5.35"/>
<circle cx="1591.5" cy="310.2" r="5.35"/>
<circle cx="1570.1" cy="310.2" r="5.35"/>
<circle cx="1544.2" cy="316.5" r="5.35"/>
<circle cx="1554.3" cy="321.9" r="5.35"/>
<circle cx="1554.3" cy="329.1" r="5.35"/>
<circle cx="1570.1" cy="326.6" r="5.35"/>
<circle cx="1570.1" cy="334.5" r="5.35"/>
<circle cx="1539.4" cy="332.9" r="5.35"/>
<circle cx="1544.2" cy="335.5" r="5.35"/>
<circle cx="1518.3" cy="345.6" r="5.35"/>
<circle cx="1585.2" cy="321.9" r="5.35"/>
<circle cx="1587.7" cy="326.6" r="5.35"/>
<circle cx="1593.1" cy="328.2" r="5.35"/>
<circle cx="1594.7" cy="330.4" r="5.35"/>
<circle cx="1607.3" cy="320.3" r="5.35"/>
<circle cx="1612.0" cy="317.2" r="5.35"/>
<circle cx="1619.3" cy="322.8" r="5.35"/>
<circle cx="1622.4" cy="326.6" r="5.35"/>
<circle cx="1616.8" cy="307.7" r="5.35"/>
<circle cx="1623.1" cy="309.3" r="5.35"/>
<circle cx="1632.5" cy="314.0" r="5.35"/>
<circle cx="1632.5" cy="321.9" r="5.35"/>
<circle cx="1632.5" cy="329.8" r="5.35"/>
<circle cx="1663.5" cy="351.9" r="5.35"/>
<circle cx="1689.3" cy="328.2" r="5.35"/>
<circle cx="1699.4" cy="325.0" r="5.35"/>
<circle cx="1725.6" cy="320.3" r="5.35"/>
<circle cx="1767.6" cy="213.0" r="5.35"/>
<circle cx="1830.1" cy="222.8" r="5.35"/>
<circle cx="1845.7" cy="231.3" r="5.35"/>
<circle cx="1840.6" cy="247.3" r="5.35"/>
<circle cx="1814.0" cy="264.3" r="5.35"/>
<circle cx="1803.7" cy="279.2" r="5.35"/>
<circle cx="1829.9" cy="304.8" r="5.35"/>
<circle cx="1800.5" cy="248.4" r="5.35"/>
<circle cx="1800.5" cy="236.0" r="5.35"/>
<circle cx="430.9" cy="592.5" r="5.35"/>
<circle cx="441.6" cy="592.5" r="5.35"/>
<circle cx="481.0" cy="592.5" r="5.35"/>
<circle cx="317.0" cy="592.5" r="5.35"/>
<circle cx="321.9" cy="592.5" r="5.35"/>
<circle cx="324.4" cy="592.5" r="5.35"/>
<circle cx="326.8" cy="592.5" r="5.35"/>
<circle cx="329.3" cy="592.5" r="5.35"/>
<circle cx="331.8" cy="592.5" r="5.35"/>
<circle cx="336.7" cy="592.5" r="5.35"/>
<circle cx="341.6" cy="592.5" r="5.35"/>
<circle cx="346.5" cy="592.5" r="5.35"/>
<circle cx="351.4" cy="592.5" r="5.35"/>
<circle cx="356.4" cy="592.5" r="5.35"/>
<circle cx="361.3" cy="592.5" r="5.35"/>
<circle cx="366.2" cy="592.5" r="5.35"/>
<circle cx="371.1" cy="592.5" r="5.35"/>
<circle cx="376.0" cy="592.5" r="5.35"/>
<circle cx="380.9" cy="592.5" r="5.35"/>
<circle cx="385.9" cy="592.5" r="5.35"/>
<circle cx="388.3" cy="592.5" r="5.35"/>
<circle cx="390.8" cy="592.5" r="5.35"/>
<circle cx="393.2" cy="592.5" r="5.35"/>
<circle cx="395.7" cy="592.5" r="5.35"/>
<circle cx="400.6" cy="592.5" r="5.35"/>
<circle cx="403.1" cy="592.5" r="5.35"/>
<circle cx="405.5" cy="592.5" r="5.35"/>
<circle cx="410.5" cy="592.5" r="5.35"/>
<circle cx="415.4" cy="592.5" r="5.35"/>
<circle cx="417.8" cy="592.5" r="5.35"/>
<circle cx="420.3" cy="592.5" r="5.35"/>
<circle cx="406.6" cy="630.9" r="5.35"/>
<circle cx="430.9" cy="630.9" r="5.35"/>
<circle cx="451.1" cy="630.9" r="5.35"/>
<circle cx="317.0" cy="630.9" r="5.35"/>
<circle cx="321.9" cy="630.9" r="5.35"/>
<circle cx="324.4" cy="630.9" r="5.35"/>
<circle cx="326.8" cy="630.9" r="5.35"/>
<circle cx="331.8" cy="630.9" r="5.35"/>
<circle cx="336.7" cy="630.9" r="5.35"/>
<circle cx="339.1" cy="630.9" r="5.35"/>
<circle cx="341.6" cy="630.9" r="5.35"/>
<circle cx="346.5" cy="630.9" r="5.35"/>
<circle cx="351.4" cy="630.9" r="5.35"/>
<circle cx="353.9" cy="630.9" r="5.35"/>
<circle cx="356.4" cy="630.9" r="5.35"/>
<circle cx="361.3" cy="630.9" r="5.35"/>
<circle cx="363.7" cy="630.9" r="5.35"/>
<circle cx="366.2" cy="630.9" r="5.35"/>
<circle cx="371.1" cy="630.9" r="5.35"/>
<circle cx="376.0" cy="630.9" r="5.35"/>
<circle cx="381.0" cy="630.9" r="5.35"/>
<circle cx="383.4" cy="630.9" r="5.35"/>
<circle cx="385.9" cy="630.9" r="5.35"/>
<circle cx="388.3" cy="630.9" r="5.35"/>
<circle cx="390.8" cy="630.9" r="5.35"/>
<circle cx="421.2" cy="669.2" r="5.35"/>
<circle cx="451.1" cy="669.2" r="5.35"/>
<circle cx="321.4" cy="669.2" r="5.35"/>
<circle cx="325.6" cy="669.2" r="5.35"/>
<circle cx="329.8" cy="669.2" r="5.35"/>
<circle cx="344.1" cy="669.2" r="5.35"/>
<circle cx="346.6" cy="669.2" r="5.35"/>
<circle cx="349.2" cy="669.2" r="5.35"/>
<circle cx="354.2" cy="669.2" r="5.35"/>
<circle cx="359.3" cy="669.2" r="5.35"/>
<circle cx="361.8" cy="669.2" r="5.35"/>
<circle cx="364.3" cy="669.2" r="5.35"/>
<circle cx="366.9" cy="669.2" r="5.35"/>
<circle cx="369.4" cy="669.2" r="5.35"/>
<circle cx="383.7" cy="669.2" r="5.35"/>
<circle cx="389.1" cy="669.2" r="5.35"/>
<circle cx="394.6" cy="669.2" r="5.35"/>
<circle cx="400.1" cy="669.2" r="5.35"/>
<circle cx="405.5" cy="669.2" r="5.35"/>
<circle cx="430.6" cy="707.6" r="5.35"/>
<circle cx="446.9" cy="707.6" r="5.35"/>
<circle cx="466.2" cy="707.6" r="5.35"/>
<circle cx="496.9" cy="707.6" r="5.35"/>
<circle cx="551.3" cy="707.6" r="5.35"/>
<circle cx="306.6" cy="707.6" r="5.35"/>
<circle cx="309.6" cy="707.6" r="5.35"/>
<circle cx="322.9" cy="707.6" r="5.35"/>
<circle cx="325.9" cy="707.6" r="5.35"/>
<circle cx="328.9" cy="707.6" r="5.35"/>
<circle cx="331.8" cy="707.6" r="5.35"/>
<circle cx="334.8" cy="707.6" r="5.35"/>
<circle cx="348.4" cy="707.6" r="5.35"/>
<circle cx="353.7" cy="707.6" r="5.35"/>
<circle cx="359.0" cy="707.6" r="5.35"/>
<circle cx="364.3" cy="707.6" r="5.35"/>
<circle cx="369.6" cy="707.6" r="5.35"/>
<circle cx="374.9" cy="707.6" r="5.35"/>
<circle cx="380.2" cy="707.6" r="5.35"/>
<circle cx="393.1" cy="707.6" r="5.35"/>
<circle cx="395.4" cy="707.6" r="5.35"/>
<circle cx="408.2" cy="707.6" r="5.35"/>
<circle cx="411.5" cy="707.6" r="5.35"/>
<circle cx="414.8" cy="707.6" r="5.35"/>
<circle cx="431.0" cy="745.9" r="5.35"/>
<circle cx="491.6" cy="745.9" r="5.35"/>
<circle cx="300.8" cy="745.9" r="5.35"/>
<circle cx="303.2" cy="745.9" r="5.35"/>
<circle cx="305.7" cy="745.9" r="5.35"/>
<circle cx="308.1" cy="745.9" r="5.35"/>
<circle cx="310.6" cy="745.9" r="5.35"/>
<circle cx="313.0" cy="745.9" r="5.35"/>
<circle cx="315.5" cy="745.9" r="5.35"/>
<circle cx="320.4" cy="745.9" r="5.35"/>
<circle cx="325.3" cy="745.9" r="5.35"/>
<circle cx="330.2" cy="745.9" r="5.35"/>
<circle cx="332.6" cy="745.9" r="5.35"/>
<circle cx="335.0" cy="745.9" r="5.35"/>
<circle cx="339.9" cy="745.9" r="5.35"/>
<circle cx="342.4" cy="745.9" r="5.35"/>
<circle cx="344.8" cy="745.9" r="5.35"/>
<circle cx="349.7" cy="745.9" r="5.35"/>
<circle cx="354.6" cy="745.9" r="5.35"/>
<circle cx="359.5" cy="745.9" r="5.35"/>
<circle cx="364.4" cy="745.9" r="5.35"/>
<circle cx="377.9" cy="745.9" r="5.35"/>
<circle cx="383.3" cy="745.9" r="5.35"/>
<circle cx="388.6" cy="745.9" r="5.35"/>
<circle cx="394.0" cy="745.9" r="5.35"/>
<circle cx="396.7" cy="745.9" r="5.35"/>
<circle cx="399.3" cy="745.9" r="5.35"/>
<circle cx="404.7" cy="745.9" r="5.35"/>
<circle cx="417.6" cy="745.9" r="5.35"/>
<circle cx="419.9" cy="745.9" r="5.35"/>
<circle cx="431.0" cy="784.2" r="5.35"/>
<circle cx="305.9" cy="784.2" r="5.35"/>
<circle cx="310.8" cy="784.2" r="5.35"/>
<circle cx="315.8" cy="784.2" r="5.35"/>
<circle cx="320.7" cy="784.2" r="5.35"/>
<circle cx="325.7" cy="784.2" r="5.35"/>
<circle cx="328.1" cy="784.2" r="5.35"/>
<circle cx="330.6" cy="784.2" r="5.35"/>
<circle cx="333.1" cy="784.2" r="5.35"/>
<circle cx="335.5" cy="784.2" r="5.35"/>
<circle cx="340.5" cy="784.2" r="5.35"/>
<circle cx="342.9" cy="784.2" r="5.35"/>
<circle cx="345.4" cy="784.2" r="5.35"/>
<circle cx="350.4" cy="784.2" r="5.35"/>
<circle cx="352.8" cy="784.2" r="5.35"/>
<circle cx="355.3" cy="784.2" r="5.35"/>
<circle cx="360.2" cy="784.2" r="5.35"/>
<circle cx="365.2" cy="784.2" r="5.35"/>
<circle cx="370.1" cy="784.2" r="5.35"/>
<circle cx="375.1" cy="784.2" r="5.35"/>
<circle cx="380.0" cy="784.2" r="5.35"/>
<circle cx="382.5" cy="784.2" r="5.35"/>
<circle cx="384.9" cy="784.2" r="5.35"/>
<circle cx="387.4" cy="784.2" r="5.35"/>
<circle cx="389.9" cy="784.2" r="5.35"/>
<circle cx="392.4" cy="784.2" r="5.35"/>
<circle cx="394.8" cy="784.2" r="5.35"/>
<circle cx="397.3" cy="784.2" r="5.35"/>
<circle cx="399.8" cy="784.2" r="5.35"/>
<circle cx="404.7" cy="784.2" r="5.35"/>
<circle cx="417.6" cy="784.2" r="5.35"/>
<circle cx="418.8" cy="784.2" r="5.35"/>
<circle cx="419.9" cy="784.2" r="5.35"/>
<circle cx="206.2" cy="822.6" r="5.35"/>
<circle cx="231.7" cy="822.6" r="5.35"/>
<circle cx="261.4" cy="822.6" r="5.35"/>
<circle cx="276.5" cy="822.6" r="5.35"/>
<circle cx="421.4" cy="822.6" r="5.35"/>
<circle cx="431.0" cy="822.6" r="5.35"/>
<circle cx="456.4" cy="822.6" r="5.35"/>
<circle cx="481.1" cy="822.6" r="5.35"/>
<circle cx="306.3" cy="822.6" r="5.35"/>
<circle cx="308.8" cy="822.6" r="5.35"/>
<circle cx="311.2" cy="822.6" r="5.35"/>
<circle cx="316.1" cy="822.6" r="5.35"/>
<circle cx="318.6" cy="822.6" r="5.35"/>
<circle cx="321.1" cy="822.6" r="5.35"/>
<circle cx="323.5" cy="822.6" r="5.35"/>
<circle cx="326.0" cy="822.6" r="5.35"/>
<circle cx="328.5" cy="822.6" r="5.35"/>
<circle cx="330.9" cy="822.6" r="5.35"/>
<circle cx="335.8" cy="822.6" r="5.35"/>
<circle cx="338.3" cy="822.6" r="5.35"/>
<circle cx="340.8" cy="822.6" r="5.35"/>
<circle cx="345.7" cy="822.6" r="5.35"/>
<circle cx="350.6" cy="822.6" r="5.35"/>
<circle cx="355.5" cy="822.6" r="5.35"/>
<circle cx="360.5" cy="822.6" r="5.35"/>
<circle cx="365.4" cy="822.6" r="5.35"/>
<circle cx="370.3" cy="822.6" r="5.35"/>
<circle cx="375.2" cy="822.6" r="5.35"/>
<circle cx="380.2" cy="822.6" r="5.35"/>
<circle cx="382.6" cy="822.6" r="5.35"/>
<circle cx="385.1" cy="822.6" r="5.35"/>
<circle cx="390.0" cy="822.6" r="5.35"/>
<circle cx="394.9" cy="822.6" r="5.35"/>
<circle cx="399.9" cy="822.6" r="5.35"/>
<circle cx="404.8" cy="822.6" r="5.35"/>
<circle cx="409.7" cy="822.6" r="5.35"/>
<circle cx="216.9" cy="860.9" r="5.35"/>
<circle cx="426.5" cy="860.9" r="5.35"/>
<circle cx="446.9" cy="860.9" r="5.35"/>
<circle cx="281.9" cy="860.9" r="5.35"/>
<circle cx="284.4" cy="860.9" r="5.35"/>
<circle cx="286.9" cy="860.9" r="5.35"/>
<circle cx="291.9" cy="860.9" r="5.35"/>
<circle cx="296.8" cy="860.9" r="5.35"/>
<circle cx="299.3" cy="860.9" r="5.35"/>
<circle cx="301.8" cy="860.9" r="5.35"/>
<circle cx="306.8" cy="860.9" r="5.35"/>
<circle cx="311.8" cy="860.9" r="5.35"/>
<circle cx="316.7" cy="860.9" r="5.35"/>
<circle cx="321.7" cy="860.9" r="5.35"/>
<circle cx="326.7" cy="860.9" r="5.35"/>
<circle cx="331.7" cy="860.9" r="5.35"/>
<circle cx="334.2" cy="860.9" r="5.35"/>
<circle cx="336.6" cy="860.9" r="5.35"/>
<circle cx="339.1" cy="860.9" r="5.35"/>
<circle cx="341.6" cy="860.9" r="5.35"/>
<circle cx="346.6" cy="860.9" r="5.35"/>
<circle cx="351.6" cy="860.9" r="5.35"/>
<circle cx="356.6" cy="860.9" r="5.35"/>
<circle cx="361.5" cy="860.9" r="5.35"/>
<circle cx="364.0" cy="860.9" r="5.35"/>
<circle cx="366.5" cy="860.9" r="5.35"/>
<circle cx="371.5" cy="860.9" r="5.35"/>
<circle cx="374.0" cy="860.9" r="5.35"/>
<circle cx="376.5" cy="860.9" r="5.35"/>
<circle cx="381.4" cy="860.9" r="5.35"/>
<circle cx="386.4" cy="860.9" r="5.35"/>
<circle cx="388.9" cy="860.9" r="5.35"/>
<circle cx="391.4" cy="860.9" r="5.35"/>
<circle cx="396.4" cy="860.9" r="5.35"/>
<circle cx="401.3" cy="860.9" r="5.35"/>
<circle cx="403.8" cy="860.9" r="5.35"/>
<circle cx="406.3" cy="860.9" r="5.35"/>
<circle cx="408.8" cy="860.9" r="5.35"/>
<circle cx="411.3" cy="860.9" r="5.35"/>
<circle cx="216.4" cy="899.3" r="5.35"/>
<circle cx="231.0" cy="899.3" r="5.35"/>
<circle cx="235.8" cy="899.3" r="5.35"/>
<circle cx="250.5" cy="899.3" r="5.35"/>
<circle cx="256.7" cy="899.3" r="5.35"/>
<circle cx="267.2" cy="899.3" r="5.35"/>
<circle cx="271.3" cy="899.3" r="5.35"/>
<circle cx="406.6" cy="899.3" r="5.35"/>
<circle cx="291.7" cy="899.3" r="5.35"/>
<circle cx="294.9" cy="899.3" r="5.35"/>
<circle cx="308.3" cy="899.3" r="5.35"/>
<circle cx="310.9" cy="899.3" r="5.35"/>
<circle cx="313.4" cy="899.3" r="5.35"/>
<circle cx="318.5" cy="899.3" r="5.35"/>
<circle cx="323.6" cy="899.3" r="5.35"/>
<circle cx="328.7" cy="899.3" r="5.35"/>
<circle cx="331.2" cy="899.3" r="5.35"/>
<circle cx="333.8" cy="899.3" r="5.35"/>
<circle cx="338.9" cy="899.3" r="5.35"/>
<circle cx="344.0" cy="899.3" r="5.35"/>
<circle cx="349.1" cy="899.3" r="5.35"/>
<circle cx="351.7" cy="899.3" r="5.35"/>
<circle cx="354.2" cy="899.3" r="5.35"/>
<circle cx="359.3" cy="899.3" r="5.35"/>
<circle cx="361.9" cy="899.3" r="5.35"/>
<circle cx="364.4" cy="899.3" r="5.35"/>
<circle cx="369.5" cy="899.3" r="5.35"/>
<circle cx="372.1" cy="899.3" r="5.35"/>
<circle cx="374.6" cy="899.3" r="5.35"/>
<circle cx="379.7" cy="899.3" r="5.35"/>
<circle cx="393.2" cy="899.3" r="5.35"/>
<circle cx="394.4" cy="899.3" r="5.35"/>
<circle cx="395.7" cy="899.3" r="5.35"/>
<circle cx="181.6" cy="937.6" r="5.35"/>
<circle cx="202.5" cy="937.6" r="5.35"/>
<circle cx="206.0" cy="937.6" r="5.35"/>
<circle cx="217.1" cy="937.6" r="5.35"/>
<circle cx="231.7" cy="937.6" r="5.35"/>
<circle cx="246.6" cy="937.6" r="5.35"/>
<circle cx="256.3" cy="937.6" r="5.35"/>
<circle cx="277.7" cy="937.6" r="5.35"/>
<circle cx="282.8" cy="937.6" r="5.35"/>
<circle cx="285.3" cy="937.6" r="5.35"/>
<circle cx="287.8" cy="937.6" r="5.35"/>
<circle cx="292.9" cy="937.6" r="5.35"/>
<circle cx="297.9" cy="937.6" r="5.35"/>
<circle cx="300.5" cy="937.6" r="5.35"/>
<circle cx="303.0" cy="937.6" r="5.35"/>
<circle cx="308.1" cy="937.6" r="5.35"/>
<circle cx="313.1" cy="937.6" r="5.35"/>
<circle cx="315.7" cy="937.6" r="5.35"/>
<circle cx="318.2" cy="937.6" r="5.35"/>
<circle cx="323.3" cy="937.6" r="5.35"/>
<circle cx="325.8" cy="937.6" r="5.35"/>
<circle cx="328.3" cy="937.6" r="5.35"/>
<circle cx="330.9" cy="937.6" r="5.35"/>
<circle cx="333.4" cy="937.6" r="5.35"/>
<circle cx="338.4" cy="937.6" r="5.35"/>
<circle cx="343.5" cy="937.6" r="5.35"/>
<circle cx="348.6" cy="937.6" r="5.35"/>
<circle cx="351.1" cy="937.6" r="5.35"/>
<circle cx="353.6" cy="937.6" r="5.35"/>
<circle cx="358.7" cy="937.6" r="5.35"/>
<circle cx="363.8" cy="937.6" r="5.35"/>
<circle cx="368.8" cy="937.6" r="5.35"/>
<circle cx="373.9" cy="937.6" r="5.35"/>
<circle cx="378.9" cy="937.6" r="5.35"/>
<circle cx="384.0" cy="937.6" r="5.35"/>
<circle cx="386.5" cy="937.6" r="5.35"/>
<circle cx="389.1" cy="937.6" r="5.35"/>
<circle cx="391.6" cy="937.6" r="5.35"/>
<circle cx="394.1" cy="937.6" r="5.35"/>
<circle cx="399.2" cy="937.6" r="5.35"/>
<circle cx="411.5" cy="937.6" r="5.35"/>
<circle cx="416.0" cy="937.6" r="5.35"/>
<circle cx="866.4" cy="594.4" r="5.35"/>
<circle cx="891.8" cy="594.4" r="5.35"/>
<circle cx="988.8" cy="594.4" r="5.35"/>
<circle cx="1023.7" cy="594.4" r="5.35"/>
<circle cx="877.1" cy="632.7" r="5.35"/>
<circle cx="1084.6" cy="632.7" r="5.35"/>
<circle cx="891.8" cy="671.1" r="5.35"/>
<circle cx="1044.6" cy="671.1" r="5.35"/>
<circle cx="861.2" cy="709.5" r="5.35"/>
<circle cx="892.1" cy="709.5" r="5.35"/>
<circle cx="897.6" cy="709.5" r="5.35"/>
<circle cx="943.1" cy="709.5" r="5.35"/>
<circle cx="983.3" cy="709.5" r="5.35"/>
<circle cx="992.6" cy="709.5" r="5.35"/>
<circle cx="998.1" cy="709.5" r="5.35"/>
<circle cx="1003.6" cy="709.5" r="5.35"/>
<circle cx="1017.5" cy="709.5" r="5.35"/>
<circle cx="1023.7" cy="709.5" r="5.35"/>
<circle cx="1039.0" cy="709.5" r="5.35"/>
<circle cx="1161.3" cy="709.5" r="5.35"/>
<circle cx="866.5" cy="747.9" r="5.35"/>
<circle cx="942.6" cy="747.9" r="5.35"/>
<circle cx="952.7" cy="747.9" r="5.35"/>
<circle cx="993.0" cy="747.9" r="5.35"/>
<circle cx="1009.1" cy="747.9" r="5.35"/>
<circle cx="1014.6" cy="747.9" r="5.35"/>
<circle cx="1069.7" cy="747.9" r="5.35"/>
<circle cx="1106.0" cy="747.9" r="5.35"/>
<circle cx="840.9" cy="786.2" r="5.35"/>
<circle cx="906.8" cy="786.2" r="5.35"/>
<circle cx="917.7" cy="786.2" r="5.35"/>
<circle cx="1054.8" cy="786.2" r="5.35"/>
<circle cx="1069.7" cy="786.2" r="5.35"/>
<circle cx="1084.6" cy="786.2" r="5.35"/>
<circle cx="983.4" cy="786.2" r="5.35"/>
<circle cx="985.9" cy="786.2" r="5.35"/>
<circle cx="988.4" cy="786.2" r="5.35"/>
<circle cx="993.3" cy="786.2" r="5.35"/>
<circle cx="995.8" cy="786.2" r="5.35"/>
<circle cx="998.3" cy="786.2" r="5.35"/>
<circle cx="1018.8" cy="786.2" r="5.35"/>
<circle cx="1023.7" cy="786.2" r="5.35"/>
<circle cx="1026.1" cy="786.2" r="5.35"/>
<circle cx="1028.6" cy="786.2" r="5.35"/>
<circle cx="1033.4" cy="786.2" r="5.35"/>
<circle cx="1038.3" cy="786.2" r="5.35"/>
<circle cx="1043.2" cy="786.2" r="5.35"/>
<circle cx="907.0" cy="824.6" r="5.35"/>
<circle cx="912.0" cy="824.6" r="5.35"/>
<circle cx="917.7" cy="824.6" r="5.35"/>
<circle cx="922.5" cy="824.6" r="5.35"/>
<circle cx="937.8" cy="824.6" r="5.35"/>
<circle cx="1095.5" cy="824.6" r="5.35"/>
<circle cx="1115.2" cy="824.6" r="5.35"/>
<circle cx="983.4" cy="824.6" r="5.35"/>
<circle cx="988.0" cy="824.6" r="5.35"/>
<circle cx="992.5" cy="824.6" r="5.35"/>
<circle cx="1009.1" cy="824.6" r="5.35"/>
<circle cx="1014.2" cy="824.6" r="5.35"/>
<circle cx="1019.3" cy="824.6" r="5.35"/>
<circle cx="1024.4" cy="824.6" r="5.35"/>
<circle cx="1029.4" cy="824.6" r="5.35"/>
<circle cx="1034.5" cy="824.6" r="5.35"/>
<circle cx="1039.6" cy="824.6" r="5.35"/>
<circle cx="1044.7" cy="824.6" r="5.35"/>
<circle cx="1049.8" cy="824.6" r="5.35"/>
<circle cx="1052.3" cy="824.6" r="5.35"/>
<circle cx="1054.9" cy="824.6" r="5.35"/>
<circle cx="1057.4" cy="824.6" r="5.35"/>
<circle cx="1059.9" cy="824.6" r="5.35"/>
<circle cx="1065.0" cy="824.6" r="5.35"/>
<circle cx="1070.1" cy="824.6" r="5.35"/>
<circle cx="1072.7" cy="824.6" r="5.35"/>
<circle cx="1075.2" cy="824.6" r="5.35"/>
<circle cx="877.1" cy="863.0" r="5.35"/>
<circle cx="917.2" cy="863.0" r="5.35"/>
<circle cx="937.8" cy="863.0" r="5.35"/>
<circle cx="1095.4" cy="863.0" r="5.35"/>
<circle cx="1109.8" cy="863.0" r="5.35"/>
<circle cx="1120.8" cy="863.0" r="5.35"/>
<circle cx="1146.1" cy="863.0" r="5.35"/>
<circle cx="969.0" cy="863.0" r="5.35"/>
<circle cx="974.6" cy="863.0" r="5.35"/>
<circle cx="980.1" cy="863.0" r="5.35"/>
<circle cx="985.7" cy="863.0" r="5.35"/>
<circle cx="991.2" cy="863.0" r="5.35"/>
<circle cx="996.8" cy="863.0" r="5.35"/>
<circle cx="1009.9" cy="863.0" r="5.35"/>
<circle cx="1012.6" cy="863.0" r="5.35"/>
<circle cx="1015.3" cy="863.0" r="5.35"/>
<circle cx="1020.7" cy="863.0" r="5.35"/>
<circle cx="1026.2" cy="863.0" r="5.35"/>
<circle cx="1031.6" cy="863.0" r="5.35"/>
<circle cx="1037.0" cy="863.0" r="5.35"/>
<circle cx="1042.4" cy="863.0" r="5.35"/>
<circle cx="1055.5" cy="863.0" r="5.35"/>
<circle cx="1060.3" cy="863.0" r="5.35"/>
<circle cx="1065.1" cy="863.0" r="5.35"/>
<circle cx="1070.0" cy="863.0" r="5.35"/>
<circle cx="1074.8" cy="863.0" r="5.35"/>
<circle cx="1079.6" cy="863.0" r="5.35"/>
<circle cx="1095.4" cy="901.3" r="5.35"/>
<circle cx="943.1" cy="901.3" r="5.35"/>
<circle cx="945.6" cy="901.3" r="5.35"/>
<circle cx="948.1" cy="901.3" r="5.35"/>
<circle cx="953.1" cy="901.3" r="5.35"/>
<circle cx="958.2" cy="901.3" r="5.35"/>
<circle cx="960.7" cy="901.3" r="5.35"/>
<circle cx="963.2" cy="901.3" r="5.35"/>
<circle cx="968.2" cy="901.3" r="5.35"/>
<circle cx="973.2" cy="901.3" r="5.35"/>
<circle cx="975.8" cy="901.3" r="5.35"/>
<circle cx="978.3" cy="901.3" r="5.35"/>
<circle cx="983.3" cy="901.3" r="5.35"/>
<circle cx="985.8" cy="901.3" r="5.35"/>
<circle cx="988.3" cy="901.3" r="5.35"/>
<circle cx="993.4" cy="901.3" r="5.35"/>
<circle cx="998.4" cy="901.3" r="5.35"/>
<circle cx="1000.9" cy="901.3" r="5.35"/>
<circle cx="1003.4" cy="901.3" r="5.35"/>
<circle cx="1008.4" cy="901.3" r="5.35"/>
<circle cx="1013.5" cy="901.3" r="5.35"/>
<circle cx="1016.0" cy="901.3" r="5.35"/>
<circle cx="1018.5" cy="901.3" r="5.35"/>
<circle cx="1023.5" cy="901.3" r="5.35"/>
<circle cx="1028.5" cy="901.3" r="5.35"/>
<circle cx="1033.5" cy="901.3" r="5.35"/>
<circle cx="1038.6" cy="901.3" r="5.35"/>
<circle cx="1043.6" cy="901.3" r="5.35"/>
<circle cx="1048.6" cy="901.3" r="5.35"/>
<circle cx="1053.7" cy="901.3" r="5.35"/>
<circle cx="1058.7" cy="901.3" r="5.35"/>
<circle cx="1063.7" cy="901.3" r="5.35"/>
<circle cx="1068.7" cy="901.3" r="5.35"/>
<circle cx="1073.8" cy="901.3" r="5.35"/>
<circle cx="1078.8" cy="901.3" r="5.35"/>
<circle cx="1083.8" cy="901.3" r="5.35"/>
<circle cx="877.1" cy="939.7" r="5.35"/>
<circle cx="912.1" cy="939.7" r="5.35"/>
<circle cx="932.4" cy="939.7" r="5.35"/>
<circle cx="943.0" cy="939.7" r="5.35"/>
<circle cx="1130.6" cy="939.7" r="5.35"/>
<circle cx="1155.4" cy="939.7" r="5.35"/>
<circle cx="1217.6" cy="939.7" r="5.35"/>
<circle cx="954.1" cy="939.7" r="5.35"/>
<circle cx="959.1" cy="939.7" r="5.35"/>
<circle cx="961.6" cy="939.7" r="5.35"/>
<circle cx="964.1" cy="939.7" r="5.35"/>
<circle cx="969.2" cy="939.7" r="5.35"/>
<circle cx="971.7" cy="939.7" r="5.35"/>
<circle cx="974.2" cy="939.7" r="5.35"/>
<circle cx="979.2" cy="939.7" r="5.35"/>
<circle cx="984.2" cy="939.7" r="5.35"/>
<circle cx="989.3" cy="939.7" r="5.35"/>
<circle cx="994.3" cy="939.7" r="5.35"/>
<circle cx="996.8" cy="939.7" r="5.35"/>
<circle cx="999.3" cy="939.7" r="5.35"/>
<circle cx="1004.4" cy="939.7" r="5.35"/>
<circle cx="1009.4" cy="939.7" r="5.35"/>
<circle cx="1011.9" cy="939.7" r="5.35"/>
<circle cx="1014.4" cy="939.7" r="5.35"/>
<circle cx="1019.4" cy="939.7" r="5.35"/>
<circle cx="1021.9" cy="939.7" r="5.35"/>
<circle cx="1024.5" cy="939.7" r="5.35"/>
<circle cx="1029.5" cy="939.7" r="5.35"/>
<circle cx="1034.5" cy="939.7" r="5.35"/>
<circle cx="1039.5" cy="939.7" r="5.35"/>
<circle cx="1044.5" cy="939.7" r="5.35"/>
<circle cx="1049.6" cy="939.7" r="5.35"/>
<circle cx="1054.6" cy="939.7" r="5.35"/>
<circle cx="1057.1" cy="939.7" r="5.35"/>
<circle cx="1059.6" cy="939.7" r="5.35"/>
<circle cx="1064.7" cy="939.7" r="5.35"/>
<circle cx="1067.2" cy="939.7" r="5.35"/>
<circle cx="1069.7" cy="939.7" r="5.35"/>
<circle cx="1074.7" cy="939.7" r="5.35"/>
<circle cx="1079.7" cy="939.7" r="5.35"/>
<circle cx="1084.8" cy="939.7" r="5.35"/>
<circle cx="1087.3" cy="939.7" r="5.35"/>
<circle cx="1089.8" cy="939.7" r="5.35"/>
<circle cx="1094.8" cy="939.7" r="5.35"/>
<circle cx="1107.0" cy="939.7" r="5.35"/>
<circle cx="1113.4" cy="939.7" r="5.35"/>
</g>
<g stroke="#000" fill="none" stroke-width="2.9" stroke-linecap="round">
<path d="M179.5 291.7 L554.9 176.5"/>
<path d="M847.2 241.3 L1235.4 301.9"/>
<path d="M1518.1 334.9 L1903.1 198.7"/>
<path d="M217.5 936.6 L552.2 622.5"/>
</g>
</svg></body></html>
